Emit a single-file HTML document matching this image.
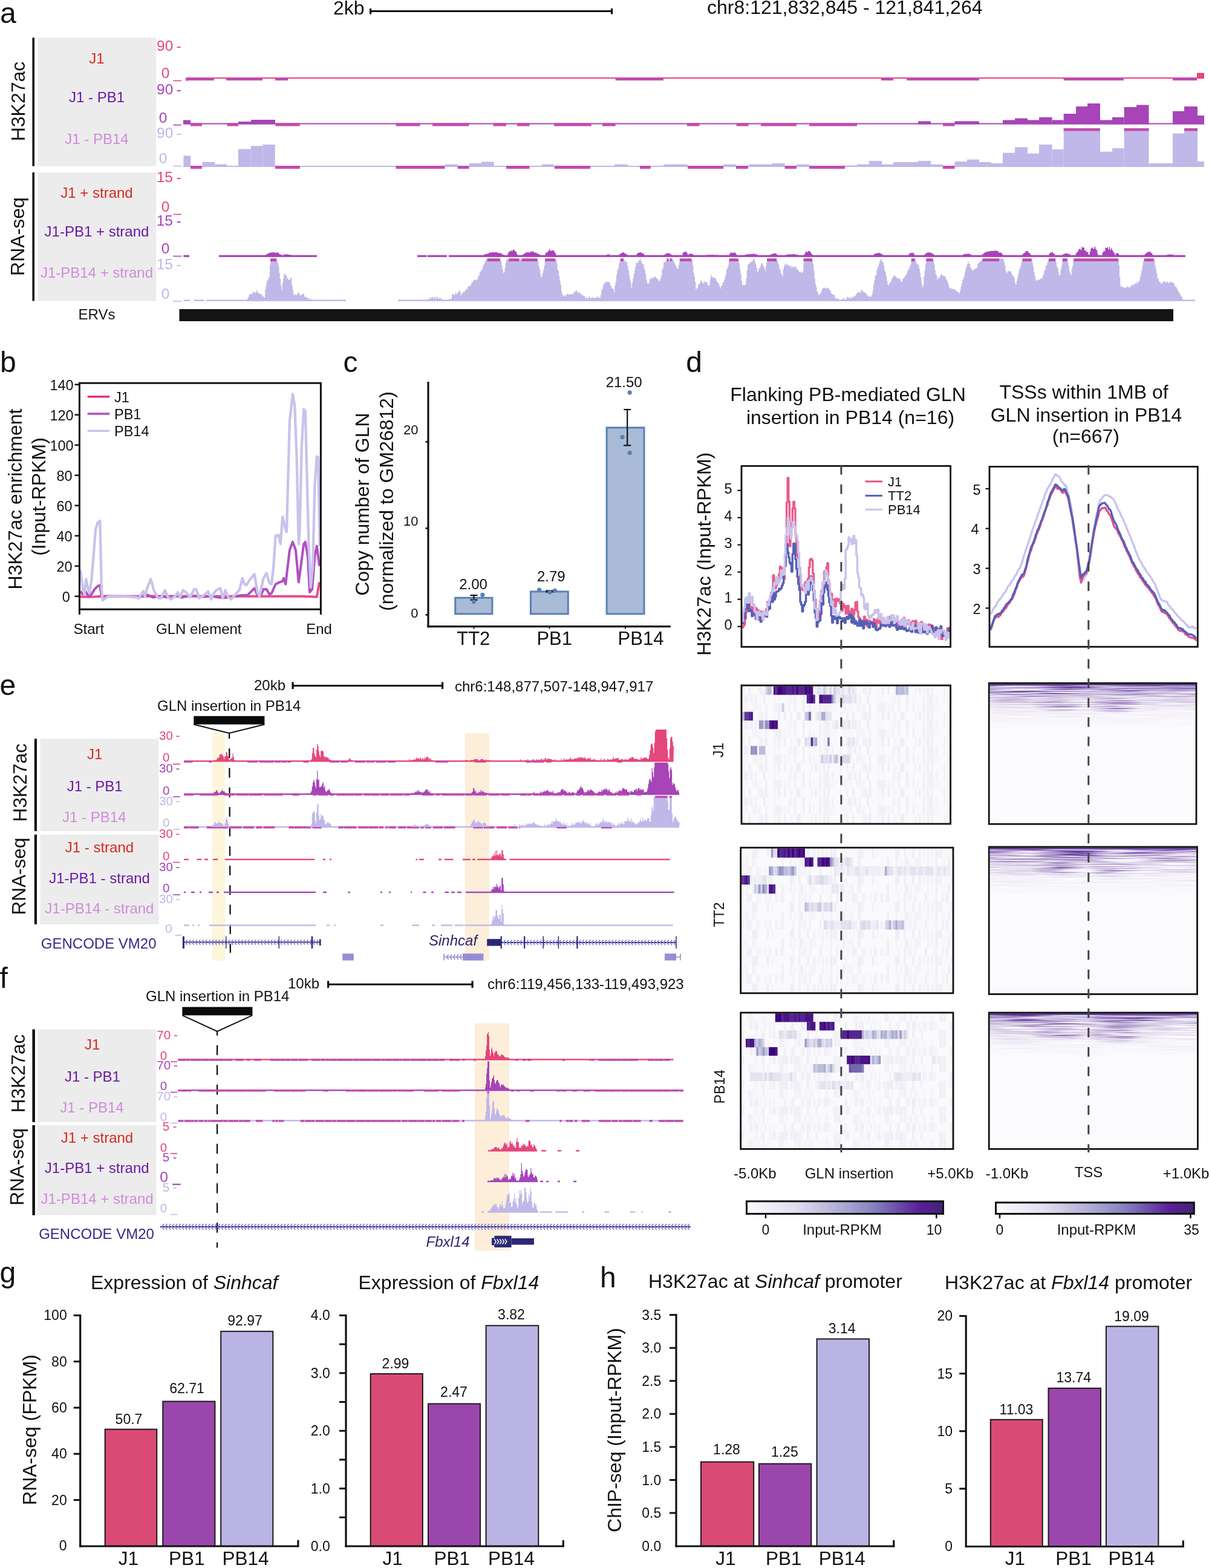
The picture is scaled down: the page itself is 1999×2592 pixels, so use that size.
<!DOCTYPE html>
<html><head><meta charset="utf-8"><title>Figure</title>
<style>html,body{margin:0;padding:0;background:#fff;width:1999px;height:2592px;overflow:hidden}svg{display:block}</style>
</head><body>
<svg width="1999" height="2592" viewBox="0 0 1999 2592" font-family="Liberation Sans, Arial, Helvetica, sans-serif" shape-rendering="auto">
<rect width="1999" height="2592" fill="#fff"/>
<text x="0" y="37.5" font-size="48" fill="#111">a</text>
<text x="551" y="24" font-size="32" fill="#111">2kb</text>
<line x1="612" y1="18.5" x2="1013" y2="18.5" stroke="#111" stroke-width="3"/>
<rect x="611" y="14" width="3.2" height="9.5" fill="#111"/>
<rect x="1010" y="14" width="3.2" height="9.5" fill="#111"/>
<text x="1169" y="23" font-size="32" fill="#111">chr8:121,832,845 - 121,841,264</text>
<rect x="62.3" y="62.3" width="196" height="212.3" fill="#ececec"/>
<rect x="62.3" y="285" width="196" height="212.5" fill="#ececec"/>
<rect x="53.4" y="62.3" width="3.6" height="212.3" fill="#111"/>
<rect x="53.4" y="285" width="3.6" height="212.5" fill="#111"/>
<text x="41" y="167.5" font-size="32" fill="#111" text-anchor="middle" transform="rotate(-90 41 167.5)">H3K27ac</text>
<text x="40" y="391" font-size="32" fill="#111" text-anchor="middle" transform="rotate(-90 40 391)">RNA-seq</text>
<text x="160" y="104.5" font-size="24" fill="#d8291f" text-anchor="middle">J1</text>
<text x="160" y="169" font-size="24" fill="#6c18a4" text-anchor="middle">J1 - PB1</text>
<text x="160" y="237.5" font-size="24" fill="#d08cda" text-anchor="middle">J1 - PB14</text>
<text x="160" y="327" font-size="24" fill="#d8291f" text-anchor="middle">J1 + strand</text>
<text x="160" y="391" font-size="24" fill="#6c18a4" text-anchor="middle">J1-PB1 + strand</text>
<text x="160" y="459" font-size="24" fill="#d08cda" text-anchor="middle">J1-PB14 + strand</text>
<text x="160" y="528" font-size="24" fill="#111" text-anchor="middle">ERVs</text>
<text x="259" y="84.2" font-size="24.5" fill="#e5467b">90</text>
<text x="291.5" y="84.2" font-size="24.5" fill="#e5467b">-</text>
<text x="266.8" y="129" font-size="24.5" fill="#e5467b">0</text>
<line x1="286.3" y1="133.4" x2="299.9" y2="133.4" stroke="#e5467b" stroke-width="1.6"/>
<text x="259" y="156.2" font-size="24.5" fill="#a644b8">90</text>
<text x="291.5" y="156.2" font-size="24.5" fill="#a644b8">-</text>
<text x="262.8" y="202.5" font-size="24.5" fill="#a644b8">0</text>
<line x1="286.3" y1="206.5" x2="299.9" y2="206.5" stroke="#a644b8" stroke-width="1.6"/>
<text x="259" y="228.2" font-size="24.5" fill="#c0b8e8">90</text>
<text x="291.5" y="228.2" font-size="24.5" fill="#c0b8e8">-</text>
<text x="262.8" y="270.2" font-size="24.5" fill="#c0b8e8">0</text>
<line x1="286.3" y1="274.5" x2="299.9" y2="274.5" stroke="#c0b8e8" stroke-width="1.6"/>
<text x="258.7" y="301" font-size="24.5" fill="#e5467b">15</text>
<text x="291.5" y="301" font-size="24.5" fill="#e5467b">-</text>
<text x="266.8" y="350" font-size="24.5" fill="#e5467b">0</text>
<line x1="286.3" y1="354.4" x2="299.9" y2="354.4" stroke="#e5467b" stroke-width="1.6"/>
<text x="258.7" y="373" font-size="24.5" fill="#a644b8">15</text>
<text x="291.5" y="373" font-size="24.5" fill="#a644b8">-</text>
<text x="266.8" y="419" font-size="24.5" fill="#a644b8">0</text>
<line x1="286.3" y1="423.5" x2="299.9" y2="423.5" stroke="#a644b8" stroke-width="1.6"/>
<text x="258.7" y="444.5" font-size="24.5" fill="#c0b8e8">15</text>
<text x="291.5" y="444.5" font-size="24.5" fill="#c0b8e8">-</text>
<text x="266.8" y="494" font-size="24.5" fill="#c0b8e8">0</text>
<line x1="286.3" y1="498" x2="299.9" y2="498" stroke="#c0b8e8" stroke-width="1.6"/>
<line x1="308" y1="129" x2="1980" y2="129" stroke="#e5467b" stroke-width="2"/>
<rect x="308" y="128" width="46" height="5" fill="#c24bae"/>
<rect x="374" y="128" width="60" height="5" fill="#c24bae"/>
<rect x="455" y="128" width="21" height="5" fill="#c24bae"/>
<rect x="1017.6" y="128" width="79.4" height="5" fill="#c24bae"/>
<rect x="1457" y="128" width="20" height="5" fill="#c24bae"/>
<rect x="1499" y="128" width="120" height="5" fill="#c24bae"/>
<rect x="1758.7" y="128" width="99.3" height="5" fill="#c24bae"/>
<rect x="1939" y="128" width="40" height="5" fill="#c24bae"/>
<rect x="307" y="129" width="4" height="4.5" fill="#c24bae"/>
<rect x="1979" y="120.5" width="12" height="9.5" fill="#e5467b"/>
<line x1="303" y1="204.5" x2="1991" y2="204.5" stroke="#a644b8" stroke-width="2.2"/>
<rect x="303" y="198.5" width="12" height="7" fill="#a644b8"/>
<rect x="394" y="201" width="21" height="4.5" fill="#a644b8"/>
<rect x="415" y="198" width="40" height="7.5" fill="#a644b8"/>
<rect x="1518" y="200.4" width="21" height="5.1" fill="#a644b8"/>
<rect x="1578.5" y="200.4" width="40.5" height="5.1" fill="#a644b8"/>
<rect x="1658" y="198.5" width="20" height="7" fill="#a644b8"/>
<rect x="1678" y="195.6" width="21" height="9.9" fill="#a644b8"/>
<rect x="1699" y="198.5" width="19" height="7" fill="#a644b8"/>
<rect x="1718" y="193.8" width="21.6" height="11.8" fill="#a644b8"/>
<rect x="1739.6" y="198.5" width="19.1" height="7" fill="#a644b8"/>
<rect x="1758.7" y="188" width="20.3" height="17.5" fill="#a644b8"/>
<rect x="1779" y="176" width="19" height="29.5" fill="#a644b8"/>
<rect x="1798" y="171" width="21" height="34.5" fill="#a644b8"/>
<rect x="1819" y="198.5" width="20" height="7" fill="#a644b8"/>
<rect x="1839" y="193.8" width="19.7" height="11.8" fill="#a644b8"/>
<rect x="1858.7" y="177" width="20.3" height="28.5" fill="#a644b8"/>
<rect x="1879" y="173.5" width="20.5" height="32" fill="#a644b8"/>
<rect x="1939" y="183.8" width="19" height="21.7" fill="#a644b8"/>
<rect x="1958" y="176" width="22" height="29.5" fill="#a644b8"/>
<rect x="1980" y="191" width="11" height="14.5" fill="#a644b8"/>
<rect x="315" y="203.5" width="19" height="5" fill="#c24bae"/>
<rect x="375.5" y="203.5" width="18.5" height="5" fill="#c24bae"/>
<rect x="455.4" y="203.5" width="40.4" height="5" fill="#c24bae"/>
<rect x="654.6" y="203.5" width="40.1" height="5" fill="#c24bae"/>
<rect x="715" y="203.5" width="60.5" height="5" fill="#c24bae"/>
<rect x="815.6" y="203.5" width="21.4" height="5" fill="#c24bae"/>
<rect x="854.8" y="203.5" width="20.7" height="5" fill="#c24bae"/>
<rect x="916" y="203.5" width="61.7" height="5" fill="#c24bae"/>
<rect x="996" y="203.5" width="21.6" height="5" fill="#c24bae"/>
<rect x="1136" y="203.5" width="20.5" height="5" fill="#c24bae"/>
<rect x="1217.5" y="203.5" width="20.3" height="5" fill="#c24bae"/>
<rect x="1258" y="203.5" width="59" height="5" fill="#c24bae"/>
<rect x="1338" y="203.5" width="79" height="5" fill="#c24bae"/>
<rect x="1559" y="203.5" width="19.5" height="5" fill="#c24bae"/>
<line x1="303" y1="275" x2="1991" y2="275" stroke="#c0b8e8" stroke-width="2"/>
<rect x="303.4" y="257.4" width="11.8" height="18.6" fill="#c0b8e8"/>
<rect x="334.5" y="267.8" width="20.8" height="8.2" fill="#c0b8e8"/>
<rect x="355.3" y="271.6" width="20.2" height="4.4" fill="#c0b8e8"/>
<rect x="394" y="246.4" width="20.7" height="29.6" fill="#c0b8e8"/>
<rect x="414.7" y="241.3" width="19.9" height="34.7" fill="#c0b8e8"/>
<rect x="434.6" y="239" width="20.2" height="37" fill="#c0b8e8"/>
<rect x="735.4" y="271.6" width="21.3" height="4.4" fill="#c0b8e8"/>
<rect x="775.5" y="270" width="20.5" height="6" fill="#c0b8e8"/>
<rect x="796" y="267.4" width="20.7" height="8.6" fill="#c0b8e8"/>
<rect x="895.8" y="271.7" width="20.2" height="4.3" fill="#c0b8e8"/>
<rect x="1016" y="271.7" width="21.6" height="4.3" fill="#c0b8e8"/>
<rect x="1097" y="271.7" width="40" height="4.3" fill="#c0b8e8"/>
<rect x="1196" y="271.7" width="21" height="4.3" fill="#c0b8e8"/>
<rect x="1237.8" y="271.7" width="39.2" height="4.3" fill="#c0b8e8"/>
<rect x="1277" y="270" width="20.6" height="6" fill="#c0b8e8"/>
<rect x="1317" y="271.7" width="21" height="4.3" fill="#c0b8e8"/>
<rect x="1397" y="273.5" width="20" height="2.5" fill="#c0b8e8"/>
<rect x="1417" y="271.7" width="20" height="4.3" fill="#c0b8e8"/>
<rect x="1437" y="266" width="21" height="10" fill="#c0b8e8"/>
<rect x="1458" y="271.7" width="19" height="4.3" fill="#c0b8e8"/>
<rect x="1477" y="268" width="41" height="8" fill="#c0b8e8"/>
<rect x="1518" y="266" width="21" height="10" fill="#c0b8e8"/>
<rect x="1539" y="271.7" width="20" height="4.3" fill="#c0b8e8"/>
<rect x="1578.5" y="267" width="20.5" height="9" fill="#c0b8e8"/>
<rect x="1599" y="263.6" width="20" height="12.4" fill="#c0b8e8"/>
<rect x="1619" y="268" width="20" height="8" fill="#c0b8e8"/>
<rect x="1639" y="270" width="19" height="6" fill="#c0b8e8"/>
<rect x="1658" y="252.6" width="20" height="23.4" fill="#c0b8e8"/>
<rect x="1678" y="243.4" width="21" height="32.6" fill="#c0b8e8"/>
<rect x="1699" y="253.7" width="19" height="22.3" fill="#c0b8e8"/>
<rect x="1718" y="239" width="21.6" height="37" fill="#c0b8e8"/>
<rect x="1739.6" y="247" width="19.1" height="29" fill="#c0b8e8"/>
<rect x="1758.7" y="212" width="60.3" height="64" fill="#c0b8e8"/>
<rect x="1758.7" y="212" width="60.3" height="4.5" fill="#c24bae"/>
<rect x="1819" y="250.7" width="20" height="25.3" fill="#c0b8e8"/>
<rect x="1839" y="245" width="19.7" height="31" fill="#c0b8e8"/>
<rect x="1858.7" y="212" width="40.8" height="64" fill="#c0b8e8"/>
<rect x="1858.7" y="212" width="40.8" height="4.5" fill="#c24bae"/>
<rect x="1899.5" y="270" width="39.5" height="6" fill="#c0b8e8"/>
<rect x="1939" y="220.6" width="19" height="55.4" fill="#c0b8e8"/>
<rect x="1958" y="212" width="22" height="64" fill="#c0b8e8"/>
<rect x="1958" y="212" width="22" height="4.5" fill="#c24bae"/>
<rect x="1980" y="267" width="11" height="9" fill="#c0b8e8"/>
<rect x="315" y="274" width="19" height="5" fill="#c24bae"/>
<rect x="455" y="274" width="40.8" height="5" fill="#c24bae"/>
<rect x="654.6" y="274" width="80.8" height="5" fill="#c24bae"/>
<rect x="756.7" y="274" width="18.8" height="5" fill="#c24bae"/>
<rect x="837" y="274" width="38.5" height="5" fill="#c24bae"/>
<rect x="917" y="274" width="59" height="5" fill="#c24bae"/>
<rect x="1058" y="274" width="17.7" height="5" fill="#c24bae"/>
<rect x="1137" y="274" width="59" height="5" fill="#c24bae"/>
<rect x="1217" y="274" width="20" height="5" fill="#c24bae"/>
<rect x="1297.6" y="274" width="19.4" height="5" fill="#c24bae"/>
<rect x="1338" y="274" width="59" height="5" fill="#c24bae"/>
<rect x="1559" y="274" width="19.5" height="5" fill="#c24bae"/>
<polygon points="438,423.2 438,423.2 439.6,423.2 439.6,421.1 441.2,421.1 441.2,419.2 442.8,419.2 442.8,419.4 444.4,419.4 444.4,417.7 446,417.7 446,417.5 447.6,417.5 447.6,418 449.2,418 449.2,416.5 450.8,416.5 450.8,417.7 452.4,417.7 452.4,416.6 454,416.6 454,417.7 455.6,417.7 455.6,417.9 457.2,417.9 457.2,417.5 458.8,417.5 458.8,417.1 460.4,417.1 460.4,419.4 462,419.4 462,420 463.6,420 463.6,420.8 465.2,420.8 465,423.2" fill="#a644b8"/>
<polygon points="465,423.2 465,423.2 466.6,423.2 466.6,421.8 468.2,421.8 468.2,421.3 469.8,421.3 469.8,420.3 471.4,420.3 471.4,421 473,421 473,419.9 474.6,419.9 474.6,420.6 476.2,420.6 476.2,420.9 477.8,420.9 477.8,421.1 479.4,421.1 479.4,421.3 481,421.3 481,421.5 482.6,421.5 482.6,422.7 484.2,422.7 483,423.2" fill="#a644b8"/>
<polygon points="798,423.2 798,423.2 799.6,423.2 799.6,421.2 801.2,421.2 801.2,420.5 802.8,420.5 802.8,419.5 804.4,419.5 804.4,419.7 806,419.7 806,419.3 807.6,419.3 807.6,418.6 809.2,418.6 809.2,417.2 810.8,417.2 810.8,417.5 812.4,417.5 812.4,417.6 814,417.6 814,416.8 815.6,416.8 815.6,417.1 817.2,417.1 817.2,417.6 818.8,417.6 818.8,416.4 820.4,416.4 820.4,416.9 822,416.9 822,418.3 823.6,418.3 823.6,417.8 825.2,417.8 825.2,418.4 826.8,418.4 826.8,418.3 828.4,418.3 828.4,419.3 830,419.3 830,420.7 831.6,420.7 831.6,421.1 833.2,421.1 833,423.2" fill="#a644b8"/>
<polygon points="838,423.2 838,423.2 839.6,423.2 839.6,418.6 841.2,418.6 841.2,415.5 842.8,415.5 842.8,416 844.4,416 844.4,413.8 846,413.8 846,415.3 847.6,415.3 847.6,412.7 849.2,412.7 849.2,413 850.8,413 850.8,415 852.4,415 852.4,416 854,416 854,419.9 855.6,419.9 855,423.2" fill="#a644b8"/>
<polygon points="862,423.2 862,423.2 863.6,423.2 863.6,420.9 865.2,420.9 865.2,419.8 866.8,419.8 866.8,419.2 868.4,419.2 868.4,417.7 870,417.7 870,416.8 871.6,416.8 871.6,417.5 873.2,417.5 873.2,416.6 874.8,416.6 874.8,418 876.4,418 876.4,416.1 878,416.1 878,416.2 879.6,416.2 879.6,415.3 881.2,415.3 881.2,415.9 882.8,415.9 882.8,417.6 884.4,417.6 884.4,417.7 886,417.7 886,417.5 887.6,417.5 887.6,419.4 889.2,419.4 889.2,419.2 890.8,419.2 890.8,420.4 892.4,420.4 892.4,421.4 894,421.4 894,423.2" fill="#a644b8"/>
<polygon points="900,423.2 900,423.2 901.6,423.2 901.6,418.3 903.2,418.3 903.2,417.7 904.8,417.7 904.8,416 906.4,416 906.4,414.5 908,414.5 908,412 909.6,412 909.6,415.1 911.2,415.1 911.2,413.7 912.8,413.7 912.8,414 914.4,414 914.4,414 916,414 916,416 917.6,416 917.6,418.5 919.2,418.5 919,423.2" fill="#a644b8"/>
<polygon points="1001,423.2 1001,423.2 1002.6,423.2 1002.6,421 1004.2,421 1004.2,420.5 1005.8,420.5 1005.8,420.2 1007.4,420.2 1007.4,421.6 1009,421.6 1008,423.2" fill="#a644b8"/>
<polygon points="1022,423.2 1022,423.2 1023.6,423.2 1023.6,420.6 1025.2,420.6 1025.2,419.4 1026.8,419.4 1026.8,418.6 1028.4,418.6 1028.4,417.6 1030,417.6 1030,417.2 1031.6,417.2 1031.6,418.3 1033.2,418.3 1033.2,419.5 1034.8,419.5 1034.8,419.8 1036.4,419.8 1036.4,421.6 1038,421.6 1037,423.2" fill="#a644b8"/>
<polygon points="1051,423.2 1051,423.2 1052.6,423.2 1052.6,419.5 1054.2,419.5 1054.2,418.3 1055.8,418.3 1055.8,417.8 1057.4,417.8 1057.4,417.2 1059,417.2 1059,417.1 1060.6,417.1 1060.6,419 1062.2,419 1062.2,418.3 1063.8,418.3 1063.8,420.3 1065.4,420.3 1065,423.2" fill="#a644b8"/>
<polygon points="1097,423.2 1097,423.2 1098.6,423.2 1098.6,420.2 1100.2,420.2 1100.2,419.5 1101.8,419.5 1101.8,418.8 1103.4,418.8 1103.4,419.1 1105,419.1 1105,418 1106.6,418 1106.6,419.6 1108.2,419.6 1108.2,420.3 1109.8,420.3 1109.8,421.2 1111.4,421.2 1111,423.2" fill="#a644b8"/>
<polygon points="1127,423.2 1127,423.2 1128.6,423.2 1128.6,417.9 1130.2,417.9 1130.2,416.7 1131.8,416.7 1131.8,416.3 1133.4,416.3 1133.4,416.1 1135,416.1 1135,417.9 1136.6,417.9 1136.6,420.8 1138.2,420.8 1137,423.2" fill="#a644b8"/>
<polygon points="1137,423.2 1137,423.2 1138.6,423.2 1138.6,420.1 1140.2,420.1 1140.2,419.3 1141.8,419.3 1141.8,419.7 1143.4,419.7 1143.4,419.7 1145,419.7 1145,420.4 1146.6,420.4 1146.6,422.1 1148.2,422.1 1147,423.2" fill="#a644b8"/>
<polygon points="1157,423.2 1157,423.2 1158.6,423.2 1158.6,422.5 1160.2,422.5 1160.2,422 1161.8,422 1161.8,422 1163.4,422 1163.4,421.8 1165,421.8 1165,421.9 1166.6,421.9 1166.6,421.8 1168.2,421.8 1168.2,421.5 1169.8,421.5 1169.8,421.5 1171.4,421.5 1171.4,420.9 1173,420.9 1173,421.4 1174.6,421.4 1174.6,421.6 1176.2,421.6 1176.2,420.8 1177.8,420.8 1177.8,421.2 1179.4,421.2 1179.4,421.5 1181,421.5 1181,421.3 1182.6,421.3 1182.6,421.8 1184.2,421.8 1184.2,421.5 1185.8,421.5 1185.8,421.4 1187.4,421.4 1187.4,421.7 1189,421.7 1189,422 1190.6,422 1190.6,422.5 1192.2,422.5 1192.2,422.8 1193.8,422.8 1193,423.2" fill="#a644b8"/>
<polygon points="1204,423.2 1204,423.2 1205.6,423.2 1205.6,419.8 1207.2,419.8 1207.2,418.6 1208.8,418.6 1208.8,417.2 1210.4,417.2 1210.4,417.9 1212,417.9 1212,418.2 1213.6,418.2 1213.6,417.3 1215.2,417.3 1215.2,418.1 1216.8,418.1 1216.8,420.2 1218.4,420.2 1218,423.2" fill="#a644b8"/>
<polygon points="1229,423.2 1229,423.2 1230.6,423.2 1230.6,421.6 1232.2,421.6 1232.2,420.9 1233.8,420.9 1233.8,420.9 1235.4,420.9 1235.4,420.1 1237,420.1 1237,420.1 1238.6,420.1 1238.6,420.3 1240.2,420.3 1240.2,420.3 1241.8,420.3 1241.8,419.8 1243.4,419.8 1243.4,419.9 1245,419.9 1245,419.4 1246.6,419.4 1246.6,419.3 1248.2,419.3 1248.2,420.4 1249.8,420.4 1249.8,420.3 1251.4,420.3 1251.4,420.9 1253,420.9 1253,421.9 1254.6,421.9 1254,423.2" fill="#a644b8"/>
<polygon points="1271,423.2 1271,423.2 1272.6,423.2 1272.6,421.3 1274.2,421.3 1274.2,420.5 1275.8,420.5 1275.8,420 1277.4,420 1277.4,419.6 1279,419.6 1279,418.9 1280.6,418.9 1280.6,418.7 1282.2,418.7 1282.2,419.3 1283.8,419.3 1283.8,420.7 1285.4,420.7 1285.4,421.9 1287,421.9 1286,423.2" fill="#a644b8"/>
<polygon points="1296,423.2 1296,423.2 1297.6,423.2 1297.6,422.3 1299.2,422.3 1299.2,421.5 1300.8,421.5 1300.8,420.8 1302.4,420.8 1302.4,420.6 1304,420.6 1304,420.4 1305.6,420.4 1305.6,420.5 1307.2,420.5 1307.2,420.7 1308.8,420.7 1308.8,420 1310.4,420 1310.4,420.5 1312,420.5 1312,420.1 1313.6,420.1 1313.6,420.1 1315.2,420.1 1315.2,420.9 1316.8,420.9 1316.8,421.2 1318.4,421.2 1318.4,421.2 1320,421.2 1320,421.9 1321.6,421.9 1321.6,422.8 1323.2,422.8 1322,423.2" fill="#a644b8"/>
<polygon points="1328,423.2 1328,423.2 1329.6,423.2 1329.6,420 1331.2,420 1331.2,416.7 1332.8,416.7 1332.8,415.6 1334.4,415.6 1334.4,417 1336,417 1336,414.8 1337.6,414.8 1337.6,414.8 1339.2,414.8 1339.2,416.7 1340.8,416.7 1340.8,418.9 1342.4,418.9 1342.4,421 1344,421 1343,423.2" fill="#a644b8"/>
<polygon points="1442,423.2 1442,423.2 1443.6,423.2 1443.6,421.6 1445.2,421.6 1445.2,419.6 1446.8,419.6 1446.8,419.3 1448.4,419.3 1448.4,419 1450,419 1450,417.9 1451.6,417.9 1451.6,418.8 1453.2,418.8 1453.2,418.1 1454.8,418.1 1454.8,418.5 1456.4,418.5 1456.4,420 1458,420 1458,420.6 1459.6,420.6 1459.6,421.5 1461.2,421.5 1461,423.2" fill="#a644b8"/>
<polygon points="1501,423.2 1501,423.2 1502.6,423.2 1502.6,419.5 1504.2,419.5 1504.2,418.7 1505.8,418.7 1505.8,417.7 1507.4,417.7 1507.4,418.4 1509,418.4 1509,417.5 1510.6,417.5 1510.6,420.1 1512.2,420.1 1512,423.2" fill="#a644b8"/>
<polygon points="1527,423.2 1527,423.2 1528.6,423.2 1528.6,420.4 1530.2,420.4 1530.2,418.6 1531.8,418.6 1531.8,418.5 1533.4,418.5 1533.4,416.8 1535,416.8 1535,417.5 1536.6,417.5 1536.6,417.4 1538.2,417.4 1538.2,417.6 1539.8,417.6 1539.8,419.2 1541.4,419.2 1541.4,419.1 1543,419.1 1543,420.6 1544.6,420.6 1544.6,422.3 1546.2,422.3 1545,423.2" fill="#a644b8"/>
<polygon points="1589,423.2 1589,423.2 1590.6,423.2 1590.6,421.8 1592.2,421.8 1592.2,420.8 1593.8,420.8 1593.8,420 1595.4,420 1595.4,419.8 1597,419.8 1597,419.9 1598.6,419.9 1598.6,419.5 1600.2,419.5 1600.2,419.6 1601.8,419.6 1601.8,419.5 1603.4,419.5 1603.4,420.8 1605,420.8 1605,420.8 1606.6,420.8 1606.6,421.9 1608.2,421.9 1608,423.2" fill="#a644b8"/>
<polygon points="1622,423.2 1622,423.2 1623.6,423.2 1623.6,420.4 1625.2,420.4 1625.2,419.4 1626.8,419.4 1626.8,418.3 1628.4,418.3 1628.4,417 1630,417 1630,415.9 1631.6,415.9 1631.6,416.5 1633.2,416.5 1633.2,415.6 1634.8,415.6 1634.8,415.5 1636.4,415.5 1636.4,415.2 1638,415.2 1638,414.4 1639.6,414.4 1639.6,415.1 1641.2,415.1 1641.2,414.8 1642.8,414.8 1642.8,415.1 1644.4,415.1 1644.4,413.7 1646,413.7 1646,414.8 1647.6,414.8 1647.6,414.7 1649.2,414.7 1649.2,415 1650.8,415 1650.8,417.5 1652.4,417.5 1652.4,417.4 1654,417.4 1654,417.4 1655.6,417.4 1655.6,418.8 1657.2,418.8 1657.2,420.9 1658.8,420.9 1658.8,422.6 1660.4,422.6 1659,423.2" fill="#a644b8"/>
<polygon points="1689,423.2 1689,423.2 1690.6,423.2 1690.6,420.1 1692.2,420.1 1692.2,418.2 1693.8,418.2 1693.8,417.7 1695.4,417.7 1695.4,415.4 1697,415.4 1697,414.9 1698.6,414.9 1698.6,415 1700.2,415 1700.2,418 1701.8,418 1701.8,418.2 1703.4,418.2 1703.4,420.9 1705,420.9 1704,423.2" fill="#a644b8"/>
<polygon points="1733,423.2 1733,423.2 1734.6,423.2 1734.6,419.1 1736.2,419.1 1736.2,417.2 1737.8,417.2 1737.8,418.2 1739.4,418.2 1739.4,416.5 1741,416.5 1741,418.5 1742.6,418.5 1742.6,419.9 1744.2,419.9 1744,423.2" fill="#a644b8"/>
<polygon points="1755,423.2 1755,423.2 1756.6,423.2 1756.6,420.5 1758.2,420.5 1758.2,420.3 1759.8,420.3 1759.8,419.2 1761.4,419.2 1761.4,418.7 1763,418.7 1763,419 1764.6,419 1764.6,419.5 1766.2,419.5 1766.2,419.8 1767.8,419.8 1767.8,420.1 1769.4,420.1 1769.4,422.2 1771,422.2 1770,423.2" fill="#a644b8"/>
<polygon points="1777,423.2 1777,423.2 1778.6,423.2 1778.6,418.4 1780.2,418.4 1780.2,417.3 1781.8,417.3 1781.8,414.7 1783.4,414.7 1783.4,412.1 1785,412.1 1785,411.6 1786.6,411.6 1786.6,413.3 1788.2,413.3 1788.2,408.3 1789.8,408.3 1789.8,409.4 1791.4,409.4 1791.4,409 1793,409 1793,414.1 1794.6,414.1 1794.6,414.4 1796.2,414.4 1796.2,416.7 1797.8,416.7 1797.8,416.5 1799.4,416.5 1799.4,420.7 1801,420.7 1800,423.2" fill="#a644b8"/>
<polygon points="1800,423.2 1800,423.2 1801.6,423.2 1801.6,416.2 1803.2,416.2 1803.2,410.8 1804.8,410.8 1804.8,408.8 1806.4,408.8 1806.4,410.8 1808,410.8 1808,411.3 1809.6,411.3 1809.6,407.6 1811.2,407.6 1811.2,411.4 1812.8,411.4 1812.8,413.8 1814.4,413.8 1814.4,419.9 1816,419.9 1815,423.2" fill="#a644b8"/>
<polygon points="1821,423.2 1821,423.2 1822.6,423.2 1822.6,417.4 1824.2,417.4 1824.2,415.4 1825.8,415.4 1825.8,415 1827.4,415 1827.4,409.6 1829,409.6 1829,410 1830.6,410 1830.6,408.5 1832.2,408.5 1832.2,412.3 1833.8,412.3 1833.8,408.3 1835.4,408.3 1835.4,413.2 1837,413.2 1837,410.3 1838.6,410.3 1838.6,413.8 1840.2,413.8 1840.2,416.2 1841.8,416.2 1841.8,418.5 1843.4,418.5 1843,423.2" fill="#a644b8"/>
<polygon points="1843,423.2 1843,423.2 1844.6,423.2 1844.6,419.2 1846.2,419.2 1846.2,418.4 1847.8,418.4 1847.8,418 1849.4,418 1849.4,420.9 1851,420.9 1850,423.2" fill="#a644b8"/>
<polygon points="1891,423.2 1891,423.2 1892.6,423.2 1892.6,419.9 1894.2,419.9 1894.2,418.7 1895.8,418.7 1895.8,417.3 1897.4,417.3 1897.4,416.5 1899,416.5 1899,416.4 1900.6,416.4 1900.6,415.4 1902.2,415.4 1902.2,417.7 1903.8,417.7 1903.8,418.6 1905.4,418.6 1905.4,421.4 1907,421.4 1906,423.2" fill="#a644b8"/>
<polygon points="1924,423.2 1924,423.2 1925.6,423.2 1925.6,422.3 1927.2,422.3 1927.2,421.8 1928.8,421.8 1928.8,421.6 1930.4,421.6 1930.4,420.7 1932,420.7 1932,420.7 1933.6,420.7 1933.6,421.1 1935.2,421.1 1935.2,420.8 1936.8,420.8 1936.8,420.4 1938.4,420.4 1938.4,421.4 1940,421.4 1940,421.2 1941.6,421.2 1941.6,421.9 1943.2,421.9 1943.2,422.5 1944.8,422.5 1944,423.2" fill="#a644b8"/>
<rect x="303.4" y="421.7" width="9.6" height="3.2" fill="#a644b8"/>
<rect x="362" y="421.7" width="162" height="3.2" fill="#a644b8"/>
<rect x="690" y="421.7" width="15.7" height="3.2" fill="#a644b8"/>
<rect x="707" y="421.7" width="32" height="3.2" fill="#a644b8"/>
<rect x="742" y="421.7" width="1218" height="3.2" fill="#a644b8"/>
<polygon points="404.3,497.6 404.3,497.2 405.6,497.2 405.6,496.8 406.9,496.8 406.9,497.5 408.2,497.5 408.2,494.6 409.5,494.6 409.5,492.7 410.8,492.7 410.8,490.1 412.1,490.1 412.1,486 413.4,486 413.4,486.5 414.7,486.5 414.7,486.2 416,486.2 416,486 417.3,486 417.3,482.6 418.6,482.6 418.6,483.3 419.9,483.3 419.9,482.1 421.2,482.1 421.2,484.6 422.5,484.6 422.5,483.1 423.8,483.1 423.8,479.2 425.1,479.2 425.1,482.3 426.4,482.3 426.4,484.2 427.7,484.2 427.7,484.8 429,484.8 429,486.1 430.3,486.1 430.3,485.4 431.6,485.4 431.6,486 432.9,486 432.9,489.6 434.2,489.6 434.2,488.8 435.5,488.8 435.5,490.7 436.8,490.7 436.8,492.2 438.1,492.2 438.1,478.9 439.4,478.9 439.4,472.3 440.7,472.3 440.7,465.7 442,465.7 442,463.3 443.3,463.3 443.3,460.5 444.6,460.5 444.6,456.9 445.9,456.9 445.9,437.7 447.2,437.7 447.2,427.6 448.5,427.6 448.5,427.2 449.8,427.2 449.8,427.2 451.1,427.2 451.1,427.2 452.4,427.2 452.4,427.3 453.7,427.3 453.7,427.3 455,427.3 455,427.3 456.3,427.3 456.3,427.3 457.6,427.3 457.6,430.9 458.9,430.9 458.9,434.9 460.2,434.9 460.2,440 461.5,440 461.5,451.3 462.8,451.3 462.8,461 464.1,461 464.1,472.1 465.4,472.1 465.4,479.4 466.7,479.4 466.7,468.4 468,468.4 468,460.4 469.3,460.4 469.3,454.1 470.6,454.1 470.6,452 471.9,452 471.9,455.8 473.2,455.8 473.2,455.7 474.5,455.7 474.5,460.3 475.8,460.3 475.8,460.4 477.1,460.4 477.1,462.9 478.4,462.9 478.4,462.4 479.7,462.4 479.7,458.7 481,458.7 481,459.6 482.3,459.6 482.3,470.7 483.6,470.7 483.6,478.4 484.9,478.4 484.9,486.5 486.2,486.5 486.2,488.5 487.5,488.5 487.5,486.2 488.8,486.2 488.8,487.7 490.1,487.7 490.1,487.5 491.4,487.5 491.4,484.8 492.7,484.8 492.7,483.5 494,483.5 494,484.2 495.3,484.2 495.3,487.3 496.6,487.3 496.6,488.4 497.9,488.4 497.9,487.3 499.2,487.3 499.2,486.9 500.5,486.9 500.5,485.2 501.8,485.2 501.8,486.1 503.1,486.1 503.1,491 504.4,491 504.4,489.6 505.7,489.6 505.7,492.1 507,492.1 507,492.5 508.3,492.5 508.3,492.2 509.6,492.2 509.6,495.1 510.9,495.1 510.9,493 512.2,493 512.2,495.8 513.5,495.8 513.5,494 514.8,494 514.8,495.8 516.1,495.8 515.7,497.6" fill="#c0b8e8"/>
<polygon points="705.7,497.6 705.7,495.2 707,495.2 707,493.8 708.3,493.8 708.3,495.2 709.6,495.2 709.6,493.8 710.9,493.8 710.9,491.3 712.2,491.3 712.2,493.6 713.5,493.6 713.5,490.4 714.8,490.4 714.8,491 716.1,491 716.1,493.2 717.4,493.2 717.4,492.4 718.7,492.4 718.7,490.2 720,490.2 720,494.3 721.3,494.3 721.3,491.1 722.6,491.1 722.6,491.5 723.9,491.5 723.9,494 725.2,494 725.2,492.7 726.5,492.7 726.5,493.2 727.8,493.2 727.8,492.8 729.1,492.8 729.1,493.5 730.4,493.5 730.4,496.3 731.7,496.3 731.7,495.4 733,495.4 733,496.8 734.3,496.8 734.3,495.7 735.6,495.7 735.6,496 736.9,496 736.9,497.6 738.2,497.6 738.2,496 739.5,496 739.5,496.3 740.8,496.3 740.8,497.5 742.1,497.5 742.1,494.4 743.4,494.4 743.4,494.1 744.7,494.1 744.7,496.3 746,496.3 746,492.4 747.3,492.4 747.3,486.5 748.6,486.5 748.6,485.6 749.9,485.6 749.9,487.3 751.2,487.3 751.2,487.6 752.5,487.6 752.5,483.6 753.8,483.6 753.8,486.3 755.1,486.3 755.1,485.4 756.4,485.4 756.4,483.5 757.7,483.5 757.7,482 759,482 759,480 760.3,480 760.3,481.9 761.6,481.9 761.6,488.6 762.9,488.6 762.9,485.3 764.2,485.3 764.2,485.4 765.5,485.4 765.5,481.8 766.8,481.8 766.8,483.3 768.1,483.3 768.1,481.3 769.4,481.3 769.4,479 770.7,479 770.7,477.5 772,477.5 772,478.4 773.3,478.4 773.3,473.9 774.6,473.9 774.6,473 775.9,473 775.9,472.8 777.2,472.8 777.2,472.5 778.5,472.5 778.5,469.5 779.8,469.5 779.8,466.1 781.1,466.1 781.1,467 782.4,467 782.4,463.2 783.7,463.2 783.7,462.1 785,462.1 785,463 786.3,463 786.3,463.5 787.6,463.5 787.6,461.5 788.9,461.5 788.9,461.8 790.2,461.8 790.2,456.8 791.5,456.8 791.5,455.5 792.8,455.5 792.8,450.5 794.1,450.5 794.1,448.5 795.4,448.5 795.4,447.8 796.7,447.8 796.7,445 798,445 798,440.4 799.3,440.4 799.3,437.3 800.6,437.3 800.6,434.8 801.9,434.8 801.9,431.4 803.2,431.4 803.2,429.4 804.5,429.4 804.5,427.8 805.8,427.8 805.8,430.3 807.1,430.3 807.1,429.4 808.4,429.4 808.4,430.5 809.7,430.5 809.7,426.4 811,426.4 811,429.1 812.3,429.1 812.3,428.4 813.6,428.4 813.6,429.5 814.9,429.5 814.9,427.7 816.2,427.7 816.2,430.7 817.5,430.7 817.5,426.6 818.8,426.6 818.8,428.7 820.1,428.7 820.1,429.5 821.4,429.5 821.4,430.3 822.7,430.3 822.7,429.5 824,429.5 824,429.4 825.3,429.4 825.3,429.8 826.6,429.8 826.6,430.3 827.9,430.3 827.9,431.6 829.2,431.6 829.2,438.7 830.5,438.7 830.5,445.4 831.8,445.4 831.8,450.9 833.1,450.9 833.1,450.6 834.4,450.6 834.4,443.2 835.7,443.2 835.7,434.4 837,434.4 837,428.8 838.3,428.8 838.3,429.1 839.6,429.1 839.6,428 840.9,428 840.9,428.9 842.2,428.9 842.2,429 843.5,429 843.5,426.7 844.8,426.7 844.8,429.1 846.1,429.1 846.1,430.7 847.4,430.7 847.4,430.2 848.7,430.2 848.7,429.5 850,429.5 850,428 851.3,428 851.3,429.5 852.6,429.5 852.6,428.9 853.9,428.9 853.9,428.2 855.2,428.2 855.2,430 856.5,430 856.5,426.7 857.8,426.7 857.8,429.6 859.1,429.6 859.1,426.4 860.4,426.4 860.4,428.9 861.7,428.9 861.7,428.4 863,428.4 863,427.3 864.3,427.3 864.3,429.4 865.6,429.4 865.6,428.5 866.9,428.5 866.9,429 868.2,429 868.2,430.4 869.5,430.4 869.5,427.4 870.8,427.4 870.8,426.3 872.1,426.3 872.1,427.6 873.4,427.6 873.4,429.3 874.7,429.3 874.7,427.2 876,427.2 876,427 877.3,427 877.3,430.3 878.6,430.3 878.6,429.2 879.9,429.2 879.9,428.2 881.2,428.2 881.2,430.2 882.5,430.2 882.5,427.7 883.8,427.7 883.8,429.2 885.1,429.2 885.1,427.2 886.4,427.2 886.4,428.2 887.7,428.2 887.7,429.8 889,429.8 889,432.1 890.3,432.1 890.3,439.2 891.6,439.2 891.6,444.3 892.9,444.3 892.9,452.4 894.2,452.4 894.2,458.5 895.5,458.5 895.5,456.7 896.8,456.7 896.8,451.4 898.1,451.4 898.1,446.1 899.4,446.1 899.4,439.3 900.7,439.3 900.7,431.8 902,431.8 902,430.5 903.3,430.5 903.3,427.5 904.6,427.5 904.6,427 905.9,427 905.9,428.3 907.2,428.3 907.2,427.5 908.5,427.5 908.5,427.2 909.8,427.2 909.8,428.1 911.1,428.1 911.1,429.1 912.4,429.1 912.4,428.5 913.7,428.5 913.7,427.7 915,427.7 915,430 916.3,430 916.3,430.6 917.6,430.6 917.6,428.3 918.9,428.3 918.9,429.7 920.2,429.7 920.2,435.6 921.5,435.6 921.5,445.4 922.8,445.4 922.8,447.9 924.1,447.9 924.1,457 925.4,457 925.4,464.2 926.7,464.2 926.7,471.3 928,471.3 928,481.7 929.3,481.7 929.3,486.5 930.6,486.5 930.6,488.9 931.9,488.9 931.9,489.7 933.2,489.7 933.2,487.3 934.5,487.3 934.5,490.4 935.8,490.4 935.8,487.2 937.1,487.2 937.1,486.3 938.4,486.3 938.4,485.4 939.7,485.4 939.7,487.4 941,487.4 941,486.1 942.3,486.1 942.3,486.4 943.6,486.4 943.6,486.1 944.9,486.1 944.9,486.3 946.2,486.3 946.2,486.4 947.5,486.4 947.5,484.7 948.8,484.7 948.8,482.1 950.1,482.1 950.1,482.8 951.4,482.8 951.4,481.1 952.7,481.1 952.7,479.8 954,479.8 954,482.5 955.3,482.5 955.3,484.3 956.6,484.3 956.6,482.7 957.9,482.7 957.9,483.8 959.2,483.8 959.2,484.9 960.5,484.9 960.5,487.2 961.8,487.2 961.8,487.2 963.1,487.2 963.1,488.3 964.4,488.3 964.4,489.7 965.7,489.7 965.7,488.9 967,488.9 967,491.7 968.3,491.7 968.3,493.3 969.6,493.3 969.6,490.1 970.9,490.1 970.9,493.7 972.2,493.7 972.2,492.7 973.5,492.7 973.5,490.1 974.8,490.1 974.8,491.4 976.1,491.4 976.1,492.1 977.4,492.1 977.4,493.3 978.7,493.3 978.7,490.9 980,490.9 980,491.7 981.3,491.7 981.3,493 982.6,493 982.6,492.6 983.9,492.6 983.9,493.2 985.2,493.2 985.2,491 986.5,491 986.5,491.8 987.8,491.8 987.8,489.7 989.1,489.7 989.1,492 990.4,492 990.4,492.3 991.7,492.3 991.7,491.5 993,491.5 993,487.4 994.3,487.4 994.3,479.6 995.6,479.6 995.6,477 996.9,477 996.9,471.7 998.2,471.7 998.2,469.4 999.5,469.4 999.5,466.8 1000.8,466.8 1000.8,467.2 1002.1,467.2 1002.1,464.5 1003.4,464.5 1003.4,466.5 1004.7,466.5 1004.7,466.1 1006,466.1 1006,466 1007.3,466 1007.3,467 1008.6,467 1008.6,470.8 1009.9,470.8 1009.9,473.4 1011.2,473.4 1011.2,476.5 1012.5,476.5 1012.5,477.5 1013.8,477.5 1013.8,477.6 1015.1,477.6 1015.1,483.2 1016.4,483.2 1016.4,471.7 1017.7,471.7 1017.7,466.3 1019,466.3 1019,454.8 1020.3,454.8 1020.3,446.9 1021.6,446.9 1021.6,443.9 1022.9,443.9 1022.9,436.7 1024.2,436.7 1024.2,432.4 1025.5,432.4 1025.5,429.7 1026.8,429.7 1026.8,429.5 1028.1,429.5 1028.1,430 1029.4,430 1029.4,429.3 1030.7,429.3 1030.7,430.5 1032,430.5 1032,429.6 1033.3,429.6 1033.3,433.3 1034.6,433.3 1034.6,431.2 1035.9,431.2 1035.9,433.6 1037.2,433.6 1037.2,439.5 1038.5,439.5 1038.5,445.6 1039.8,445.6 1039.8,454.6 1041.1,454.6 1041.1,461.4 1042.4,461.4 1042.4,468 1043.7,468 1043.7,476 1045,476 1045,467.7 1046.3,467.7 1046.3,459.4 1047.6,459.4 1047.6,452.6 1048.9,452.6 1048.9,447.5 1050.2,447.5 1050.2,440.5 1051.5,440.5 1051.5,433.6 1052.8,433.6 1052.8,435.1 1054.1,435.1 1054.1,434.4 1055.4,434.4 1055.4,431.1 1056.7,431.1 1056.7,430 1058,430 1058,427.4 1059.3,427.4 1059.3,431.5 1060.6,431.5 1060.6,433.9 1061.9,433.9 1061.9,437 1063.2,437 1063.2,437 1064.5,437 1064.5,443.8 1065.8,443.8 1065.8,447 1067.1,447 1067.1,453.4 1068.4,453.4 1068.4,462.1 1069.7,462.1 1069.7,468 1071,468 1071,469.7 1072.3,469.7 1072.3,467.6 1073.6,467.6 1073.6,461.8 1074.9,461.8 1074.9,460.8 1076.2,460.8 1076.2,458.4 1077.5,458.4 1077.5,460.8 1078.8,460.8 1078.8,460.6 1080.1,460.6 1080.1,457.8 1081.4,457.8 1081.4,458.7 1082.7,458.7 1082.7,457.1 1084,457.1 1084,458.5 1085.3,458.5 1085.3,460.2 1086.6,460.2 1086.6,461 1087.9,461 1087.9,462.4 1089.2,462.4 1089.2,465 1090.5,465 1090.5,463.9 1091.8,463.9 1091.8,459.9 1093.1,459.9 1093.1,455.4 1094.4,455.4 1094.4,446.1 1095.7,446.1 1095.7,443.1 1097,443.1 1097,433.9 1098.3,433.9 1098.3,433.1 1099.6,433.1 1099.6,431.9 1100.9,431.9 1100.9,432.6 1102.2,432.6 1102.2,429.7 1103.5,429.7 1103.5,428.6 1104.8,428.6 1104.8,429 1106.1,429 1106.1,426.8 1107.4,426.8 1107.4,429.5 1108.7,429.5 1108.7,426.8 1110,426.8 1110,428.5 1111.3,428.5 1111.3,427.4 1112.6,427.4 1112.6,429.7 1113.9,429.7 1113.9,433.8 1115.2,433.8 1115.2,435.9 1116.5,435.9 1116.5,438.3 1117.8,438.3 1117.8,441 1119.1,441 1119.1,444.2 1120.4,444.2 1120.4,444 1121.7,444 1121.7,437.7 1123,437.7 1123,433.1 1124.3,433.1 1124.3,429.1 1125.6,429.1 1125.6,428.6 1126.9,428.6 1126.9,430 1128.2,430 1128.2,429 1129.5,429 1129.5,430.1 1130.8,430.1 1130.8,427.3 1132.1,427.3 1132.1,429.6 1133.4,429.6 1133.4,429.9 1134.7,429.9 1134.7,430.3 1136,430.3 1136,427.7 1137.3,427.7 1137.3,427.7 1138.6,427.7 1138.6,430.4 1139.9,430.4 1139.9,427.3 1141.2,427.3 1141.2,430.7 1142.5,430.7 1142.5,430.2 1143.8,430.2 1143.8,429.7 1145.1,429.7 1145.1,439.3 1146.4,439.3 1146.4,450.5 1147.7,450.5 1147.7,457.5 1149,457.5 1149,465.9 1150.3,465.9 1150.3,478.3 1151.6,478.3 1151.6,476.2 1152.9,476.2 1152.9,475.5 1154.2,475.5 1154.2,470.3 1155.5,470.3 1155.5,469.2 1156.8,469.2 1156.8,468.2 1158.1,468.2 1158.1,463.8 1159.4,463.8 1159.4,464.6 1160.7,464.6 1160.7,466.7 1162,466.7 1162,467.7 1163.3,467.7 1163.3,468 1164.6,468 1164.6,464.2 1165.9,464.2 1165.9,465.9 1167.2,465.9 1167.2,467 1168.5,467 1168.5,466.4 1169.8,466.4 1169.8,471.1 1171.1,471.1 1171.1,472.8 1172.4,472.8 1172.4,471.1 1173.7,471.1 1173.7,462 1175,462 1175,454.4 1176.3,454.4 1176.3,457.6 1177.6,457.6 1177.6,458.3 1178.9,458.3 1178.9,459.4 1180.2,459.4 1180.2,458.5 1181.5,458.5 1181.5,459.5 1182.8,459.5 1182.8,460.5 1184.1,460.5 1184.1,464.2 1185.4,464.2 1185.4,465.8 1186.7,465.8 1186.7,467.9 1188,467.9 1188,468.8 1189.3,468.8 1189.3,473.2 1190.6,473.2 1190.6,477 1191.9,477 1191.9,472.6 1193.2,472.6 1193.2,471.7 1194.5,471.7 1194.5,467.5 1195.8,467.5 1195.8,465.8 1197.1,465.8 1197.1,463.1 1198.4,463.1 1198.4,457.6 1199.7,457.6 1199.7,453.1 1201,453.1 1201,445.3 1202.3,445.3 1202.3,443.2 1203.6,443.2 1203.6,438.6 1204.9,438.6 1204.9,430.5 1206.2,430.5 1206.2,428.3 1207.5,428.3 1207.5,429.6 1208.8,429.6 1208.8,428.1 1210.1,428.1 1210.1,427.2 1211.4,427.2 1211.4,427 1212.7,427 1212.7,428.6 1214,428.6 1214,426.4 1215.3,426.4 1215.3,430.2 1216.6,430.2 1216.6,429.8 1217.9,429.8 1217.9,429.4 1219.2,429.4 1219.2,430.1 1220.5,430.1 1220.5,429.1 1221.8,429.1 1221.8,435.4 1223.1,435.4 1223.1,444.9 1224.4,444.9 1224.4,453.1 1225.7,453.1 1225.7,463.9 1227,463.9 1227,471.8 1228.3,471.8 1228.3,469.8 1229.6,469.8 1229.6,472.2 1230.9,472.2 1230.9,471.1 1232.2,471.1 1232.2,470.8 1233.5,470.8 1233.5,461 1234.8,461 1234.8,446.9 1236.1,446.9 1236.1,437.3 1237.4,437.3 1237.4,436.4 1238.7,436.4 1238.7,434.7 1240,434.7 1240,434.2 1241.3,434.2 1241.3,433.3 1242.6,433.3 1242.6,430.8 1243.9,430.8 1243.9,431.4 1245.2,431.4 1245.2,427.6 1246.5,427.6 1246.5,427.9 1247.8,427.9 1247.8,432.7 1249.1,432.7 1249.1,435.9 1250.4,435.9 1250.4,442.6 1251.7,442.6 1251.7,449.1 1253,449.1 1253,448.3 1254.3,448.3 1254.3,443.7 1255.6,443.7 1255.6,443.9 1256.9,443.9 1256.9,439.7 1258.2,439.7 1258.2,435.3 1259.5,435.3 1259.5,435.3 1260.8,435.3 1260.8,437.9 1262.1,437.9 1262.1,440.8 1263.4,440.8 1263.4,443.2 1264.7,443.2 1264.7,447.6 1266,447.6 1266,439.6 1267.3,439.6 1267.3,433.3 1268.6,433.3 1268.6,429.7 1269.9,429.7 1269.9,430.6 1271.2,430.6 1271.2,426.4 1272.5,426.4 1272.5,429 1273.8,429 1273.8,429.6 1275.1,429.6 1275.1,427.4 1276.4,427.4 1276.4,428.1 1277.7,428.1 1277.7,426.5 1279,426.5 1279,427.2 1280.3,427.2 1280.3,428 1281.6,428 1281.6,426.7 1282.9,426.7 1282.9,427.4 1284.2,427.4 1284.2,430.5 1285.5,430.5 1285.5,433.1 1286.8,433.1 1286.8,437.1 1288.1,437.1 1288.1,443.3 1289.4,443.3 1289.4,445.7 1290.7,445.7 1290.7,451.7 1292,451.7 1292,454.3 1293.3,454.3 1293.3,456.7 1294.6,456.7 1294.6,445.7 1295.9,445.7 1295.9,440.2 1297.2,440.2 1297.2,437.1 1298.5,437.1 1298.5,434.6 1299.8,434.6 1299.8,439.1 1301.1,439.1 1301.1,436.4 1302.4,436.4 1302.4,438.4 1303.7,438.4 1303.7,437.7 1305,437.7 1305,439.8 1306.3,439.8 1306.3,441 1307.6,441 1307.6,439 1308.9,439 1308.9,442.9 1310.2,442.9 1310.2,440.6 1311.5,440.6 1311.5,441.1 1312.8,441.1 1312.8,441.4 1314.1,441.4 1314.1,440.4 1315.4,440.4 1315.4,441.3 1316.7,441.3 1316.7,444.5 1318,444.5 1318,445.7 1319.3,445.7 1319.3,446.1 1320.6,446.1 1320.6,449.7 1321.9,449.7 1321.9,449.2 1323.2,449.2 1323.2,448.9 1324.5,448.9 1324.5,450.7 1325.8,450.7 1325.8,450.7 1327.1,450.7 1327.1,448.7 1328.4,448.7 1328.4,433.1 1329.7,433.1 1329.7,428 1331,428 1331,430.2 1332.3,430.2 1332.3,429.6 1333.6,429.6 1333.6,426.5 1334.9,426.5 1334.9,430.7 1336.2,430.7 1336.2,430.5 1337.5,430.5 1337.5,426.6 1338.8,426.6 1338.8,430.3 1340.1,430.3 1340.1,428.2 1341.4,428.2 1341.4,428.4 1342.7,428.4 1342.7,430.6 1344,430.6 1344,436.2 1345.3,436.2 1345.3,447.8 1346.6,447.8 1346.6,460 1347.9,460 1347.9,469.5 1349.2,469.5 1349.2,474.3 1350.5,474.3 1350.5,480.9 1351.8,480.9 1351.8,484.5 1353.1,484.5 1353.1,487.9 1354.4,487.9 1354.4,486 1355.7,486 1355.7,485.9 1357,485.9 1357,482.9 1358.3,482.9 1358.3,479.5 1359.6,479.5 1359.6,476.6 1360.9,476.6 1360.9,476.7 1362.2,476.7 1362.2,474.9 1363.5,474.9 1363.5,476.3 1364.8,476.3 1364.8,477.3 1366.1,477.3 1366.1,476.4 1367.4,476.4 1367.4,475.5 1368.7,475.5 1368.7,477 1370,477 1370,476.8 1371.3,476.8 1371.3,480.1 1372.6,480.1 1372.6,480.8 1373.9,480.8 1373.9,484.7 1375.2,484.7 1375.2,486.3 1376.5,486.3 1376.5,487.1 1377.8,487.1 1377.8,486.7 1379.1,486.7 1379.1,488 1380.4,488 1380.4,492.9 1381.7,492.9 1381.7,493.4 1383,493.4 1383,493.6 1384.3,493.6 1384.3,493.4 1385.6,493.4 1385.6,494 1386.9,494 1386.9,496.8 1388.2,496.8 1388.2,496.3 1389.5,496.3 1389.5,496 1390.8,496 1390.8,495.7 1392.1,495.7 1392.1,495.8 1393.4,495.8 1393.4,492.9 1394.7,492.9 1394.7,492.7 1396,492.7 1396,495.8 1397.3,495.8 1397.3,495.4 1398.6,495.4 1398.6,495.1 1399.9,495.1 1399.9,491.3 1401.2,491.3 1401.2,491.3 1402.5,491.3 1402.5,492.2 1403.8,492.2 1403.8,492.7 1405.1,492.7 1405.1,493.5 1406.4,493.5 1406.4,491.1 1407.7,491.1 1407.7,493 1409,493 1409,490.8 1410.3,490.8 1410.3,489.9 1411.6,489.9 1411.6,491 1412.9,491 1412.9,489.1 1414.2,489.1 1414.2,488 1415.5,488 1415.5,485.4 1416.8,485.4 1416.8,484.5 1418.1,484.5 1418.1,482.7 1419.4,482.7 1419.4,482.6 1420.7,482.6 1420.7,483.8 1422,483.8 1422,483.5 1423.3,483.5 1423.3,479.6 1424.6,479.6 1424.6,479.1 1425.9,479.1 1425.9,481.5 1427.2,481.5 1427.2,482 1428.5,482 1428.5,484.1 1429.8,484.1 1429.8,483.1 1431.1,483.1 1431.1,485.4 1432.4,485.4 1432.4,486.1 1433.7,486.1 1433.7,489.7 1435,489.7 1435,488.1 1436.3,488.1 1436.3,489.7 1437.6,489.7 1437.6,491.5 1438.9,491.5 1438.9,488.9 1440.2,488.9 1440.2,490.2 1441.5,490.2 1441.5,486.5 1442.8,486.5 1442.8,479.9 1444.1,479.9 1444.1,470.4 1445.4,470.4 1445.4,462.8 1446.7,462.8 1446.7,455.4 1448,455.4 1448,454.5 1449.3,454.5 1449.3,446.6 1450.6,446.6 1450.6,442.3 1451.9,442.3 1451.9,440.1 1453.2,440.1 1453.2,435.2 1454.5,435.2 1454.5,431.5 1455.8,431.5 1455.8,428.2 1457.1,428.2 1457.1,429.3 1458.4,429.3 1458.4,433.3 1459.7,433.3 1459.7,433.8 1461,433.8 1461,439.6 1462.3,439.6 1462.3,446.7 1463.6,446.7 1463.6,449.4 1464.9,449.4 1464.9,455.9 1466.2,455.9 1466.2,464.2 1467.5,464.2 1467.5,470.6 1468.8,470.6 1468.8,471.5 1470.1,471.5 1470.1,468.3 1471.4,468.3 1471.4,466.6 1472.7,466.6 1472.7,465.7 1474,465.7 1474,461.6 1475.3,461.6 1475.3,457.9 1476.6,457.9 1476.6,458 1477.9,458 1477.9,454.9 1479.2,454.9 1479.2,456 1480.5,456 1480.5,457.7 1481.8,457.7 1481.8,459.2 1483.1,459.2 1483.1,458.7 1484.4,458.7 1484.4,461.2 1485.7,461.2 1485.7,460 1487,460 1487,461 1488.3,461 1488.3,462.4 1489.6,462.4 1489.6,465.7 1490.9,465.7 1490.9,465.3 1492.2,465.3 1492.2,460.9 1493.5,460.9 1493.5,459.8 1494.8,459.8 1494.8,458.1 1496.1,458.1 1496.1,456.5 1497.4,456.5 1497.4,455 1498.7,455 1498.7,452.1 1500,452.1 1500,448 1501.3,448 1501.3,446.4 1502.6,446.4 1502.6,444.1 1503.9,444.1 1503.9,439.8 1505.2,439.8 1505.2,437.4 1506.5,437.4 1506.5,429.7 1507.8,429.7 1507.8,427.6 1509.1,427.6 1509.1,427.6 1510.4,427.6 1510.4,427.6 1511.7,427.6 1511.7,427.6 1513,427.6 1513,427.6 1514.3,427.6 1514.3,433 1515.6,433 1515.6,436.5 1516.9,436.5 1516.9,436.8 1518.2,436.8 1518.2,438.6 1519.5,438.6 1519.5,443.7 1520.8,443.7 1520.8,450.7 1522.1,450.7 1522.1,458.6 1523.4,458.6 1523.4,468.2 1524.7,468.2 1524.7,474.6 1526,474.6 1526,471.7 1527.3,471.7 1527.3,456.8 1528.6,456.8 1528.6,447.2 1529.9,447.2 1529.9,436.6 1531.2,436.6 1531.2,427.6 1532.5,427.6 1532.5,427.6 1533.8,427.6 1533.8,427.6 1535.1,427.6 1535.1,427.6 1536.4,427.6 1536.4,427.6 1537.7,427.6 1537.7,427.6 1539,427.6 1539,427.6 1540.3,427.6 1540.3,427.6 1541.6,427.6 1541.6,427.6 1542.9,427.6 1542.9,431 1544.2,431 1544.2,437.2 1545.5,437.2 1545.5,446.2 1546.8,446.2 1546.8,453.1 1548.1,453.1 1548.1,455.7 1549.4,455.7 1549.4,462.8 1550.7,462.8 1550.7,459 1552,459 1552,460 1553.3,460 1553.3,458 1554.6,458 1554.6,454.6 1555.9,454.6 1555.9,452.8 1557.2,452.8 1557.2,455 1558.5,455 1558.5,454.9 1559.8,454.9 1559.8,457 1561.1,457 1561.1,456.3 1562.4,456.3 1562.4,457 1563.7,457 1563.7,460.8 1565,460.8 1565,463 1566.3,463 1566.3,466.2 1567.6,466.2 1567.6,470.2 1568.9,470.2 1568.9,475 1570.2,475 1570.2,476.5 1571.5,476.5 1571.5,477.6 1572.8,477.6 1572.8,475.7 1574.1,475.7 1574.1,477.8 1575.4,477.8 1575.4,477.3 1576.7,477.3 1576.7,478.4 1578,478.4 1578,478.4 1579.3,478.4 1579.3,479.4 1580.6,479.4 1580.6,481 1581.9,481 1581.9,482.6 1583.2,482.6 1583.2,482.5 1584.5,482.5 1584.5,483.3 1585.8,483.3 1585.8,485.4 1587.1,485.4 1587.1,481.1 1588.4,481.1 1588.4,474.2 1589.7,474.2 1589.7,469 1591,469 1591,462.6 1592.3,462.6 1592.3,460.6 1593.6,460.6 1593.6,457.2 1594.9,457.2 1594.9,450.1 1596.2,450.1 1596.2,444.8 1597.5,444.8 1597.5,440.5 1598.8,440.5 1598.8,437.1 1600.1,437.1 1600.1,432.1 1601.4,432.1 1601.4,436.1 1602.7,436.1 1602.7,436.6 1604,436.6 1604,442.3 1605.3,442.3 1605.3,443.1 1606.6,443.1 1606.6,446.3 1607.9,446.3 1607.9,447.7 1609.2,447.7 1609.2,446 1610.5,446 1610.5,444.8 1611.8,444.8 1611.8,444.6 1613.1,444.6 1613.1,443.2 1614.4,443.2 1614.4,442.7 1615.7,442.7 1615.7,436.9 1617,436.9 1617,435.3 1618.3,435.3 1618.3,433.9 1619.6,433.9 1619.6,432.5 1620.9,432.5 1620.9,430.9 1622.2,430.9 1622.2,431.4 1623.5,431.4 1623.5,429.3 1624.8,429.3 1624.8,427.6 1626.1,427.6 1626.1,427.6 1627.4,427.6 1627.4,427.6 1628.7,427.6 1628.7,427.6 1630,427.6 1630,427.6 1631.3,427.6 1631.3,427.6 1632.6,427.6 1632.6,427.6 1633.9,427.6 1633.9,427.6 1635.2,427.6 1635.2,427.6 1636.5,427.6 1636.5,427.6 1637.8,427.6 1637.8,427.6 1639.1,427.6 1639.1,427.6 1640.4,427.6 1640.4,427.6 1641.7,427.6 1641.7,427.6 1643,427.6 1643,427.6 1644.3,427.6 1644.3,427.6 1645.6,427.6 1645.6,427.6 1646.9,427.6 1646.9,427.6 1648.2,427.6 1648.2,427.6 1649.5,427.6 1649.5,427.6 1650.8,427.6 1650.8,427.6 1652.1,427.6 1652.1,427.6 1653.4,427.6 1653.4,427.9 1654.7,427.9 1654.7,427 1656,427 1656,427.2 1657.3,427.2 1657.3,427.9 1658.6,427.9 1658.6,427.8 1659.9,427.8 1659.9,433.3 1661.2,433.3 1661.2,439.2 1662.5,439.2 1662.5,448 1663.8,448 1663.8,452.2 1665.1,452.2 1665.1,449.4 1666.4,449.4 1666.4,447.1 1667.7,447.1 1667.7,448.6 1669,448.6 1669,448.4 1670.3,448.4 1670.3,448.1 1671.6,448.1 1671.6,451.1 1672.9,451.1 1672.9,455.1 1674.2,455.1 1674.2,455.2 1675.5,455.2 1675.5,457.5 1676.8,457.5 1676.8,460.3 1678.1,460.3 1678.1,467.7 1679.4,467.7 1679.4,470.5 1680.7,470.5 1680.7,464.5 1682,464.5 1682,459 1683.3,459 1683.3,452.9 1684.6,452.9 1684.6,445.8 1685.9,445.8 1685.9,444.1 1687.2,444.1 1687.2,438.7 1688.5,438.7 1688.5,433 1689.8,433 1689.8,428.1 1691.1,428.1 1691.1,427.6 1692.4,427.6 1692.4,427.6 1693.7,427.6 1693.7,427.6 1695,427.6 1695,427.6 1696.3,427.6 1696.3,427.6 1697.6,427.6 1697.6,427.6 1698.9,427.6 1698.9,427.6 1700.2,427.6 1700.2,427.6 1701.5,427.6 1701.5,427.6 1702.8,427.6 1702.8,427.6 1704.1,427.6 1704.1,427.6 1705.4,427.6 1705.4,427.6 1706.7,427.6 1706.7,434.3 1708,434.3 1708,440.7 1709.3,440.7 1709.3,449.4 1710.6,449.4 1710.6,455.9 1711.9,455.9 1711.9,462.2 1713.2,462.2 1713.2,464.3 1714.5,464.3 1714.5,463.2 1715.8,463.2 1715.8,462.8 1717.1,462.8 1717.1,461.5 1718.4,461.5 1718.4,463.1 1719.7,463.1 1719.7,460.5 1721,460.5 1721,459.9 1722.3,459.9 1722.3,460.4 1723.6,460.4 1723.6,456.1 1724.9,456.1 1724.9,453.5 1726.2,453.5 1726.2,447.7 1727.5,447.7 1727.5,446.2 1728.8,446.2 1728.8,438.7 1730.1,438.7 1730.1,438.2 1731.4,438.2 1731.4,434.1 1732.7,434.1 1732.7,429.8 1734,429.8 1734,427.6 1735.3,427.6 1735.3,427.6 1736.6,427.6 1736.6,427.6 1737.9,427.6 1737.9,427.6 1739.2,427.6 1739.2,427.6 1740.5,427.6 1740.5,427.6 1741.8,427.6 1741.8,427.6 1743.1,427.6 1743.1,427.6 1744.4,427.6 1744.4,427.4 1745.7,427.4 1745.7,433.4 1747,433.4 1747,440.6 1748.3,440.6 1748.3,443 1749.6,443 1749.6,449.9 1750.9,449.9 1750.9,455.1 1752.2,455.1 1752.2,454.4 1753.5,454.4 1753.5,445.9 1754.8,445.9 1754.8,440.1 1756.1,440.1 1756.1,430.8 1757.4,430.8 1757.4,427.6 1758.7,427.6 1758.7,427.6 1760,427.6 1760,427.6 1761.3,427.6 1761.3,427.6 1762.6,427.6 1762.6,427.6 1763.9,427.6 1763.9,427.6 1765.2,427.6 1765.2,434.1 1766.5,434.1 1766.5,439.4 1767.8,439.4 1767.8,448.5 1769.1,448.5 1769.1,451.8 1770.4,451.8 1770.4,454.8 1771.7,454.8 1771.7,445.2 1773,445.2 1773,439.7 1774.3,439.7 1774.3,432.7 1775.6,432.7 1775.6,427.6 1776.9,427.6 1776.9,427.6 1778.2,427.6 1778.2,427.6 1779.5,427.6 1779.5,427.6 1780.8,427.6 1780.8,427.6 1782.1,427.6 1782.1,427.6 1783.4,427.6 1783.4,427.6 1784.7,427.6 1784.7,427.6 1786,427.6 1786,427.6 1787.3,427.6 1787.3,427.6 1788.6,427.6 1788.6,427.6 1789.9,427.6 1789.9,427.6 1791.2,427.6 1791.2,427.6 1792.5,427.6 1792.5,427.6 1793.8,427.6 1793.8,427.6 1795.1,427.6 1795.1,427.6 1796.4,427.6 1796.4,427.6 1797.7,427.6 1797.7,427.6 1799,427.6 1799,427.6 1800.3,427.6 1800.3,427.6 1801.6,427.6 1801.6,427.6 1802.9,427.6 1802.9,427.6 1804.2,427.6 1804.2,427.6 1805.5,427.6 1805.5,427.6 1806.8,427.6 1806.8,427.6 1808.1,427.6 1808.1,427.6 1809.4,427.6 1809.4,427.6 1810.7,427.6 1810.7,427.6 1812,427.6 1812,427.6 1813.3,427.6 1813.3,427.6 1814.6,427.6 1814.6,427.6 1815.9,427.6 1815.9,427.6 1817.2,427.6 1817.2,427.6 1818.5,427.6 1818.5,427.6 1819.8,427.6 1819.8,427.6 1821.1,427.6 1821.1,427.6 1822.4,427.6 1822.4,427.6 1823.7,427.6 1823.7,427.6 1825,427.6 1825,427.6 1826.3,427.6 1826.3,427.6 1827.6,427.6 1827.6,427.6 1828.9,427.6 1828.9,427.6 1830.2,427.6 1830.2,427.6 1831.5,427.6 1831.5,427.6 1832.8,427.6 1832.8,427.6 1834.1,427.6 1834.1,427.6 1835.4,427.6 1835.4,427.6 1836.7,427.6 1836.7,427.6 1838,427.6 1838,427.6 1839.3,427.6 1839.3,427.6 1840.6,427.6 1840.6,427.6 1841.9,427.6 1841.9,427.6 1843.2,427.6 1843.2,427.6 1844.5,427.6 1844.5,427.6 1845.8,427.6 1845.8,427.6 1847.1,427.6 1847.1,427.6 1848.4,427.6 1848.4,427.6 1849.7,427.6 1849.7,438.1 1851,438.1 1851,458 1852.3,458 1852.3,472.6 1853.6,472.6 1853.6,474.5 1854.9,474.5 1854.9,473.5 1856.2,473.5 1856.2,474.5 1857.5,474.5 1857.5,475.2 1858.8,475.2 1858.8,476.3 1860.1,476.3 1860.1,474.8 1861.4,474.8 1861.4,476.2 1862.7,476.2 1862.7,473.3 1864,473.3 1864,474.1 1865.3,474.1 1865.3,474 1866.6,474 1866.6,475.8 1867.9,475.8 1867.9,474.7 1869.2,474.7 1869.2,473.5 1870.5,473.5 1870.5,470.3 1871.8,470.3 1871.8,471.4 1873.1,471.4 1873.1,472.3 1874.4,472.3 1874.4,469.4 1875.7,469.4 1875.7,470 1877,470 1877,468.6 1878.3,468.6 1878.3,465.8 1879.6,465.8 1879.6,469.2 1880.9,469.2 1880.9,467.5 1882.2,467.5 1882.2,464 1883.5,464 1883.5,465 1884.8,465 1884.8,457.9 1886.1,457.9 1886.1,451.8 1887.4,451.8 1887.4,446 1888.7,446 1888.7,438.4 1890,438.4 1890,432.1 1891.3,432.1 1891.3,427.6 1892.6,427.6 1892.6,427.6 1893.9,427.6 1893.9,427.6 1895.2,427.6 1895.2,427.6 1896.5,427.6 1896.5,427.6 1897.8,427.6 1897.8,427.6 1899.1,427.6 1899.1,427.6 1900.4,427.6 1900.4,427.6 1901.7,427.6 1901.7,427.6 1903,427.6 1903,427.6 1904.3,427.6 1904.3,427.6 1905.6,427.6 1905.6,427.6 1906.9,427.6 1906.9,427.6 1908.2,427.6 1908.2,430.5 1909.5,430.5 1909.5,439.1 1910.8,439.1 1910.8,444.7 1912.1,444.7 1912.1,451.8 1913.4,451.8 1913.4,460.3 1914.7,460.3 1914.7,460.7 1916,460.7 1916,465.6 1917.3,465.6 1917.3,466.1 1918.6,466.1 1918.6,469 1919.9,469 1919.9,467 1921.2,467 1921.2,468.9 1922.5,468.9 1922.5,465.4 1923.8,465.4 1923.8,465.4 1925.1,465.4 1925.1,464.9 1926.4,464.9 1926.4,467.2 1927.7,467.2 1927.7,467.1 1929,467.1 1929,465 1930.3,465 1930.3,466.2 1931.6,466.2 1931.6,468.3 1932.9,468.3 1932.9,467.4 1934.2,467.4 1934.2,465.4 1935.5,465.4 1935.5,466.3 1936.8,466.3 1936.8,466.2 1938.1,466.2 1938.1,466.2 1939.4,466.2 1939.4,468.3 1940.7,468.3 1940.7,468.5 1942,468.5 1942,473.8 1943.3,473.8 1943.3,473.3 1944.6,473.3 1944.6,475.3 1945.9,475.3 1945.9,477.5 1947.2,477.5 1947.2,480.5 1948.5,480.5 1948.5,483.4 1949.8,483.4 1949.8,484.2 1951.1,484.2 1951.1,486.7 1952.4,486.7 1952.4,489.7 1953.7,489.7 1953.7,490.7 1955,490.7 1955,495.1 1956.3,495.1 1955.4,497.6" fill="#c0b8e8"/>
<rect x="303.4" y="495.4" width="10.4" height="2.4" fill="#c0b8e8"/>
<rect x="320.6" y="495.4" width="16.9" height="2.4" fill="#c0b8e8"/>
<rect x="341" y="495.4" width="231" height="2.4" fill="#c0b8e8"/>
<rect x="658" y="495.4" width="1318" height="2.4" fill="#c0b8e8"/>
<rect x="447" y="427.2" width="10" height="4.8" fill="#c24bae"/>
<rect x="805.7" y="427.2" width="21.4" height="4.8" fill="#c24bae"/>
<rect x="841.3" y="427.2" width="17.1" height="4.8" fill="#c24bae"/>
<rect x="862.7" y="427.2" width="26" height="4.8" fill="#c24bae"/>
<rect x="901.1" y="427.2" width="17.1" height="4.8" fill="#c24bae"/>
<rect x="1025.8" y="427.2" width="5.3" height="4.8" fill="#c24bae"/>
<rect x="1102.4" y="427.2" width="2.9" height="4.8" fill="#c24bae"/>
<rect x="1107.8" y="427.2" width="2.9" height="4.8" fill="#c24bae"/>
<rect x="1123.8" y="427.2" width="19.6" height="4.8" fill="#c24bae"/>
<rect x="1205.7" y="427.2" width="15" height="4.8" fill="#c24bae"/>
<rect x="1268.1" y="427.2" width="16" height="4.8" fill="#c24bae"/>
<rect x="1328.6" y="427.2" width="14.3" height="4.8" fill="#c24bae"/>
<rect x="1506.8" y="427.2" width="5.5" height="4.8" fill="#c24bae"/>
<rect x="1531.5" y="427.2" width="11.4" height="4.8" fill="#c24bae"/>
<rect x="1624.5" y="427.2" width="27.6" height="4.8" fill="#c24bae"/>
<rect x="1690.7" y="427.2" width="14.7" height="4.8" fill="#c24bae"/>
<rect x="1734" y="427.2" width="11" height="4.8" fill="#c24bae"/>
<rect x="1756.8" y="427.2" width="8.1" height="4.8" fill="#c24bae"/>
<rect x="1775.2" y="427.2" width="73.5" height="4.8" fill="#c24bae"/>
<rect x="1891.8" y="427.2" width="15.8" height="4.8" fill="#c24bae"/>
<rect x="296.5" y="511" width="1643.5" height="20" fill="#131514"/>
<text x="0" y="615" font-size="48" fill="#111">b</text>
<polyline points="133,986.4 149.7,986.7 172.9,985.4 232.8,985.7 299.3,985.4 365.8,985.7 432.3,985.7 498.8,985.7 523.8,986.7 528.1,962.4" fill="none" stroke="#ea4b89" stroke-width="4" stroke-linejoin="round"/>
<polyline points="133,977.4 136.3,982.4 141.3,977.4 146.3,985.7 151.3,982.4 156.3,974.1 161.3,969.1 165.3,967.4 167.9,985.7 172.9,987.4 179.6,985.7 199.5,985.7 232.8,986.4 242.8,983 252.7,987.4 266,985.7 279.3,987.7 292.7,985 299.3,987.7 315.9,984.4 332.6,986.4 349.2,985.7 365.8,988 382.4,987.4 389.1,985.7 399.1,984 409,984 415.7,977.4 420.7,972.4 425.7,984 430.7,985.7 435.7,974.1 440.6,974.1 445.6,982.4 449,980.7 455.6,965.7 462.3,962.4 467.2,960.8 468.9,955.8 472.2,965.7 478.9,909.2 483.9,895.9 488.9,909.2 493.8,962.4 497.2,937.5 502.2,899.2 504.8,895.9 508.8,919.2 512.1,979 516.1,974.1 520.5,919.2 523.8,902.6 526.1,919.2 528.1,935.8" fill="none" stroke="#b050c0" stroke-width="4" stroke-linejoin="round"/>
<polyline points="133,942.5 136.3,969.1 139.7,982.4 142.3,957.4 144.7,969.1 148,980.7 151.3,959.1 154.6,919.2 158,876 161.3,864.3 165.3,861 167.9,972.4 169.6,992.3 176.3,987.4 181.2,985.7 199.5,985.7 226.1,987.4 229.5,989 236.8,977.4 239.4,985.7 244.4,969.1 249.4,957.4 254.4,975.7 261.1,988.4 266,989 272.7,975.7 277.7,987.4 282.7,990.7 289.3,985.7 294.3,979 297.6,987.4 302.6,975.7 307.6,979 314.3,987.4 320.9,974.1 324.2,974.1 329.2,989 334.2,985.7 339.2,982.4 344.2,977.4 349.2,990.7 352.5,982.4 357.5,975.7 364.2,972.4 368.5,989 372.5,975.7 377.5,987.4 382.4,990.7 390.8,980.7 395.7,975.7 400.7,955.8 404.1,965.7 407.4,967.4 412.4,959.1 420.7,949.1 425.7,979 429,985.7 435.7,955.8 440.6,947.5 445.6,964.1 449,965.7 452.3,935.8 455.6,885.9 460.6,884.3 463.9,899.2 467.2,854.3 471.6,872.6 473.9,879.3 478.9,696.4 483.9,651.5 487.2,669.8 490.5,752.9 493.8,899.2 495.5,879.3 498.8,736.3 502.2,676.4 504.8,679.7 507.1,769.5 510.5,902.6 513.8,970.7 517.1,935.8 520.5,802.8 523.8,754.6 526.1,756.2 528.8,902.6" fill="none" stroke="#c9c2ec" stroke-width="4.3" stroke-linejoin="round"/>
<path d="M131.4,633.2 H530.4 V1007.3 H131.4 Z" fill="none" stroke="#111" stroke-width="3"/>
<line x1="131.4" y1="1007" x2="131.4" y2="1016" stroke="#111" stroke-width="3"/>
<line x1="530.4" y1="1007" x2="530.4" y2="1016" stroke="#111" stroke-width="3"/>
<line x1="123.5" y1="985.7" x2="131.4" y2="985.7" stroke="#111" stroke-width="2.5"/>
<text x="115.8" y="994.7" font-size="23.5" fill="#111" text-anchor="end">0</text>
<line x1="123.5" y1="935.7" x2="131.4" y2="935.7" stroke="#111" stroke-width="2.5"/>
<text x="119.6" y="944.7" font-size="23.5" fill="#111" text-anchor="end">20</text>
<line x1="123.5" y1="885.7" x2="131.4" y2="885.7" stroke="#111" stroke-width="2.5"/>
<text x="119.6" y="894.7" font-size="23.5" fill="#111" text-anchor="end">40</text>
<line x1="123.5" y1="835.7" x2="131.4" y2="835.7" stroke="#111" stroke-width="2.5"/>
<text x="119.6" y="844.7" font-size="23.5" fill="#111" text-anchor="end">60</text>
<line x1="123.5" y1="785.7" x2="131.4" y2="785.7" stroke="#111" stroke-width="2.5"/>
<text x="119.6" y="794.7" font-size="23.5" fill="#111" text-anchor="end">80</text>
<line x1="123.5" y1="735.7" x2="131.4" y2="735.7" stroke="#111" stroke-width="2.5"/>
<text x="121.6" y="744.7" font-size="23.5" fill="#111" text-anchor="end">100</text>
<line x1="123.5" y1="685.7" x2="131.4" y2="685.7" stroke="#111" stroke-width="2.5"/>
<text x="121.6" y="694.7" font-size="23.5" fill="#111" text-anchor="end">120</text>
<line x1="123.5" y1="635.7" x2="131.4" y2="635.7" stroke="#111" stroke-width="2.5"/>
<text x="121.6" y="644.7" font-size="23.5" fill="#111" text-anchor="end">140</text>
<line x1="144.7" y1="655.8" x2="181.2" y2="655.8" stroke="#e8307f" stroke-width="3.5"/>
<text x="189" y="664.8" font-size="23.5" fill="#111">J1</text>
<line x1="144.7" y1="684" x2="181.2" y2="684" stroke="#b050c0" stroke-width="3.5"/>
<text x="189" y="693" font-size="23.5" fill="#111">PB1</text>
<line x1="144.7" y1="712.3" x2="181.2" y2="712.3" stroke="#c9c2ec" stroke-width="3.5"/>
<text x="189" y="721.3" font-size="23.5" fill="#111">PB14</text>
<text x="146.8" y="1048" font-size="24" fill="#111" text-anchor="middle">Start</text>
<text x="328.8" y="1048" font-size="24" fill="#111" text-anchor="middle">GLN element</text>
<text x="527.5" y="1048" font-size="24" fill="#111" text-anchor="middle">End</text>
<text x="36" y="825" font-size="32" fill="#111" text-anchor="middle" transform="rotate(-90 36 825)">H3K27ac enrichment</text>
<text x="74.5" y="821" font-size="32" fill="#111" text-anchor="middle" transform="rotate(-90 74.5 821)">(Input-RPKM)</text>
<text x="567.6" y="615" font-size="48" fill="#111">c</text>
<rect x="752.7" y="988.2" width="61.2" height="26.6" fill="#a9bbd7" stroke="#5a80b6" stroke-width="3"/>
<rect x="877.5" y="977.9" width="61.8" height="36.9" fill="#a9bbd7" stroke="#5a80b6" stroke-width="3"/>
<rect x="1003.1" y="706.9" width="61.9" height="307.9" fill="#a9bbd7" stroke="#5a80b6" stroke-width="3"/>
<line x1="783.5" y1="984" x2="783.5" y2="991.7" stroke="#111" stroke-width="2.2"/>
<line x1="777.5" y1="984" x2="789.5" y2="984" stroke="#111" stroke-width="2.2"/>
<line x1="777.5" y1="991.7" x2="789.5" y2="991.7" stroke="#111" stroke-width="2.2"/>
<line x1="908.5" y1="976.5" x2="908.5" y2="978.5" stroke="#111" stroke-width="2.2"/>
<line x1="902.5" y1="976.5" x2="914.5" y2="976.5" stroke="#111" stroke-width="2.2"/>
<line x1="902.5" y1="978.5" x2="914.5" y2="978.5" stroke="#111" stroke-width="2.2"/>
<line x1="1037.2" y1="677" x2="1037.2" y2="736.3" stroke="#111" stroke-width="2.2"/>
<line x1="1031.2" y1="677" x2="1043.2" y2="677" stroke="#111" stroke-width="2.2"/>
<line x1="1031.2" y1="736.3" x2="1043.2" y2="736.3" stroke="#111" stroke-width="2.2"/>
<circle cx="797.8" cy="983.4" r="3.6" fill="#5a80b6"/>
<circle cx="783.5" cy="994.7" r="3.6" fill="#5a80b6"/>
<circle cx="891.6" cy="975" r="3.6" fill="#5a80b6"/>
<circle cx="909" cy="979" r="3.6" fill="#5a80b6"/>
<circle cx="917.5" cy="976.4" r="3.6" fill="#5a80b6"/>
<circle cx="1041.2" cy="648.8" r="3.6" fill="#5a80b6"/>
<circle cx="1029" cy="722.6" r="3.6" fill="#5a80b6"/>
<circle cx="1041.2" cy="748.6" r="3.6" fill="#5a80b6"/>
<line x1="708" y1="630.9" x2="708" y2="1037.2" stroke="#111" stroke-width="3.2"/>
<line x1="706.4" y1="1035.6" x2="1108.7" y2="1035.6" stroke="#111" stroke-width="3.2"/>
<line x1="703.5" y1="1016.3" x2="708" y2="1016.3" stroke="#111" stroke-width="2.5"/>
<text x="691.5" y="1020.6" font-size="22" fill="#111" text-anchor="end">0</text>
<line x1="703.5" y1="873.3" x2="708" y2="873.3" stroke="#111" stroke-width="2.5"/>
<text x="691.5" y="869.3" font-size="22" fill="#111" text-anchor="end">10</text>
<line x1="703.5" y1="730.3" x2="708" y2="730.3" stroke="#111" stroke-width="2.5"/>
<text x="691.5" y="718" font-size="22" fill="#111" text-anchor="end">20</text>
<line x1="783.5" y1="1035.6" x2="783.5" y2="1039.5" stroke="#111" stroke-width="2"/>
<line x1="908.5" y1="1035.6" x2="908.5" y2="1039.5" stroke="#111" stroke-width="2"/>
<line x1="1034" y1="1035.6" x2="1034" y2="1039.5" stroke="#111" stroke-width="2"/>
<text x="782.5" y="974" font-size="24" fill="#111" text-anchor="middle">2.00</text>
<text x="911.3" y="960.8" font-size="24" fill="#111" text-anchor="middle">2.79</text>
<text x="1031.7" y="640" font-size="24" fill="#111" text-anchor="middle">21.50</text>
<text x="782.8" y="1066" font-size="31" fill="#111" text-anchor="middle">TT2</text>
<text x="916.7" y="1066" font-size="31" fill="#111" text-anchor="middle">PB1</text>
<text x="1059.5" y="1066" font-size="31" fill="#111" text-anchor="middle">PB14</text>
<text x="610" y="833.6" font-size="32" fill="#111" text-anchor="middle" transform="rotate(-90 610 833.6)">Copy number of GLN</text>
<text x="650" y="828.6" font-size="32" fill="#111" text-anchor="middle" transform="rotate(-90 650 828.6)">(normalized to GM26812)</text>
<defs><pattern id="hn21" patternUnits="userSpaceOnUse" width="171.5" height="42.4"><rect x="0" y="0" width="3.6" height="14.3" fill="#f2f0f7"/><rect x="10.3" y="0" width="3.6" height="14.3" fill="#f1eff6"/><rect x="24" y="0" width="3.6" height="14.3" fill="#f8f7fb"/><rect x="27.4" y="0" width="3.6" height="14.3" fill="#f3f1f7"/><rect x="30.9" y="0" width="3.6" height="14.3" fill="#f1eff6"/><rect x="34.3" y="0" width="3.6" height="14.3" fill="#f6f5f9"/><rect x="37.7" y="0" width="3.6" height="14.3" fill="#efedf5"/><rect x="51.4" y="0" width="3.6" height="14.3" fill="#f5f4f9"/><rect x="58.3" y="0" width="3.6" height="14.3" fill="#efedf5"/><rect x="61.7" y="0" width="3.6" height="14.3" fill="#f7f6fa"/><rect x="68.6" y="0" width="3.6" height="14.3" fill="#f0eef5"/><rect x="78.9" y="0" width="3.6" height="14.3" fill="#f4f2f8"/><rect x="82.3" y="0" width="3.6" height="14.3" fill="#f8f7fb"/><rect x="89.2" y="0" width="3.6" height="14.3" fill="#f1eff6"/><rect x="92.6" y="0" width="3.6" height="14.3" fill="#efedf5"/><rect x="113.2" y="0" width="3.6" height="14.3" fill="#f4f2f8"/><rect x="120" y="0" width="3.6" height="14.3" fill="#f0eef5"/><rect x="126.9" y="0" width="3.6" height="14.3" fill="#f5f3f9"/><rect x="133.7" y="0" width="3.6" height="14.3" fill="#efedf5"/><rect x="137.2" y="0" width="3.6" height="14.3" fill="#f8f7fb"/><rect x="140.6" y="0" width="3.6" height="14.3" fill="#f2f0f7"/><rect x="161.2" y="0" width="3.6" height="14.3" fill="#f3f1f7"/><rect x="0" y="14.1" width="3.6" height="14.3" fill="#f7f5fa"/><rect x="3.4" y="14.1" width="3.6" height="14.3" fill="#f0eef5"/><rect x="6.9" y="14.1" width="3.6" height="14.3" fill="#f3f1f7"/><rect x="10.3" y="14.1" width="3.6" height="14.3" fill="#f7f6fa"/><rect x="13.7" y="14.1" width="3.6" height="14.3" fill="#f1eff6"/><rect x="20.6" y="14.1" width="3.6" height="14.3" fill="#f2f0f7"/><rect x="34.3" y="14.1" width="3.6" height="14.3" fill="#efedf5"/><rect x="51.4" y="14.1" width="3.6" height="14.3" fill="#f6f5f9"/><rect x="58.3" y="14.1" width="3.6" height="14.3" fill="#f8f6fa"/><rect x="75.4" y="14.1" width="3.6" height="14.3" fill="#f6f4f9"/><rect x="78.9" y="14.1" width="3.6" height="14.3" fill="#f4f3f8"/><rect x="82.3" y="14.1" width="3.6" height="14.3" fill="#f8f6fa"/><rect x="85.7" y="14.1" width="3.6" height="14.3" fill="#f0eef6"/><rect x="99.4" y="14.1" width="3.6" height="14.3" fill="#efedf5"/><rect x="109.7" y="14.1" width="3.6" height="14.3" fill="#f6f5fa"/><rect x="126.9" y="14.1" width="3.6" height="14.3" fill="#f3f1f7"/><rect x="133.7" y="14.1" width="3.6" height="14.3" fill="#f3f2f8"/><rect x="137.2" y="14.1" width="3.6" height="14.3" fill="#f1eff6"/><rect x="140.6" y="14.1" width="3.6" height="14.3" fill="#f2f0f7"/><rect x="147.4" y="14.1" width="3.6" height="14.3" fill="#f3f1f7"/><rect x="161.2" y="14.1" width="3.6" height="14.3" fill="#f5f3f8"/><rect x="0" y="28.3" width="3.6" height="14.3" fill="#f7f6fa"/><rect x="3.4" y="28.3" width="3.6" height="14.3" fill="#f8f7fb"/><rect x="6.9" y="28.3" width="3.6" height="14.3" fill="#f7f6fa"/><rect x="17.1" y="28.3" width="3.6" height="14.3" fill="#f3f2f8"/><rect x="20.6" y="28.3" width="3.6" height="14.3" fill="#f4f2f8"/><rect x="24" y="28.3" width="3.6" height="14.3" fill="#f7f5fa"/><rect x="27.4" y="28.3" width="3.6" height="14.3" fill="#f5f3f9"/><rect x="37.7" y="28.3" width="3.6" height="14.3" fill="#f2f0f7"/><rect x="51.4" y="28.3" width="3.6" height="14.3" fill="#f4f2f8"/><rect x="54.9" y="28.3" width="3.6" height="14.3" fill="#f1eff6"/><rect x="58.3" y="28.3" width="3.6" height="14.3" fill="#f2f0f7"/><rect x="61.7" y="28.3" width="3.6" height="14.3" fill="#f2f0f7"/><rect x="65.2" y="28.3" width="3.6" height="14.3" fill="#f8f7fb"/><rect x="68.6" y="28.3" width="3.6" height="14.3" fill="#f5f4f9"/><rect x="75.4" y="28.3" width="3.6" height="14.3" fill="#f4f2f8"/><rect x="85.7" y="28.3" width="3.6" height="14.3" fill="#f3f1f7"/><rect x="99.4" y="28.3" width="3.6" height="14.3" fill="#f2f0f7"/><rect x="109.7" y="28.3" width="3.6" height="14.3" fill="#f1eff6"/><rect x="116.6" y="28.3" width="3.6" height="14.3" fill="#f5f4f9"/><rect x="123.4" y="28.3" width="3.6" height="14.3" fill="#f8f6fa"/><rect x="126.9" y="28.3" width="3.6" height="14.3" fill="#f1eff6"/><rect x="133.7" y="28.3" width="3.6" height="14.3" fill="#f3f1f7"/><rect x="137.2" y="28.3" width="3.6" height="14.3" fill="#f2f1f7"/><rect x="140.6" y="28.3" width="3.6" height="14.3" fill="#f4f2f8"/><rect x="144" y="28.3" width="3.6" height="14.3" fill="#f5f3f8"/><rect x="147.4" y="28.3" width="3.6" height="14.3" fill="#f8f7fa"/><rect x="150.9" y="28.3" width="3.6" height="14.3" fill="#f6f5f9"/><rect x="168" y="28.3" width="3.6" height="14.3" fill="#f5f3f9"/></pattern><pattern id="hn22" patternUnits="userSpaceOnUse" width="174.2" height="44.6"><rect x="3.5" y="0" width="3.7" height="15.1" fill="#f8f7fb"/><rect x="10.5" y="0" width="3.7" height="15.1" fill="#f7f6fa"/><rect x="17.4" y="0" width="3.7" height="15.1" fill="#f0eef6"/><rect x="20.9" y="0" width="3.7" height="15.1" fill="#efedf5"/><rect x="24.4" y="0" width="3.7" height="15.1" fill="#f3f1f7"/><rect x="41.8" y="0" width="3.7" height="15.1" fill="#f0eef6"/><rect x="48.8" y="0" width="3.7" height="15.1" fill="#f7f5fa"/><rect x="80.2" y="0" width="3.7" height="15.1" fill="#efedf5"/><rect x="83.6" y="0" width="3.7" height="15.1" fill="#f1eff6"/><rect x="94.1" y="0" width="3.7" height="15.1" fill="#f1eff6"/><rect x="101.1" y="0" width="3.7" height="15.1" fill="#f8f7fa"/><rect x="108" y="0" width="3.7" height="15.1" fill="#f0eef5"/><rect x="118.5" y="0" width="3.7" height="15.1" fill="#f2f0f7"/><rect x="125.5" y="0" width="3.7" height="15.1" fill="#f5f3f9"/><rect x="132.4" y="0" width="3.7" height="15.1" fill="#f3f1f7"/><rect x="139.4" y="0" width="3.7" height="15.1" fill="#f2f0f7"/><rect x="146.4" y="0" width="3.7" height="15.1" fill="#efedf5"/><rect x="149.9" y="0" width="3.7" height="15.1" fill="#f4f3f8"/><rect x="153.3" y="0" width="3.7" height="15.1" fill="#f0eef5"/><rect x="163.8" y="0" width="3.7" height="15.1" fill="#f7f6fa"/><rect x="170.8" y="0" width="3.7" height="15.1" fill="#f3f2f8"/><rect x="0" y="14.9" width="3.7" height="15.1" fill="#f5f4f9"/><rect x="3.5" y="14.9" width="3.7" height="15.1" fill="#f7f5fa"/><rect x="7" y="14.9" width="3.7" height="15.1" fill="#f3f2f8"/><rect x="17.4" y="14.9" width="3.7" height="15.1" fill="#f2f0f7"/><rect x="20.9" y="14.9" width="3.7" height="15.1" fill="#f5f3f8"/><rect x="66.2" y="14.9" width="3.7" height="15.1" fill="#f1eff6"/><rect x="80.2" y="14.9" width="3.7" height="15.1" fill="#f4f2f8"/><rect x="87.1" y="14.9" width="3.7" height="15.1" fill="#f7f5fa"/><rect x="94.1" y="14.9" width="3.7" height="15.1" fill="#f6f4f9"/><rect x="97.6" y="14.9" width="3.7" height="15.1" fill="#efedf5"/><rect x="101.1" y="14.9" width="3.7" height="15.1" fill="#f7f6fa"/><rect x="104.5" y="14.9" width="3.7" height="15.1" fill="#f6f5f9"/><rect x="111.5" y="14.9" width="3.7" height="15.1" fill="#f6f4f9"/><rect x="115" y="14.9" width="3.7" height="15.1" fill="#f4f2f8"/><rect x="118.5" y="14.9" width="3.7" height="15.1" fill="#f5f4f9"/><rect x="132.4" y="14.9" width="3.7" height="15.1" fill="#f5f3f9"/><rect x="139.4" y="14.9" width="3.7" height="15.1" fill="#f6f5fa"/><rect x="146.4" y="14.9" width="3.7" height="15.1" fill="#f1f0f6"/><rect x="156.8" y="14.9" width="3.7" height="15.1" fill="#f6f5f9"/><rect x="160.3" y="14.9" width="3.7" height="15.1" fill="#f8f6fa"/><rect x="167.3" y="14.9" width="3.7" height="15.1" fill="#f0eef6"/><rect x="0" y="29.8" width="3.7" height="15.1" fill="#f4f2f8"/><rect x="7" y="29.8" width="3.7" height="15.1" fill="#f4f2f8"/><rect x="10.5" y="29.8" width="3.7" height="15.1" fill="#f1eff6"/><rect x="13.9" y="29.8" width="3.7" height="15.1" fill="#f2f1f7"/><rect x="24.4" y="29.8" width="3.7" height="15.1" fill="#f3f2f8"/><rect x="27.9" y="29.8" width="3.7" height="15.1" fill="#f5f4f9"/><rect x="38.3" y="29.8" width="3.7" height="15.1" fill="#f5f3f9"/><rect x="45.3" y="29.8" width="3.7" height="15.1" fill="#f1eff6"/><rect x="55.8" y="29.8" width="3.7" height="15.1" fill="#f0eff6"/><rect x="62.7" y="29.8" width="3.7" height="15.1" fill="#f6f4f9"/><rect x="66.2" y="29.8" width="3.7" height="15.1" fill="#f1eff6"/><rect x="83.6" y="29.8" width="3.7" height="15.1" fill="#f5f3f8"/><rect x="94.1" y="29.8" width="3.7" height="15.1" fill="#f2f0f7"/><rect x="97.6" y="29.8" width="3.7" height="15.1" fill="#f7f5fa"/><rect x="101.1" y="29.8" width="3.7" height="15.1" fill="#f5f3f9"/><rect x="104.5" y="29.8" width="3.7" height="15.1" fill="#f4f2f8"/><rect x="111.5" y="29.8" width="3.7" height="15.1" fill="#f3f1f8"/><rect x="128.9" y="29.8" width="3.7" height="15.1" fill="#efeef5"/><rect x="142.9" y="29.8" width="3.7" height="15.1" fill="#f8f6fa"/><rect x="146.4" y="29.8" width="3.7" height="15.1" fill="#f4f2f8"/><rect x="156.8" y="29.8" width="3.7" height="15.1" fill="#f3f1f7"/><rect x="163.8" y="29.8" width="3.7" height="15.1" fill="#efedf5"/></pattern><pattern id="hn23" patternUnits="userSpaceOnUse" width="174.2" height="41.8"><rect x="10.5" y="0" width="3.7" height="14.1" fill="#f3f1f7"/><rect x="13.9" y="0" width="3.7" height="14.1" fill="#f3f2f8"/><rect x="17.4" y="0" width="3.7" height="14.1" fill="#f7f5fa"/><rect x="20.9" y="0" width="3.7" height="14.1" fill="#f6f5f9"/><rect x="27.9" y="0" width="3.7" height="14.1" fill="#f8f6fa"/><rect x="34.9" y="0" width="3.7" height="14.1" fill="#f4f2f8"/><rect x="41.8" y="0" width="3.7" height="14.1" fill="#f8f6fa"/><rect x="62.7" y="0" width="3.7" height="14.1" fill="#f1eff6"/><rect x="66.2" y="0" width="3.7" height="14.1" fill="#f3f1f7"/><rect x="73.2" y="0" width="3.7" height="14.1" fill="#f8f6fa"/><rect x="87.1" y="0" width="3.7" height="14.1" fill="#f2f1f7"/><rect x="90.6" y="0" width="3.7" height="14.1" fill="#f7f5fa"/><rect x="94.1" y="0" width="3.7" height="14.1" fill="#f1eff6"/><rect x="97.6" y="0" width="3.7" height="14.1" fill="#f7f6fa"/><rect x="101.1" y="0" width="3.7" height="14.1" fill="#f8f7fb"/><rect x="104.5" y="0" width="3.7" height="14.1" fill="#f3f1f7"/><rect x="111.5" y="0" width="3.7" height="14.1" fill="#f5f3f9"/><rect x="115" y="0" width="3.7" height="14.1" fill="#f6f4f9"/><rect x="125.5" y="0" width="3.7" height="14.1" fill="#f7f6fa"/><rect x="139.4" y="0" width="3.7" height="14.1" fill="#f3f2f8"/><rect x="153.3" y="0" width="3.7" height="14.1" fill="#efedf5"/><rect x="156.8" y="0" width="3.7" height="14.1" fill="#f4f3f8"/><rect x="160.3" y="0" width="3.7" height="14.1" fill="#f1eff6"/><rect x="13.9" y="13.9" width="3.7" height="14.1" fill="#efedf5"/><rect x="17.4" y="13.9" width="3.7" height="14.1" fill="#f7f5fa"/><rect x="20.9" y="13.9" width="3.7" height="14.1" fill="#f4f2f8"/><rect x="24.4" y="13.9" width="3.7" height="14.1" fill="#f0eef5"/><rect x="31.4" y="13.9" width="3.7" height="14.1" fill="#f7f6fa"/><rect x="38.3" y="13.9" width="3.7" height="14.1" fill="#f3f2f8"/><rect x="45.3" y="13.9" width="3.7" height="14.1" fill="#f4f3f8"/><rect x="52.3" y="13.9" width="3.7" height="14.1" fill="#f5f4f9"/><rect x="69.7" y="13.9" width="3.7" height="14.1" fill="#f2f0f7"/><rect x="80.2" y="13.9" width="3.7" height="14.1" fill="#f6f4f9"/><rect x="83.6" y="13.9" width="3.7" height="14.1" fill="#f1eff6"/><rect x="97.6" y="13.9" width="3.7" height="14.1" fill="#f2f1f7"/><rect x="101.1" y="13.9" width="3.7" height="14.1" fill="#f3f1f8"/><rect x="108" y="13.9" width="3.7" height="14.1" fill="#efedf5"/><rect x="111.5" y="13.9" width="3.7" height="14.1" fill="#f3f1f8"/><rect x="118.5" y="13.9" width="3.7" height="14.1" fill="#f3f1f8"/><rect x="125.5" y="13.9" width="3.7" height="14.1" fill="#f2f0f7"/><rect x="128.9" y="13.9" width="3.7" height="14.1" fill="#f5f3f9"/><rect x="135.9" y="13.9" width="3.7" height="14.1" fill="#f0eef6"/><rect x="139.4" y="13.9" width="3.7" height="14.1" fill="#f2f0f7"/><rect x="142.9" y="13.9" width="3.7" height="14.1" fill="#f4f3f8"/><rect x="146.4" y="13.9" width="3.7" height="14.1" fill="#f8f6fa"/><rect x="170.8" y="13.9" width="3.7" height="14.1" fill="#f0eef6"/><rect x="0" y="27.9" width="3.7" height="14.1" fill="#f0eef6"/><rect x="20.9" y="27.9" width="3.7" height="14.1" fill="#f5f4f9"/><rect x="24.4" y="27.9" width="3.7" height="14.1" fill="#f6f4f9"/><rect x="31.4" y="27.9" width="3.7" height="14.1" fill="#f5f3f9"/><rect x="34.9" y="27.9" width="3.7" height="14.1" fill="#f1eff6"/><rect x="45.3" y="27.9" width="3.7" height="14.1" fill="#f6f4f9"/><rect x="48.8" y="27.9" width="3.7" height="14.1" fill="#f6f5fa"/><rect x="52.3" y="27.9" width="3.7" height="14.1" fill="#f0eef6"/><rect x="59.2" y="27.9" width="3.7" height="14.1" fill="#f4f2f8"/><rect x="62.7" y="27.9" width="3.7" height="14.1" fill="#f3f1f7"/><rect x="66.2" y="27.9" width="3.7" height="14.1" fill="#f0eef6"/><rect x="69.7" y="27.9" width="3.7" height="14.1" fill="#f0eff6"/><rect x="73.2" y="27.9" width="3.7" height="14.1" fill="#efedf5"/><rect x="80.2" y="27.9" width="3.7" height="14.1" fill="#f1eff6"/><rect x="83.6" y="27.9" width="3.7" height="14.1" fill="#f5f3f9"/><rect x="87.1" y="27.9" width="3.7" height="14.1" fill="#f1eff6"/><rect x="90.6" y="27.9" width="3.7" height="14.1" fill="#f1f0f7"/><rect x="94.1" y="27.9" width="3.7" height="14.1" fill="#f2f0f7"/><rect x="97.6" y="27.9" width="3.7" height="14.1" fill="#f8f6fa"/><rect x="108" y="27.9" width="3.7" height="14.1" fill="#efedf5"/><rect x="115" y="27.9" width="3.7" height="14.1" fill="#f8f7fb"/><rect x="122" y="27.9" width="3.7" height="14.1" fill="#f2f0f7"/><rect x="149.9" y="27.9" width="3.7" height="14.1" fill="#f7f6fa"/><rect x="153.3" y="27.9" width="3.7" height="14.1" fill="#f0eef6"/><rect x="156.8" y="27.9" width="3.7" height="14.1" fill="#f4f3f8"/><rect x="160.3" y="27.9" width="3.7" height="14.1" fill="#f3f1f7"/><rect x="170.8" y="27.9" width="3.7" height="14.1" fill="#f5f3f9"/></pattern><filter id="gaf" x="0" y="0" width="1" height="1" filterUnits="objectBoundingBox" color-interpolation-filters="sRGB"><feTurbulence type="fractalNoise" baseFrequency="0.011 0.8" numOctaves="2" seed="31" result="t"/><feColorMatrix in="t" type="matrix" values="0 0 0 0 0.30  0 0 0 0 0.10  0 0 0 0 0.55  2.5 0 0 0 -0.88" result="c"/><feComposite in="c" in2="SourceGraphic" operator="in"/></filter><linearGradient id="gav" x1="0" y1="0" x2="0" y2="1"><stop offset="0" stop-color="#000" stop-opacity="1"/><stop offset="0.04" stop-color="#000" stop-opacity="0.92"/><stop offset="0.1" stop-color="#000" stop-opacity="0.4"/><stop offset="0.2" stop-color="#000" stop-opacity="0.1"/><stop offset="0.32" stop-color="#000" stop-opacity="0"/></linearGradient><radialGradient id="gar"><stop offset="0" stop-color="#000" stop-opacity="0.9"/><stop offset="0.6" stop-color="#000" stop-opacity="0.45"/><stop offset="1" stop-color="#000" stop-opacity="0"/></radialGradient><linearGradient id="gaw" x1="0" y1="0" x2="0" y2="1"><stop offset="0" stop-color="#dcd8ee" stop-opacity="0.8"/><stop offset="0.12" stop-color="#e9e6f4" stop-opacity="0.5"/><stop offset="0.28" stop-color="#f3f1f9" stop-opacity="0"/></linearGradient><filter id="gbf" x="0" y="0" width="1" height="1" filterUnits="objectBoundingBox" color-interpolation-filters="sRGB"><feTurbulence type="fractalNoise" baseFrequency="0.011 0.8" numOctaves="2" seed="32" result="t"/><feColorMatrix in="t" type="matrix" values="0 0 0 0 0.30  0 0 0 0 0.10  0 0 0 0 0.55  2.5 0 0 0 -0.88" result="c"/><feComposite in="c" in2="SourceGraphic" operator="in"/></filter><linearGradient id="gbv" x1="0" y1="0" x2="0" y2="1"><stop offset="0" stop-color="#000" stop-opacity="1"/><stop offset="0.04" stop-color="#000" stop-opacity="0.92"/><stop offset="0.1" stop-color="#000" stop-opacity="0.4"/><stop offset="0.2" stop-color="#000" stop-opacity="0.1"/><stop offset="0.32" stop-color="#000" stop-opacity="0"/></linearGradient><radialGradient id="gbr"><stop offset="0" stop-color="#000" stop-opacity="0.9"/><stop offset="0.6" stop-color="#000" stop-opacity="0.45"/><stop offset="1" stop-color="#000" stop-opacity="0"/></radialGradient><linearGradient id="gbw" x1="0" y1="0" x2="0" y2="1"><stop offset="0" stop-color="#dcd8ee" stop-opacity="0.8"/><stop offset="0.12" stop-color="#e9e6f4" stop-opacity="0.5"/><stop offset="0.28" stop-color="#f3f1f9" stop-opacity="0"/></linearGradient><filter id="gcf" x="0" y="0" width="1" height="1" filterUnits="objectBoundingBox" color-interpolation-filters="sRGB"><feTurbulence type="fractalNoise" baseFrequency="0.011 0.8" numOctaves="2" seed="33" result="t"/><feColorMatrix in="t" type="matrix" values="0 0 0 0 0.30  0 0 0 0 0.10  0 0 0 0 0.55  2.5 0 0 0 -0.88" result="c"/><feComposite in="c" in2="SourceGraphic" operator="in"/></filter><linearGradient id="gcv" x1="0" y1="0" x2="0" y2="1"><stop offset="0" stop-color="#000" stop-opacity="1"/><stop offset="0.04" stop-color="#000" stop-opacity="0.92"/><stop offset="0.1" stop-color="#000" stop-opacity="0.4"/><stop offset="0.2" stop-color="#000" stop-opacity="0.1"/><stop offset="0.32" stop-color="#000" stop-opacity="0"/></linearGradient><radialGradient id="gcr"><stop offset="0" stop-color="#000" stop-opacity="0.9"/><stop offset="0.6" stop-color="#000" stop-opacity="0.45"/><stop offset="1" stop-color="#000" stop-opacity="0"/></radialGradient><linearGradient id="gcw" x1="0" y1="0" x2="0" y2="1"><stop offset="0" stop-color="#dcd8ee" stop-opacity="0.8"/><stop offset="0.12" stop-color="#e9e6f4" stop-opacity="0.5"/><stop offset="0.28" stop-color="#f3f1f9" stop-opacity="0"/></linearGradient><linearGradient id="cbar"><stop offset="0%" stop-color="#fcfbfd"/><stop offset="25%" stop-color="#e0def0"/><stop offset="50%" stop-color="#aaa6d3"/><stop offset="65%" stop-color="#8581bf"/><stop offset="80%" stop-color="#6840a6"/><stop offset="88%" stop-color="#5a1e9c"/><stop offset="100%" stop-color="#3f2572"/></linearGradient></defs>
<text x="1134.3" y="615" font-size="48" fill="#111">d</text>
<text x="1402" y="663" font-size="32" fill="#111" text-anchor="middle">Flanking PB-mediated GLN</text>
<text x="1406" y="700.5" font-size="32" fill="#111" text-anchor="middle">insertion in PB14 (n=16)</text>
<text x="1792" y="658.7" font-size="32" fill="#111" text-anchor="middle">TSSs within 1MB of</text>
<text x="1796" y="696.8" font-size="32" fill="#111" text-anchor="middle">GLN insertion in PB14</text>
<text x="1795.4" y="731.8" font-size="32" fill="#111" text-anchor="middle">(n=667)</text>
<text x="1175.5" y="915.8" font-size="32" fill="#111" text-anchor="middle" transform="rotate(-90 1175.5 915.8)">H3K27ac (Input-RPKM)</text>
<polyline points="1227,1037.3 1228.6,1037.3 1228.6,1035 1230.2,1035 1230.2,1031.9 1231.8,1031.9 1231.8,1022.4 1233.4,1022.4 1233.4,1012.1 1235,1012.1 1235,996.8 1236.6,996.8 1236.6,999.4 1238.2,999.4 1238.2,990.7 1239.8,990.7 1239.8,1002.7 1241.4,1002.7 1241.4,1009.8 1243,1009.8 1243,1008.1 1244.6,1008.1 1244.6,1004 1246.2,1004 1246.2,1016.7 1247.8,1016.7 1247.8,1006.5 1249.4,1006.5 1249.4,1005.2 1251,1005.2 1251,1008.3 1252.6,1008.3 1252.6,1008.8 1254.2,1008.8 1254.2,1024.4 1255.8,1024.4 1255.8,1014.1 1257.4,1014.1 1257.4,1010.8 1259,1010.8 1259,1025.2 1260.6,1025.2 1260.6,1020.1 1262.2,1020.1 1262.2,1019.2 1263.8,1019.2 1263.8,1013.5 1265.4,1013.5 1265.4,1013.1 1267,1013.1 1267,1006.5 1268.6,1006.5 1268.6,995.3 1270.2,995.3 1270.2,1003.3 1271.8,1003.3 1271.8,995.1 1273.4,995.1 1273.4,986.6 1275,986.6 1275,979.5 1276.6,979.5 1276.6,973.3 1278.2,973.3 1278.2,951 1279.8,951 1279.8,956.1 1281.4,956.1 1281.4,972.8 1283,972.8 1283,968.2 1284.6,968.2 1284.6,964.3 1286.2,964.3 1286.2,957.1 1287.8,957.1 1287.8,949.3 1289.4,949.3 1289.4,936.8 1291,936.8 1291,938.1 1292.6,938.1 1292.6,947 1294.2,947 1294.2,954.9 1295.8,954.9 1295.8,957.2 1297.4,957.2 1297.4,936.3 1299,936.3 1299,899.7 1300.6,899.7 1300.6,830.6 1302.2,830.6 1302.2,789.9 1303.8,789.9 1303.8,829.1 1305.4,829.1 1305.4,902.9 1307,902.9 1307,885 1308.6,885 1308.6,864.1 1310.2,864.1 1310.2,840.3 1311.8,840.3 1311.8,829.5 1313.4,829.5 1313.4,840.8 1315,840.8 1315,883.1 1316.6,883.1 1316.6,913 1318.2,913 1318.2,919.4 1319.8,919.4 1319.8,922.6 1321.4,922.6 1321.4,938.4 1323,938.4 1323,965.1 1324.6,965.1 1324.6,972.8 1326.2,972.8 1326.2,974.6 1327.8,974.6 1327.8,976.1 1329.4,976.1 1329.4,968.5 1331,968.5 1331,962.4 1332.6,962.4 1332.6,970.1 1334.2,970.1 1334.2,960.1 1335.8,960.1 1335.8,956.5 1337.4,956.5 1337.4,937.8 1339,937.8 1339,925.2 1340.6,925.2 1340.6,923.8 1342.2,923.8 1342.2,926.4 1343.8,926.4 1343.8,948.1 1345.4,948.1 1345.4,976.8 1347,976.8 1347,990.4 1348.6,990.4 1348.6,1013.9 1350.2,1013.9 1350.2,1016.9 1351.8,1016.9 1351.8,1022 1353.4,1022 1353.4,1016.1 1355,1016.1 1355,1003.4 1356.6,1003.4 1356.6,991.3 1358.2,991.3 1358.2,976.1 1359.8,976.1 1359.8,967.6 1361.4,967.6 1361.4,964.4 1363,964.4 1363,944.1 1364.6,944.1 1364.6,947.4 1366.2,947.4 1366.2,937.7 1367.8,937.7 1367.8,930.9 1369.4,930.9 1369.4,960.2 1371,960.2 1371,975.5 1372.6,975.5 1372.6,985.5 1374.2,985.5 1374.2,981.5 1375.8,981.5 1375.8,1004.2 1377.4,1004.2 1377.4,1007 1379,1007 1379,990.9 1380.6,990.9 1380.6,1002.4 1382.2,1002.4 1382.2,989.6 1383.8,989.6 1383.8,993.5 1385.4,993.5 1385.4,991.3 1387,991.3 1387,990.1 1388.6,990.1 1388.6,997.6 1390.2,997.6 1390.2,994.5 1391.8,994.5 1391.8,1009.7 1393.4,1009.7 1393.4,997.9 1395,997.9 1395,1004 1396.6,1004 1396.6,1001.8 1398.2,1001.8 1398.2,1014.2 1399.8,1014.2 1399.8,1004 1401.4,1004 1401.4,1001.5 1403,1001.5 1403,1017.9 1404.6,1017.9 1404.6,1013.9 1406.2,1013.9 1406.2,1010.3 1407.8,1010.3 1407.8,1006.3 1409.4,1006.3 1409.4,1017.6 1411,1017.6 1411,1015.4 1412.6,1015.4 1412.6,1008.3 1414.2,1008.3 1414.2,996 1415.8,996 1415.8,995.1 1417.4,995.1 1417.4,1010.6 1419,1010.6 1419,1020.1 1420.6,1020.1 1420.6,1022 1422.2,1022 1422.2,1025.2 1423.8,1025.2 1423.8,1026.4 1425.4,1026.4 1425.4,1034.3 1427,1034.3 1427,1027.3 1428.6,1027.3 1428.6,1019.3 1430.2,1019.3 1430.2,1029.8 1431.8,1029.8 1431.8,1024.3 1433.4,1024.3 1433.4,1035.3 1435,1035.3 1435,1026.3 1436.6,1026.3 1436.6,1025.6 1438.2,1025.6 1438.2,1027.5 1439.8,1027.5 1439.8,1030.8 1441.4,1030.8 1441.4,1031.3 1443,1031.3 1443,1028.3 1444.6,1028.3 1444.6,1023.5 1446.2,1023.5 1446.2,1036.8 1447.8,1036.8 1447.8,1037.6 1449.4,1037.6 1449.4,1025.7 1451,1025.7 1451,1022.5 1452.6,1022.5 1452.6,1029.5 1454.2,1029.5 1454.2,1030.6 1455.8,1030.6 1455.8,1025.5 1457.4,1025.5 1457.4,1034.9 1459,1034.9 1459,1033.3 1460.6,1033.3 1460.6,1034.3 1462.2,1034.3 1462.2,1027.2 1463.8,1027.2 1463.8,1031.9 1465.4,1031.9 1465.4,1033.2 1467,1033.2 1467,1024.7 1468.6,1024.7 1468.6,1019.8 1470.2,1019.8 1470.2,1031.5 1471.8,1031.5 1471.8,1023.9 1473.4,1023.9 1473.4,1029 1475,1029 1475,1020.9 1476.6,1020.9 1476.6,1025.6 1478.2,1025.6 1478.2,1031.1 1479.8,1031.1 1479.8,1031.8 1481.4,1031.8 1481.4,1035.6 1483,1035.6 1483,1027.7 1484.6,1027.7 1484.6,1029.8 1486.2,1029.8 1486.2,1034 1487.8,1034 1487.8,1031 1489.4,1031 1489.4,1032 1491,1032 1491,1024.2 1492.6,1024.2 1492.6,1036 1494.2,1036 1494.2,1021.1 1495.8,1021.1 1495.8,1030.6 1497.4,1030.6 1497.4,1028.8 1499,1028.8 1499,1031.6 1500.6,1031.6 1500.6,1025.3 1502.2,1025.3 1502.2,1025.9 1503.8,1025.9 1503.8,1031 1505.4,1031 1505.4,1032.8 1507,1032.8 1507,1028.8 1508.6,1028.8 1508.6,1026.7 1510.2,1026.7 1510.2,1035.3 1511.8,1035.3 1511.8,1029.7 1513.4,1029.7 1513.4,1025.9 1515,1025.9 1515,1035.2 1516.6,1035.2 1516.6,1039.8 1518.2,1039.8 1518.2,1040.1 1519.8,1040.1 1519.8,1031.7 1521.4,1031.7 1521.4,1032.9 1523,1032.9 1523,1028.1 1524.6,1028.1 1524.6,1030.4 1526.2,1030.4 1526.2,1041.7 1527.8,1041.7 1527.8,1043 1529.4,1043 1529.4,1042.2 1531,1042.2 1531,1043.8 1532.6,1043.8 1532.6,1034.8 1534.2,1034.8 1534.2,1032.4 1535.8,1032.4 1535.8,1032.1 1537.4,1032.1 1537.4,1044 1539,1044 1539,1033.4 1540.6,1033.4 1540.6,1043.8 1542.2,1043.8 1542.2,1042.6 1543.8,1042.6 1543.8,1037.8 1545.4,1037.8 1545.4,1050.1 1547,1050.1 1547,1050.7 1548.6,1050.7 1548.6,1038.1 1550.2,1038.1 1550.2,1048.5 1551.8,1048.5 1551.8,1048.1 1553.4,1048.1 1553.4,1044.8 1555,1044.8 1555,1043.8 1556.6,1043.8 1556.6,1056.5 1558.2,1056.5 1558.2,1051.4 1559.8,1051.4 1559.8,1050.3 1561.4,1050.3 1561.4,1048.9 1563,1048.9 1563,1053.2 1564.6,1053.2 1564.6,1045.8 1566.2,1045.8 1566.2,1038.5 1567.8,1038.5 1567.8,1048 1569.4,1048 1569.4,1044.6 1571,1044.6 1571,1051.6" fill="none" stroke="#ec5a8c" stroke-width="3.4" stroke-linejoin="round"/>
<polyline points="1227,1030.3 1228.6,1030.3 1228.6,1018.6 1230.2,1018.6 1230.2,1022.2 1231.8,1022.2 1231.8,1004.2 1233.4,1004.2 1233.4,998.5 1235,998.5 1235,1006.2 1236.6,1006.2 1236.6,996.9 1238.2,996.9 1238.2,1010.4 1239.8,1010.4 1239.8,1008.2 1241.4,1008.2 1241.4,1010 1243,1010 1243,1018.5 1244.6,1018.5 1244.6,1013.5 1246.2,1013.5 1246.2,1014.9 1247.8,1014.9 1247.8,1013.5 1249.4,1013.5 1249.4,1023.3 1251,1023.3 1251,1016.1 1252.6,1016.1 1252.6,1013.1 1254.2,1013.1 1254.2,1018.1 1255.8,1018.1 1255.8,1020.7 1257.4,1020.7 1257.4,1027.9 1259,1027.9 1259,1022.1 1260.6,1022.1 1260.6,1023.9 1262.2,1023.9 1262.2,1016.2 1263.8,1016.2 1263.8,1015 1265.4,1015 1265.4,1015 1267,1015 1267,1019.5 1268.6,1019.5 1268.6,1008.9 1270.2,1008.9 1270.2,1004 1271.8,1004 1271.8,1006.2 1273.4,1006.2 1273.4,989.5 1275,989.5 1275,988.2 1276.6,988.2 1276.6,995 1278.2,995 1278.2,980.1 1279.8,980.1 1279.8,991.1 1281.4,991.1 1281.4,986.2 1283,986.2 1283,978.1 1284.6,978.1 1284.6,978.1 1286.2,978.1 1286.2,976.7 1287.8,976.7 1287.8,973.1 1289.4,973.1 1289.4,974.2 1291,974.2 1291,971.9 1292.6,971.9 1292.6,967.9 1294.2,967.9 1294.2,963.5 1295.8,963.5 1295.8,946.8 1297.4,946.8 1297.4,935.6 1299,935.6 1299,915 1300.6,915 1300.6,899.5 1302.2,899.5 1302.2,912.9 1303.8,912.9 1303.8,921.6 1305.4,921.6 1305.4,930 1307,930 1307,932.9 1308.6,932.9 1308.6,945 1310.2,945 1310.2,915.9 1311.8,915.9 1311.8,898.5 1313.4,898.5 1313.4,901.5 1315,901.5 1315,924.4 1316.6,924.4 1316.6,940.3 1318.2,940.3 1318.2,953.6 1319.8,953.6 1319.8,965.7 1321.4,965.7 1321.4,975.1 1323,975.1 1323,994.9 1324.6,994.9 1324.6,999.8 1326.2,999.8 1326.2,1010.7 1327.8,1010.7 1327.8,1002.3 1329.4,1002.3 1329.4,999.3 1331,999.3 1331,994.7 1332.6,994.7 1332.6,980.3 1334.2,980.3 1334.2,977.6 1335.8,977.6 1335.8,982.8 1337.4,982.8 1337.4,975.9 1339,975.9 1339,965.1 1340.6,965.1 1340.6,952.6 1342.2,952.6 1342.2,960.4 1343.8,960.4 1343.8,975.9 1345.4,975.9 1345.4,992.5 1347,992.5 1347,1012.6 1348.6,1012.6 1348.6,1021.5 1350.2,1021.5 1350.2,1035.9 1351.8,1035.9 1351.8,1028.7 1353.4,1028.7 1353.4,1026.3 1355,1026.3 1355,1025.5 1356.6,1025.5 1356.6,1015.1 1358.2,1015.1 1358.2,996.9 1359.8,996.9 1359.8,999.5 1361.4,999.5 1361.4,979.5 1363,979.5 1363,970.9 1364.6,970.9 1364.6,962.7 1366.2,962.7 1366.2,966.9 1367.8,966.9 1367.8,975 1369.4,975 1369.4,985.3 1371,985.3 1371,995.7 1372.6,995.7 1372.6,1001.7 1374.2,1001.7 1374.2,1017.9 1375.8,1017.9 1375.8,1029.2 1377.4,1029.2 1377.4,1018.7 1379,1018.7 1379,1023.4 1380.6,1023.4 1380.6,1020.6 1382.2,1020.6 1382.2,1018.5 1383.8,1018.5 1383.8,1030.3 1385.4,1030.3 1385.4,1017.8 1387,1017.8 1387,1019.6 1388.6,1019.6 1388.6,1022.3 1390.2,1022.3 1390.2,1021.8 1391.8,1021.8 1391.8,1022.8 1393.4,1022.8 1393.4,1027.2 1395,1027.2 1395,1021.7 1396.6,1021.7 1396.6,1029.7 1398.2,1029.7 1398.2,1022.2 1399.8,1022.2 1399.8,1019.8 1401.4,1019.8 1401.4,1023.3 1403,1023.3 1403,1021.6 1404.6,1021.6 1404.6,1015.5 1406.2,1015.5 1406.2,1016.8 1407.8,1016.8 1407.8,1029.3 1409.4,1029.3 1409.4,1018.9 1411,1018.9 1411,1021.9 1412.6,1021.9 1412.6,1031.4 1414.2,1031.4 1414.2,1026.6 1415.8,1026.6 1415.8,1029.8 1417.4,1029.8 1417.4,1034.5 1419,1034.5 1419,1029.2 1420.6,1029.2 1420.6,1024.4 1422.2,1024.4 1422.2,1034.6 1423.8,1034.6 1423.8,1026.1 1425.4,1026.1 1425.4,1029.3 1427,1029.3 1427,1038.7 1428.6,1038.7 1428.6,1027.3 1430.2,1027.3 1430.2,1031.9 1431.8,1031.9 1431.8,1026.9 1433.4,1026.9 1433.4,1030.7 1435,1030.7 1435,1030.7 1436.6,1030.7 1436.6,1037.5 1438.2,1037.5 1438.2,1030.3 1439.8,1030.3 1439.8,1028.7 1441.4,1028.7 1441.4,1029.6 1443,1029.6 1443,1036.3 1444.6,1036.3 1444.6,1030.8 1446.2,1030.8 1446.2,1035 1447.8,1035 1447.8,1040.9 1449.4,1040.9 1449.4,1041.7 1451,1041.7 1451,1040.9 1452.6,1040.9 1452.6,1038.7 1454.2,1038.7 1454.2,1039.1 1455.8,1039.1 1455.8,1033.4 1457.4,1033.4 1457.4,1029.9 1459,1029.9 1459,1032.2 1460.6,1032.2 1460.6,1033.9 1462.2,1033.9 1462.2,1030 1463.8,1030 1463.8,1035.3 1465.4,1035.3 1465.4,1032.5 1467,1032.5 1467,1027.5 1468.6,1027.5 1468.6,1033 1470.2,1033 1470.2,1036.4 1471.8,1036.4 1471.8,1025 1473.4,1025 1473.4,1028.2 1475,1028.2 1475,1034.1 1476.6,1034.1 1476.6,1034.3 1478.2,1034.3 1478.2,1032 1479.8,1032 1479.8,1031.1 1481.4,1031.1 1481.4,1037.4 1483,1037.4 1483,1041.2 1484.6,1041.2 1484.6,1038.1 1486.2,1038.1 1486.2,1029 1487.8,1029 1487.8,1039.6 1489.4,1039.6 1489.4,1034.8 1491,1034.8 1491,1039.3 1492.6,1039.3 1492.6,1039.3 1494.2,1039.3 1494.2,1040.2 1495.8,1040.2 1495.8,1036.6 1497.4,1036.6 1497.4,1040.7 1499,1040.7 1499,1043.2 1500.6,1043.2 1500.6,1042.1 1502.2,1042.1 1502.2,1041.4 1503.8,1041.4 1503.8,1036.4 1505.4,1036.4 1505.4,1043.6 1507,1043.6 1507,1044.5 1508.6,1044.5 1508.6,1037.8 1510.2,1037.8 1510.2,1038.7 1511.8,1038.7 1511.8,1034.2 1513.4,1034.2 1513.4,1045 1515,1045 1515,1039.5 1516.6,1039.5 1516.6,1039.9 1518.2,1039.9 1518.2,1046.1 1519.8,1046.1 1519.8,1031.1 1521.4,1031.1 1521.4,1043.5 1523,1043.5 1523,1045.7 1524.6,1045.7 1524.6,1039.8 1526.2,1039.8 1526.2,1045.1 1527.8,1045.1 1527.8,1037.9 1529.4,1037.9 1529.4,1042.6 1531,1042.6 1531,1046.4 1532.6,1046.4 1532.6,1047.7 1534.2,1047.7 1534.2,1037 1535.8,1037 1535.8,1044.5 1537.4,1044.5 1537.4,1036.3 1539,1036.3 1539,1041.7 1540.6,1041.7 1540.6,1034.4 1542.2,1034.4 1542.2,1044.8 1543.8,1044.8 1543.8,1045.8 1545.4,1045.8 1545.4,1045.7 1547,1045.7 1547,1037 1548.6,1037 1548.6,1040.1 1550.2,1040.1 1550.2,1044.9 1551.8,1044.9 1551.8,1049.2 1553.4,1049.2 1553.4,1039.8 1555,1039.8 1555,1035.3 1556.6,1035.3 1556.6,1041.6 1558.2,1041.6 1558.2,1051.3 1559.8,1051.3 1559.8,1051.1 1561.4,1051.1 1561.4,1050.3 1563,1050.3 1563,1049.2 1564.6,1049.2 1564.6,1051.5 1566.2,1051.5 1566.2,1051.4 1567.8,1051.4 1567.8,1041.8 1569.4,1041.8 1569.4,1038 1571,1038 1571,1049.5" fill="none" stroke="#5460b6" stroke-width="3.4" stroke-linejoin="round"/>
<polyline points="1227,1026.9 1228.6,1026.9 1228.6,1011.3 1230.2,1011.3 1230.2,1004.4 1231.8,1004.4 1231.8,990.1 1233.4,990.1 1233.4,987.4 1235,987.4 1235,996.3 1236.6,996.3 1236.6,996 1238.2,996 1238.2,980.5 1239.8,980.5 1239.8,993.8 1241.4,993.8 1241.4,997.1 1243,997.1 1243,986.3 1244.6,986.3 1244.6,1000.9 1246.2,1000.9 1246.2,999.4 1247.8,999.4 1247.8,1011.1 1249.4,1011.1 1249.4,1013.3 1251,1013.3 1251,1024 1252.6,1024 1252.6,1015.3 1254.2,1015.3 1254.2,1011.1 1255.8,1011.1 1255.8,1017.3 1257.4,1017.3 1257.4,1013.4 1259,1013.4 1259,1014 1260.6,1014 1260.6,1023.9 1262.2,1023.9 1262.2,1010.4 1263.8,1010.4 1263.8,1012.3 1265.4,1012.3 1265.4,1015.7 1267,1015.7 1267,1016.5 1268.6,1016.5 1268.6,997.4 1270.2,997.4 1270.2,1000.3 1271.8,1000.3 1271.8,991.8 1273.4,991.8 1273.4,983.7 1275,983.7 1275,981.2 1276.6,981.2 1276.6,972.1 1278.2,972.1 1278.2,976.2 1279.8,976.2 1279.8,963.5 1281.4,963.5 1281.4,966.8 1283,966.8 1283,955.3 1284.6,955.3 1284.6,953.6 1286.2,953.6 1286.2,965 1287.8,965 1287.8,961.6 1289.4,961.6 1289.4,958.2 1291,958.2 1291,942.9 1292.6,942.9 1292.6,950.7 1294.2,950.7 1294.2,945.4 1295.8,945.4 1295.8,949.5 1297.4,949.5 1297.4,916.2 1299,916.2 1299,884.8 1300.6,884.8 1300.6,872.8 1302.2,872.8 1302.2,856 1303.8,856 1303.8,862.9 1305.4,862.9 1305.4,883.5 1307,883.5 1307,889.5 1308.6,889.5 1308.6,872.5 1310.2,872.5 1310.2,863 1311.8,863 1311.8,862.4 1313.4,862.4 1313.4,869.9 1315,869.9 1315,886.5 1316.6,886.5 1316.6,884.8 1318.2,884.8 1318.2,894.6 1319.8,894.6 1319.8,913.7 1321.4,913.7 1321.4,937.7 1323,937.7 1323,948.6 1324.6,948.6 1324.6,968.4 1326.2,968.4 1326.2,966.7 1327.8,966.7 1327.8,971.4 1329.4,971.4 1329.4,976.6 1331,976.6 1331,980.6 1332.6,980.6 1332.6,966.3 1334.2,966.3 1334.2,961.7 1335.8,961.7 1335.8,975.1 1337.4,975.1 1337.4,959.4 1339,959.4 1339,959.3 1340.6,959.3 1340.6,954.4 1342.2,954.4 1342.2,960.2 1343.8,960.2 1343.8,966.1 1345.4,966.1 1345.4,978.6 1347,978.6 1347,1005.7 1348.6,1005.7 1348.6,1006.2 1350.2,1006.2 1350.2,1025.1 1351.8,1025.1 1351.8,1007 1353.4,1007 1353.4,1008 1355,1008 1355,992.1 1356.6,992.1 1356.6,982.8 1358.2,982.8 1358.2,981.2 1359.8,981.2 1359.8,962.3 1361.4,962.3 1361.4,965 1363,965 1363,960.5 1364.6,960.5 1364.6,942.5 1366.2,942.5 1366.2,946.3 1367.8,946.3 1367.8,952.3 1369.4,952.3 1369.4,957.5 1371,957.5 1371,965.1 1372.6,965.1 1372.6,985.9 1374.2,985.9 1374.2,1000.1 1375.8,1000.1 1375.8,994.2 1377.4,994.2 1377.4,1013.2 1379,1013.2 1379,1005.5 1380.6,1005.5 1380.6,1007.5 1382.2,1007.5 1382.2,1017.8 1383.8,1017.8 1383.8,1017.2 1385.4,1017.2 1385.4,1017 1387,1017 1387,1013.6 1388.6,1013.6 1388.6,1012.1 1390.2,1012.1 1390.2,976 1391.8,976 1391.8,973.7 1393.4,973.7 1393.4,966.7 1395,966.7 1395,973.3 1396.6,973.3 1396.6,956.4 1398.2,956.4 1398.2,908.9 1399.8,908.9 1399.8,906.8 1401.4,906.8 1401.4,902.5 1403,902.5 1403,888.2 1404.6,888.2 1404.6,894.4 1406.2,894.4 1406.2,891.9 1407.8,891.9 1407.8,899.6 1409.4,899.6 1409.4,890.5 1411,890.5 1411,885.8 1412.6,885.8 1412.6,898.2 1414.2,898.2 1414.2,892.8 1415.8,892.8 1415.8,917.7 1417.4,917.7 1417.4,946.9 1419,946.9 1419,954.7 1420.6,954.7 1420.6,970.8 1422.2,970.8 1422.2,972.4 1423.8,972.4 1423.8,983.7 1425.4,983.7 1425.4,982.7 1427,982.7 1427,987.5 1428.6,987.5 1428.6,1004.9 1430.2,1004.9 1430.2,1007.1 1431.8,1007.1 1431.8,998.9 1433.4,998.9 1433.4,997.7 1435,997.7 1435,1017.7 1436.6,1017.7 1436.6,1021.2 1438.2,1021.2 1438.2,1018.4 1439.8,1018.4 1439.8,1020.4 1441.4,1020.4 1441.4,1016.7 1443,1016.7 1443,1015.8 1444.6,1015.8 1444.6,1013.6 1446.2,1013.6 1446.2,1008.3 1447.8,1008.3 1447.8,1012.4 1449.4,1012.4 1449.4,1012.7 1451,1012.7 1451,1007.7 1452.6,1007.7 1452.6,1023.1 1454.2,1023.1 1454.2,1015.4 1455.8,1015.4 1455.8,1014.9 1457.4,1014.9 1457.4,1025.4 1459,1025.4 1459,1029.9 1460.6,1029.9 1460.6,1021 1462.2,1021 1462.2,1030.4 1463.8,1030.4 1463.8,1030.6 1465.4,1030.6 1465.4,1025.4 1467,1025.4 1467,1020 1468.6,1020 1468.6,1030 1470.2,1030 1470.2,1025.4 1471.8,1025.4 1471.8,1025.6 1473.4,1025.6 1473.4,1017 1475,1017 1475,1024.4 1476.6,1024.4 1476.6,1017.3 1478.2,1017.3 1478.2,1030 1479.8,1030 1479.8,1027.3 1481.4,1027.3 1481.4,1022.1 1483,1022.1 1483,1018.2 1484.6,1018.2 1484.6,1026.4 1486.2,1026.4 1486.2,1030.8 1487.8,1030.8 1487.8,1033 1489.4,1033 1489.4,1026 1491,1026 1491,1032.7 1492.6,1032.7 1492.6,1022.3 1494.2,1022.3 1494.2,1022.5 1495.8,1022.5 1495.8,1035 1497.4,1035 1497.4,1034 1499,1034 1499,1025.2 1500.6,1025.2 1500.6,1028.9 1502.2,1028.9 1502.2,1026.7 1503.8,1026.7 1503.8,1035.7 1505.4,1035.7 1505.4,1040.3 1507,1040.3 1507,1038.1 1508.6,1038.1 1508.6,1029.8 1510.2,1029.8 1510.2,1039.9 1511.8,1039.9 1511.8,1038.9 1513.4,1038.9 1513.4,1038 1515,1038 1515,1038.3 1516.6,1038.3 1516.6,1038.8 1518.2,1038.8 1518.2,1030 1519.8,1030 1519.8,1044.1 1521.4,1044.1 1521.4,1047.2 1523,1047.2 1523,1030.6 1524.6,1030.6 1524.6,1032.1 1526.2,1032.1 1526.2,1030.6 1527.8,1030.6 1527.8,1040.9 1529.4,1040.9 1529.4,1032 1531,1032 1531,1032.9 1532.6,1032.9 1532.6,1046.1 1534.2,1046.1 1534.2,1037.3 1535.8,1037.3 1535.8,1036.2 1537.4,1036.2 1537.4,1039.9 1539,1039.9 1539,1043.1 1540.6,1043.1 1540.6,1047.8 1542.2,1047.8 1542.2,1047.5 1543.8,1047.5 1543.8,1050.1 1545.4,1050.1 1545.4,1053.5 1547,1053.5 1547,1044.7 1548.6,1044.7 1548.6,1050.7 1550.2,1050.7 1550.2,1041.9 1551.8,1041.9 1551.8,1056.2 1553.4,1056.2 1553.4,1041.4 1555,1041.4 1555,1045.7 1556.6,1045.7 1556.6,1041.6 1558.2,1041.6 1558.2,1042.1 1559.8,1042.1 1559.8,1042 1561.4,1042 1561.4,1047.8 1563,1047.8 1563,1058 1564.6,1058 1564.6,1044.8 1566.2,1044.8 1566.2,1055.1 1567.8,1055.1 1567.8,1052.8 1569.4,1052.8 1569.4,1046.3 1571,1046.3 1571,1048.8" fill="none" stroke="#c8c2ec" stroke-width="3.4" stroke-linejoin="round"/>
<rect x="1226" y="770.3" width="345.6" height="299" fill="none" stroke="#111" stroke-width="2.8"/>
<line x1="1219.5" y1="1035.7" x2="1226" y2="1035.7" stroke="#111" stroke-width="2.2"/>
<text x="1210.5" y="1040.5" font-size="23.5" fill="#111" text-anchor="end">0</text>
<line x1="1219.5" y1="990.7" x2="1226" y2="990.7" stroke="#111" stroke-width="2.2"/>
<text x="1210.5" y="995.5" font-size="23.5" fill="#111" text-anchor="end">1</text>
<line x1="1219.5" y1="945.7" x2="1226" y2="945.7" stroke="#111" stroke-width="2.2"/>
<text x="1210.5" y="950.5" font-size="23.5" fill="#111" text-anchor="end">2</text>
<line x1="1219.5" y1="900.7" x2="1226" y2="900.7" stroke="#111" stroke-width="2.2"/>
<text x="1210.5" y="905.5" font-size="23.5" fill="#111" text-anchor="end">3</text>
<line x1="1219.5" y1="855.7" x2="1226" y2="855.7" stroke="#111" stroke-width="2.2"/>
<text x="1210.5" y="860.5" font-size="23.5" fill="#111" text-anchor="end">4</text>
<line x1="1219.5" y1="810.7" x2="1226" y2="810.7" stroke="#111" stroke-width="2.2"/>
<text x="1210.5" y="815.5" font-size="23.5" fill="#111" text-anchor="end">5</text>
<line x1="1430.6" y1="795.9" x2="1459" y2="795.9" stroke="#e05585" stroke-width="3"/>
<text x="1468" y="803.9" font-size="22" fill="#111">J1</text>
<line x1="1430.6" y1="819.4" x2="1459" y2="819.4" stroke="#5361b8" stroke-width="3"/>
<text x="1468" y="827.4" font-size="22" fill="#111">TT2</text>
<line x1="1430.6" y1="842.3" x2="1459" y2="842.3" stroke="#c9c3ee" stroke-width="3"/>
<text x="1468" y="850.3" font-size="22" fill="#111">PB14</text>
<polyline points="1637.5,1016.1 1639,1013.3 1640.5,1010.6 1642,1007.6 1643.5,1005.5 1645,1002.4 1646.5,1002.2 1648,998.6 1649.5,995.1 1651,993.6 1652.5,990.8 1654,990.6 1655.5,987.5 1657,985.8 1658.5,982.8 1660,980.5 1661.5,979.8 1663,976.9 1664.5,974.4 1666,970.4 1667.5,968.5 1669,967.8 1670.5,963.8 1672,963.2 1673.5,959.6 1675,958.6 1676.5,956.6 1678,952 1679.5,951.2 1681,948.5 1682.5,943.9 1684,941.6 1685.5,940.5 1687,936.2 1688.5,933.5 1690,928.5 1691.5,925 1693,918.4 1694.5,914.4 1696,909 1697.5,904.5 1699,901.4 1700.5,896.5 1702,892.3 1703.5,887.7 1705,883.2 1706.5,877.9 1708,872.9 1709.5,870.3 1711,864.4 1712.5,861.1 1714,857 1715.5,851.5 1717,848.3 1718.5,844.5 1720,839.9 1721.5,835.2 1723,832.7 1724.5,826.1 1726,824.5 1727.5,818.4 1729,814 1730.5,812.1 1732,807.3 1733.5,805.7 1735,802.3 1736.5,801.1 1738,798.2 1739.5,795.1 1741,790.2 1742.5,789.5 1744,785.2 1745.5,784.2 1747,784.8 1748.5,787.1 1750,787.8 1751.5,788 1753,790.2 1754.5,795.1 1756,796.5 1757.5,798.3 1759,799.5 1760.5,803 1762,802 1763.5,805.7 1765,811.2 1766.5,816.8 1768,822.2 1769.5,830 1771,835.8 1772.5,847.2 1774,858.2 1775.5,868.6 1777,879.4 1778.5,890.1 1780,900.3 1781.5,916.1 1783,933 1784.5,952.9 1786,958.3 1787.5,957.3 1789,959.9 1790.5,959.3 1792,957.4 1793.5,954.1 1795,951.2 1796.5,949.8 1798,942.9 1799.5,936.2 1801,926.3 1802.5,921 1804,911.7 1805.5,899.6 1807,890.4 1808.5,877.7 1810,866 1811.5,857.4 1813,850.1 1814.5,844.9 1816,837.1 1817.5,830.9 1819,825.8 1820.5,825.9 1822,824.1 1823.5,821.2 1825,820.2 1826.5,818.5 1828,818.5 1829.5,818.1 1831,818.1 1832.5,819.3 1834,820.4 1835.5,820.7 1837,822 1838.5,823.5 1840,824 1841.5,826.1 1843,829.1 1844.5,831.9 1846,835.8 1847.5,839.9 1849,842.9 1850.5,845.1 1852,848.1 1853.5,852.6 1855,854.6 1856.5,857.7 1858,861.1 1859.5,864.3 1861,867.3 1862.5,872.1 1864,874.9 1865.5,879.8 1867,883 1868.5,886 1870,890 1871.5,894.7 1873,896.8 1874.5,901.3 1876,905.2 1877.5,910.5 1879,912.8 1880.5,917.3 1882,920 1883.5,924.3 1885,926.6 1886.5,929.5 1888,931.6 1889.5,935.3 1891,937 1892.5,939.3 1894,941.5 1895.5,945.3 1897,946.3 1898.5,948.3 1900,950.8 1901.5,952.2 1903,954.3 1904.5,957.5 1906,959.6 1907.5,962.6 1909,964 1910.5,967.5 1912,972.4 1913.5,975.6 1915,979.3 1916.5,983 1918,988.2 1919.5,990.4 1921,992.3 1922.5,992.6 1924,993.8 1925.5,993.8 1927,993.9 1928.5,994.8 1930,995.7 1931.5,999.6 1933,1001.3 1934.5,1002.7 1936,1004.2 1937.5,1007.2 1939,1007.6 1940.5,1009.4 1942,1012.6 1943.5,1013.2 1945,1015.5 1946.5,1017.6 1948,1019 1949.5,1020.1 1951,1022.1 1952.5,1023.6 1954,1025.6 1955.5,1026 1957,1027.8 1958.5,1028.8 1960,1030.5 1961.5,1033.1 1963,1033 1964.5,1037.1 1966,1036.5 1967.5,1036.8 1969,1036.5 1970.5,1037.2 1972,1035.4 1973.5,1037.2 1975,1038.8 1976.5,1038 1978,1040.1" fill="none" stroke="#c9c3ee" stroke-width="3.4" stroke-linejoin="round"/>
<polyline points="1637.5,1042.1 1639,1038.9 1640.5,1034.1 1642,1028.9 1643.5,1025.1 1645,1022 1646.5,1020.2 1648,1019.9 1649.5,1019.9 1651,1019.8 1652.5,1017.9 1654,1017.2 1655.5,1014.4 1657,1012.1 1658.5,1010.8 1660,1009.1 1661.5,1005.4 1663,1005.5 1664.5,1003.1 1666,1000 1667.5,998 1669,997.3 1670.5,994.2 1672,991.6 1673.5,991 1675,987.1 1676.5,983.9 1678,979.9 1679.5,974.3 1681,972.1 1682.5,966.8 1684,963.1 1685.5,960.2 1687,958 1688.5,954.6 1690,954.4 1691.5,953 1693,951.8 1694.5,945.8 1696,941 1697.5,935.5 1699,928.9 1700.5,923.8 1702,916.5 1703.5,912.9 1705,909.3 1706.5,903.9 1708,899.7 1709.5,897.8 1711,892.4 1712.5,889 1714,883.3 1715.5,879.7 1717,877 1718.5,873 1720,869.2 1721.5,863 1723,860.8 1724.5,855.9 1726,852.1 1727.5,847.2 1729,842.8 1730.5,837.9 1732,835.1 1733.5,828.9 1735,825.6 1736.5,820.5 1738,817.2 1739.5,814.5 1741,811.1 1742.5,808.5 1744,806 1745.5,804.5 1747,805.7 1748.5,808 1750,808.3 1751.5,808.6 1753,809.1 1754.5,811.1 1756,813.9 1757.5,814.7 1759,811.3 1760.5,812.4 1762,814.9 1763.5,817.3 1765,820.4 1766.5,825.5 1768,831.9 1769.5,840.8 1771,848.3 1772.5,854.6 1774,865.5 1775.5,875.2 1777,883.8 1778.5,895.8 1780,903.8 1781.5,916.7 1783,930.2 1784.5,943.4 1786,954.8 1787.5,963.3 1789,957.8 1790.5,953 1792,951.2 1793.5,949.6 1795,948.4 1796.5,947.2 1798,940.5 1799.5,933.9 1801,929.8 1802.5,920.8 1804,909.7 1805.5,900.2 1807,890.9 1808.5,883 1810,875.2 1811.5,868.6 1813,862.6 1814.5,857.4 1816,853.2 1817.5,845.2 1819,844.1 1820.5,841.9 1822,840.1 1823.5,839.6 1825,840.1 1826.5,839 1828,839.6 1829.5,843.8 1831,844.8 1832.5,847.6 1834,850.5 1835.5,851.5 1837,855.3 1838.5,859.7 1840,863.5 1841.5,868.9 1843,871.8 1844.5,872.9 1846,875 1847.5,877.1 1849,881.6 1850.5,883.3 1852,886.5 1853.5,889.1 1855,892.7 1856.5,894.9 1858,899.7 1859.5,903.9 1861,905.5 1862.5,910.3 1864,912.4 1865.5,916 1867,918.3 1868.5,922.5 1870,925.7 1871.5,930 1873,932.3 1874.5,935.8 1876,937.1 1877.5,940.4 1879,944.1 1880.5,946.5 1882,948.8 1883.5,950.5 1885,954.4 1886.5,955.1 1888,957.3 1889.5,960.9 1891,961.4 1892.5,965 1894,967 1895.5,967.9 1897,970.8 1898.5,970.9 1900,973.8 1901.5,976 1903,976.6 1904.5,980.5 1906,980.5 1907.5,984.1 1909,986.6 1910.5,987.8 1912,991.9 1913.5,996.4 1915,1000 1916.5,1001.1 1918,1005.2 1919.5,1008.2 1921,1011.4 1922.5,1010.8 1924,1012.3 1925.5,1013.3 1927,1013.8 1928.5,1013.8 1930,1015.9 1931.5,1018.3 1933,1021.5 1934.5,1022.2 1936,1025.1 1937.5,1026.8 1939,1029.6 1940.5,1030.3 1942,1033 1943.5,1034.7 1945,1036.6 1946.5,1038 1948,1040.7 1949.5,1042.2 1951,1042.8 1952.5,1042.8 1954,1043.6 1955.5,1041.8 1957,1044.5 1958.5,1045.3 1960,1048.9 1961.5,1049.2 1963,1049.6 1964.5,1051.9 1966,1053 1967.5,1053 1969,1054.1 1970.5,1054.1 1972,1054.2 1973.5,1054.9 1975,1056.1 1976.5,1056 1978,1059.2" fill="none" stroke="#e8508a" stroke-width="3.4" stroke-linejoin="round"/>
<polyline points="1637.5,1039.6 1639,1035.8 1640.5,1031.9 1642,1027.4 1643.5,1023.4 1645,1018.6 1646.5,1019 1648,1015.9 1649.5,1016.6 1651,1014.4 1652.5,1014.3 1654,1013.6 1655.5,1012.4 1657,1008.9 1658.5,1008.8 1660,1005 1661.5,1003.7 1663,1000.4 1664.5,998.1 1666,997.7 1667.5,995.8 1669,994.4 1670.5,991.9 1672,990.5 1673.5,987.7 1675,982.4 1676.5,980.2 1678,976.6 1679.5,972.4 1681,969.1 1682.5,964.1 1684,960.4 1685.5,958 1687,954.8 1688.5,952.1 1690,949.9 1691.5,949.2 1693,948.2 1694.5,942.5 1696,939 1697.5,932.8 1699,924.8 1700.5,919.7 1702,914.8 1703.5,909.4 1705,904.1 1706.5,901.3 1708,897.7 1709.5,894.3 1711,890.3 1712.5,884.1 1714,881.2 1715.5,876 1717,874.3 1718.5,869.7 1720,866.2 1721.5,861.3 1723,858.1 1724.5,853.6 1726,849 1727.5,844.8 1729,841 1730.5,836.5 1732,829.6 1733.5,827.1 1735,821.8 1736.5,817.6 1738,813.4 1739.5,811.8 1741,808.4 1742.5,806.1 1744,802.2 1745.5,800.7 1747,802.4 1748.5,802.6 1750,805.1 1751.5,806.5 1753,806.8 1754.5,808.9 1756,810.5 1757.5,810.5 1759,808.5 1760.5,808.3 1762,810.7 1763.5,815.1 1765,817.6 1766.5,821.3 1768,830.4 1769.5,838.2 1771,845.2 1772.5,853.3 1774,860.7 1775.5,870.5 1777,881.9 1778.5,892.3 1780,902.5 1781.5,913.1 1783,924.6 1784.5,934.8 1786,945.5 1787.5,954.8 1789,952.8 1790.5,949.1 1792,949.2 1793.5,947.1 1795,945.2 1796.5,943.3 1798,938.5 1799.5,931.7 1801,925.9 1802.5,916.2 1804,907.1 1805.5,896.6 1807,887.7 1808.5,877.8 1810,871.5 1811.5,865.1 1813,857.3 1814.5,851 1816,843.4 1817.5,837.2 1819,834.3 1820.5,834.4 1822,831.9 1823.5,831.9 1825,831.5 1826.5,831 1828,833 1829.5,835 1831,836.1 1832.5,839.4 1834,842.2 1835.5,842.5 1837,845.4 1838.5,851.3 1840,855.9 1841.5,860.2 1843,863.1 1844.5,865.1 1846,868.2 1847.5,872.5 1849,876.8 1850.5,879.6 1852,883.1 1853.5,886.5 1855,890.7 1856.5,892.5 1858,895.2 1859.5,898.8 1861,903.8 1862.5,906 1864,910.3 1865.5,912.2 1867,916.2 1868.5,918.2 1870,922 1871.5,927.1 1873,929.7 1874.5,930.8 1876,934.6 1877.5,937.4 1879,940 1880.5,941.8 1882,944 1883.5,947.8 1885,949 1886.5,952.1 1888,955.5 1889.5,955.7 1891,958.8 1892.5,961.8 1894,961.5 1895.5,966.1 1897,966.6 1898.5,968.7 1900,969.4 1901.5,972.6 1903,974.9 1904.5,976.5 1906,978.6 1907.5,979.5 1909,982.8 1910.5,985.1 1912,989.7 1913.5,992.8 1915,996.4 1916.5,997.8 1918,1001.5 1919.5,1004.8 1921,1006.8 1922.5,1008.1 1924,1009.5 1925.5,1008.5 1927,1010.1 1928.5,1012 1930,1013.1 1931.5,1015.8 1933,1016.7 1934.5,1018.7 1936,1023 1937.5,1023.5 1939,1026.6 1940.5,1027.5 1942,1028.8 1943.5,1031.3 1945,1032.7 1946.5,1035.6 1948,1038.4 1949.5,1037.8 1951,1038.1 1952.5,1039.5 1954,1039.4 1955.5,1040 1957,1042.4 1958.5,1043.2 1960,1044.6 1961.5,1045.9 1963,1046.8 1964.5,1049.2 1966,1048.2 1967.5,1048.8 1969,1048.6 1970.5,1049.4 1972,1049.6 1973.5,1051.2 1975,1051.7 1976.5,1054.1 1978,1054.8" fill="none" stroke="#5361b8" stroke-width="3.4" stroke-linejoin="round"/>
<rect x="1636" y="771.4" width="344.3" height="297.8" fill="none" stroke="#111" stroke-width="2.8"/>
<line x1="1629.5" y1="807.9" x2="1636" y2="807.9" stroke="#111" stroke-width="2.2"/>
<text x="1621.5" y="817.5" font-size="23.5" fill="#111" text-anchor="end">5</text>
<line x1="1629.5" y1="873.7" x2="1636" y2="873.7" stroke="#111" stroke-width="2.2"/>
<text x="1618.5" y="883.3" font-size="23.5" fill="#111" text-anchor="end">4</text>
<line x1="1629.5" y1="939.5" x2="1636" y2="939.5" stroke="#111" stroke-width="2.2"/>
<text x="1621.5" y="949.1" font-size="23.5" fill="#111" text-anchor="end">3</text>
<line x1="1629.5" y1="1005.3" x2="1636" y2="1005.3" stroke="#111" stroke-width="2.2"/>
<text x="1621.5" y="1014.9" font-size="23.5" fill="#111" text-anchor="end">2</text>
<rect x="1227.5" y="1134.2" width="342.9" height="226.4" fill="#faf9fc"/>
<rect x="0" y="0" width="342.9" height="226.4" fill="url(#hn21)" transform="translate(1227.5 1134.2)"/>
<rect x="1265.2" y="1134.2" width="3.7" height="14.4" fill="#dadaeb"/>
<rect x="1268.6" y="1134.2" width="7.2" height="14.4" fill="#bcbddc"/>
<rect x="1278.9" y="1134.2" width="3.7" height="14.4" fill="#4a1486"/>
<rect x="1282.4" y="1134.2" width="3.7" height="14.4" fill="#54278f"/>
<rect x="1285.8" y="1134.2" width="7.2" height="14.4" fill="#3f007d"/>
<rect x="1292.7" y="1134.2" width="7.2" height="14.4" fill="#4a1486"/>
<rect x="1299.5" y="1134.2" width="10.6" height="14.4" fill="#54278f"/>
<rect x="1309.8" y="1134.2" width="3.7" height="14.4" fill="#4a1486"/>
<rect x="1313.2" y="1134.2" width="3.7" height="14.4" fill="#54278f"/>
<rect x="1316.7" y="1134.2" width="3.7" height="14.4" fill="#3f007d"/>
<rect x="1320.1" y="1134.2" width="10.6" height="14.4" fill="#54278f"/>
<rect x="1330.4" y="1134.2" width="3.7" height="14.4" fill="#3f007d"/>
<rect x="1333.8" y="1134.2" width="3.7" height="14.4" fill="#4a1486"/>
<rect x="1337.2" y="1134.2" width="3.7" height="14.4" fill="#3f007d"/>
<rect x="1340.7" y="1134.2" width="3.7" height="14.4" fill="#4a1486"/>
<rect x="1347.5" y="1134.2" width="3.7" height="14.4" fill="#efedf5"/>
<rect x="1350.9" y="1134.2" width="7.2" height="14.4" fill="#e4e4f0"/>
<rect x="1357.8" y="1134.2" width="3.7" height="14.4" fill="#efedf5"/>
<rect x="1361.2" y="1134.2" width="3.7" height="14.4" fill="#cbcce4"/>
<rect x="1364.7" y="1134.2" width="3.7" height="14.4" fill="#e4e4f0"/>
<rect x="1368.1" y="1134.2" width="3.7" height="14.4" fill="#efedf5"/>
<rect x="1371.5" y="1134.2" width="3.7" height="14.4" fill="#dadaeb"/>
<rect x="1374.9" y="1134.2" width="3.7" height="14.4" fill="#efedf5"/>
<rect x="1378.4" y="1134.2" width="3.7" height="14.4" fill="#cbcce4"/>
<rect x="1381.8" y="1134.2" width="7.2" height="14.4" fill="#e4e4f0"/>
<rect x="1388.7" y="1134.2" width="3.7" height="14.4" fill="#efedf5"/>
<rect x="1392.1" y="1134.2" width="3.7" height="14.4" fill="#e4e4f0"/>
<rect x="1395.5" y="1134.2" width="7.2" height="14.4" fill="#efedf5"/>
<rect x="1402.4" y="1134.2" width="3.7" height="14.4" fill="#dadaeb"/>
<rect x="1405.8" y="1134.2" width="3.7" height="14.4" fill="#efedf5"/>
<rect x="1409.2" y="1134.2" width="3.7" height="14.4" fill="#e4e4f0"/>
<rect x="1412.7" y="1134.2" width="3.7" height="14.4" fill="#efedf5"/>
<rect x="1481.2" y="1134.2" width="3.7" height="14.4" fill="#adacd2"/>
<rect x="1484.7" y="1134.2" width="10.6" height="14.4" fill="#bcbddc"/>
<rect x="1495" y="1134.2" width="3.7" height="14.4" fill="#cbcce4"/>
<rect x="1498.4" y="1134.2" width="3.7" height="14.4" fill="#bcbddc"/>
<rect x="1333.8" y="1148.4" width="3.7" height="14.4" fill="#54278f"/>
<rect x="1337.2" y="1148.4" width="3.7" height="14.4" fill="#4a1486"/>
<rect x="1340.7" y="1148.4" width="3.7" height="14.4" fill="#3f007d"/>
<rect x="1344.1" y="1148.4" width="3.7" height="14.4" fill="#54278f"/>
<rect x="1354.4" y="1148.4" width="7.2" height="14.4" fill="#4a1486"/>
<rect x="1361.2" y="1148.4" width="14" height="14.4" fill="#54278f"/>
<rect x="1374.9" y="1148.4" width="3.7" height="14.4" fill="#8f8cc1"/>
<rect x="1378.4" y="1148.4" width="3.7" height="14.4" fill="#cbcce4"/>
<rect x="1381.8" y="1148.4" width="7.2" height="14.4" fill="#efedf5"/>
<rect x="1388.7" y="1148.4" width="3.7" height="14.4" fill="#e4e4f0"/>
<rect x="1392.1" y="1148.4" width="3.7" height="14.4" fill="#dadaeb"/>
<rect x="1395.5" y="1148.4" width="14" height="14.4" fill="#e4e4f0"/>
<rect x="1409.2" y="1148.4" width="3.7" height="14.4" fill="#efedf5"/>
<rect x="1412.7" y="1148.4" width="3.7" height="14.4" fill="#e4e4f0"/>
<rect x="1292.7" y="1162.5" width="3.7" height="14.4" fill="#cbcce4"/>
<rect x="1227.5" y="1176.7" width="3.7" height="14.4" fill="#bcbddc"/>
<rect x="1230.9" y="1176.7" width="7.2" height="14.4" fill="#5f3c99"/>
<rect x="1237.8" y="1176.7" width="3.7" height="14.4" fill="#54278f"/>
<rect x="1241.2" y="1176.7" width="3.7" height="14.4" fill="#4a1486"/>
<rect x="1330.4" y="1176.7" width="3.7" height="14.4" fill="#cbcce4"/>
<rect x="1333.8" y="1176.7" width="3.7" height="14.4" fill="#bcbddc"/>
<rect x="1337.2" y="1176.7" width="3.7" height="14.4" fill="#7567ae"/>
<rect x="1350.9" y="1176.7" width="7.2" height="14.4" fill="#e4e4f0"/>
<rect x="1357.8" y="1176.7" width="7.2" height="14.4" fill="#adacd2"/>
<rect x="1364.7" y="1176.7" width="10.6" height="14.4" fill="#e4e4f0"/>
<rect x="1254.9" y="1190.8" width="7.2" height="14.4" fill="#9e9ac8"/>
<rect x="1261.8" y="1190.8" width="3.7" height="14.4" fill="#cbcce4"/>
<rect x="1265.2" y="1190.8" width="3.7" height="14.4" fill="#8f8cc1"/>
<rect x="1268.6" y="1190.8" width="3.7" height="14.4" fill="#9e9ac8"/>
<rect x="1272.1" y="1190.8" width="3.7" height="14.4" fill="#4a1486"/>
<rect x="1275.5" y="1190.8" width="3.7" height="14.4" fill="#3f007d"/>
<rect x="1278.9" y="1190.8" width="7.2" height="14.4" fill="#4a1486"/>
<rect x="1378.4" y="1190.8" width="3.7" height="14.4" fill="#efedf5"/>
<rect x="1381.8" y="1190.8" width="3.7" height="14.4" fill="#e4e4f0"/>
<rect x="1385.2" y="1190.8" width="7.2" height="14.4" fill="#f6f4f9"/>
<rect x="1392.1" y="1190.8" width="3.7" height="14.4" fill="#e4e4f0"/>
<rect x="1395.5" y="1190.8" width="7.2" height="14.4" fill="#efedf5"/>
<rect x="1402.4" y="1190.8" width="3.7" height="14.4" fill="#e4e4f0"/>
<rect x="1405.8" y="1190.8" width="3.7" height="14.4" fill="#f6f4f9"/>
<rect x="1409.2" y="1190.8" width="7.2" height="14.4" fill="#efedf5"/>
<rect x="1330.4" y="1219.1" width="3.7" height="14.4" fill="#dadaeb"/>
<rect x="1333.8" y="1219.1" width="7.2" height="14.4" fill="#e4e4f0"/>
<rect x="1340.7" y="1219.1" width="3.7" height="14.4" fill="#54278f"/>
<rect x="1344.1" y="1219.1" width="3.7" height="14.4" fill="#bcbddc"/>
<rect x="1347.5" y="1219.1" width="3.7" height="14.4" fill="#adacd2"/>
<rect x="1368.1" y="1219.1" width="3.7" height="14.4" fill="#807dba"/>
<rect x="1399" y="1219.1" width="3.7" height="14.4" fill="#efedf5"/>
<rect x="1402.4" y="1219.1" width="3.7" height="14.4" fill="#e4e4f0"/>
<rect x="1405.8" y="1219.1" width="3.7" height="14.4" fill="#efedf5"/>
<rect x="1409.2" y="1219.1" width="3.7" height="14.4" fill="#e4e4f0"/>
<rect x="1412.7" y="1219.1" width="3.7" height="14.4" fill="#f6f4f9"/>
<rect x="1416.1" y="1219.1" width="3.7" height="14.4" fill="#efedf5"/>
<rect x="1241.2" y="1233.2" width="3.7" height="14.4" fill="#8f8cc1"/>
<rect x="1244.6" y="1233.2" width="3.7" height="14.4" fill="#9e9ac8"/>
<rect x="1248.1" y="1233.2" width="3.7" height="14.4" fill="#8f8cc1"/>
<rect x="1254.9" y="1233.2" width="10.6" height="14.4" fill="#bcbddc"/>
<rect x="1357.8" y="1247.4" width="3.7" height="14.4" fill="#cbcce4"/>
<rect x="1361.2" y="1247.4" width="3.7" height="14.4" fill="#e4e4f0"/>
<rect x="1364.7" y="1247.4" width="3.7" height="14.4" fill="#dadaeb"/>
<rect x="1368.1" y="1247.4" width="3.7" height="14.4" fill="#e4e4f0"/>
<rect x="1371.5" y="1247.4" width="3.7" height="14.4" fill="#cbcce4"/>
<rect x="1374.9" y="1247.4" width="3.7" height="14.4" fill="#efedf5"/>
<rect x="1378.4" y="1247.4" width="3.7" height="14.4" fill="#cbcce4"/>
<rect x="1381.8" y="1247.4" width="3.7" height="14.4" fill="#bcbddc"/>
<rect x="1385.2" y="1247.4" width="3.7" height="14.4" fill="#efedf5"/>
<rect x="1392.1" y="1247.4" width="14" height="14.4" fill="#dadaeb"/>
<rect x="1226" y="1402.5" width="348.5" height="238" fill="#faf9fc"/>
<rect x="0" y="0" width="348.5" height="238" fill="url(#hn22)" transform="translate(1226 1402.5)"/>
<rect x="1274.8" y="1402.5" width="3.8" height="15.2" fill="#9e9ac8"/>
<rect x="1278.3" y="1402.5" width="3.8" height="15.2" fill="#dadaeb"/>
<rect x="1281.8" y="1402.5" width="3.8" height="15.2" fill="#e4e4f0"/>
<rect x="1285.2" y="1402.5" width="3.8" height="15.2" fill="#3f007d"/>
<rect x="1288.7" y="1402.5" width="7.3" height="15.2" fill="#54278f"/>
<rect x="1295.7" y="1402.5" width="3.8" height="15.2" fill="#4a1486"/>
<rect x="1299.2" y="1402.5" width="3.8" height="15.2" fill="#54278f"/>
<rect x="1302.7" y="1402.5" width="3.8" height="15.2" fill="#3f007d"/>
<rect x="1306.2" y="1402.5" width="3.8" height="15.2" fill="#54278f"/>
<rect x="1309.6" y="1402.5" width="3.8" height="15.2" fill="#3f007d"/>
<rect x="1313.1" y="1402.5" width="3.8" height="15.2" fill="#54278f"/>
<rect x="1316.6" y="1402.5" width="3.8" height="15.2" fill="#4a1486"/>
<rect x="1320.1" y="1402.5" width="3.8" height="15.2" fill="#3f007d"/>
<rect x="1323.6" y="1402.5" width="3.8" height="15.2" fill="#4a1486"/>
<rect x="1327.1" y="1402.5" width="3.8" height="15.2" fill="#3f007d"/>
<rect x="1330.5" y="1417.4" width="3.8" height="15.2" fill="#4a1486"/>
<rect x="1334" y="1417.4" width="3.8" height="15.2" fill="#54278f"/>
<rect x="1337.5" y="1417.4" width="3.8" height="15.2" fill="#3f007d"/>
<rect x="1341" y="1417.4" width="3.8" height="15.2" fill="#4a1486"/>
<rect x="1351.5" y="1417.4" width="7.3" height="15.2" fill="#54278f"/>
<rect x="1358.4" y="1417.4" width="3.8" height="15.2" fill="#3f007d"/>
<rect x="1361.9" y="1417.4" width="3.8" height="15.2" fill="#4a1486"/>
<rect x="1365.4" y="1417.4" width="3.8" height="15.2" fill="#3f007d"/>
<rect x="1368.9" y="1417.4" width="3.8" height="15.2" fill="#4a1486"/>
<rect x="1372.4" y="1417.4" width="3.8" height="15.2" fill="#9e9ac8"/>
<rect x="1375.9" y="1417.4" width="3.8" height="15.2" fill="#bcbddc"/>
<rect x="1379.3" y="1417.4" width="7.3" height="15.2" fill="#e4e4f0"/>
<rect x="1386.3" y="1417.4" width="3.8" height="15.2" fill="#efedf5"/>
<rect x="1389.8" y="1417.4" width="3.8" height="15.2" fill="#dadaeb"/>
<rect x="1393.3" y="1417.4" width="3.8" height="15.2" fill="#efedf5"/>
<rect x="1396.8" y="1417.4" width="3.8" height="15.2" fill="#e4e4f0"/>
<rect x="1400.2" y="1417.4" width="3.8" height="15.2" fill="#dadaeb"/>
<rect x="1403.7" y="1417.4" width="3.8" height="15.2" fill="#e4e4f0"/>
<rect x="1407.2" y="1417.4" width="3.8" height="15.2" fill="#efedf5"/>
<rect x="1271.3" y="1432.2" width="3.8" height="15.2" fill="#9e9ac8"/>
<rect x="1274.8" y="1432.2" width="3.8" height="15.2" fill="#adacd2"/>
<rect x="1278.3" y="1432.2" width="7.3" height="15.2" fill="#dadaeb"/>
<rect x="1285.2" y="1432.2" width="3.8" height="15.2" fill="#adacd2"/>
<rect x="1288.7" y="1432.2" width="3.8" height="15.2" fill="#8f8cc1"/>
<rect x="1292.2" y="1432.2" width="3.8" height="15.2" fill="#9e9ac8"/>
<rect x="1295.7" y="1432.2" width="7.3" height="15.2" fill="#bcbddc"/>
<rect x="1302.7" y="1432.2" width="3.8" height="15.2" fill="#cbcce4"/>
<rect x="1306.2" y="1432.2" width="3.8" height="15.2" fill="#adacd2"/>
<rect x="1309.6" y="1432.2" width="3.8" height="15.2" fill="#9e9ac8"/>
<rect x="1313.1" y="1432.2" width="3.8" height="15.2" fill="#cbcce4"/>
<rect x="1379.3" y="1432.2" width="3.8" height="15.2" fill="#e4e4f0"/>
<rect x="1382.8" y="1432.2" width="7.3" height="15.2" fill="#efedf5"/>
<rect x="1389.8" y="1432.2" width="3.8" height="15.2" fill="#e4e4f0"/>
<rect x="1393.3" y="1432.2" width="3.8" height="15.2" fill="#efedf5"/>
<rect x="1396.8" y="1432.2" width="3.8" height="15.2" fill="#f6f4f9"/>
<rect x="1400.2" y="1432.2" width="3.8" height="15.2" fill="#e4e4f0"/>
<rect x="1403.7" y="1432.2" width="10.8" height="15.2" fill="#efedf5"/>
<rect x="1414.2" y="1432.2" width="7.3" height="15.2" fill="#e4e4f0"/>
<rect x="1421.2" y="1432.2" width="10.8" height="15.2" fill="#efedf5"/>
<rect x="1431.6" y="1432.2" width="3.8" height="15.2" fill="#e4e4f0"/>
<rect x="1435.1" y="1432.2" width="21.2" height="15.2" fill="#efedf5"/>
<rect x="1456" y="1432.2" width="3.8" height="15.2" fill="#f6f4f9"/>
<rect x="1459.5" y="1432.2" width="3.8" height="15.2" fill="#efedf5"/>
<rect x="1463" y="1432.2" width="3.8" height="15.2" fill="#adacd2"/>
<rect x="1466.5" y="1432.2" width="3.8" height="15.2" fill="#dadaeb"/>
<rect x="1470" y="1432.2" width="7.3" height="15.2" fill="#e4e4f0"/>
<rect x="1476.9" y="1432.2" width="3.8" height="15.2" fill="#f6f4f9"/>
<rect x="1480.4" y="1432.2" width="3.8" height="15.2" fill="#efedf5"/>
<rect x="1483.9" y="1432.2" width="7.3" height="15.2" fill="#e4e4f0"/>
<rect x="1490.9" y="1432.2" width="3.8" height="15.2" fill="#efedf5"/>
<rect x="1494.3" y="1432.2" width="3.8" height="15.2" fill="#e4e4f0"/>
<rect x="1497.8" y="1432.2" width="7.3" height="15.2" fill="#efedf5"/>
<rect x="1504.8" y="1432.2" width="10.8" height="15.2" fill="#e4e4f0"/>
<rect x="1515.3" y="1432.2" width="3.8" height="15.2" fill="#efedf5"/>
<rect x="1518.7" y="1432.2" width="7.3" height="15.2" fill="#e4e4f0"/>
<rect x="1525.7" y="1432.2" width="3.8" height="15.2" fill="#efedf5"/>
<rect x="1529.2" y="1432.2" width="14.2" height="15.2" fill="#e4e4f0"/>
<rect x="1543.1" y="1432.2" width="3.8" height="15.2" fill="#f6f4f9"/>
<rect x="1546.6" y="1432.2" width="3.8" height="15.2" fill="#efedf5"/>
<rect x="1550.1" y="1432.2" width="3.8" height="15.2" fill="#e4e4f0"/>
<rect x="1553.6" y="1432.2" width="7.3" height="15.2" fill="#efedf5"/>
<rect x="1560.6" y="1432.2" width="3.8" height="15.2" fill="#e4e4f0"/>
<rect x="1564" y="1432.2" width="7.3" height="15.2" fill="#efedf5"/>
<rect x="1571" y="1432.2" width="3.8" height="15.2" fill="#f6f4f9"/>
<rect x="1226" y="1447.1" width="3.8" height="15.2" fill="#5f3c99"/>
<rect x="1229.5" y="1447.1" width="3.8" height="15.2" fill="#54278f"/>
<rect x="1233" y="1447.1" width="3.8" height="15.2" fill="#4a1486"/>
<rect x="1236.5" y="1447.1" width="3.8" height="15.2" fill="#5f3c99"/>
<rect x="1239.9" y="1447.1" width="3.8" height="15.2" fill="#efedf5"/>
<rect x="1243.4" y="1447.1" width="3.8" height="15.2" fill="#f6f4f9"/>
<rect x="1246.9" y="1447.1" width="3.8" height="15.2" fill="#efedf5"/>
<rect x="1250.4" y="1447.1" width="3.8" height="15.2" fill="#f6f4f9"/>
<rect x="1253.9" y="1447.1" width="7.3" height="15.2" fill="#efedf5"/>
<rect x="1260.8" y="1447.1" width="7.3" height="15.2" fill="#e4e4f0"/>
<rect x="1267.8" y="1447.1" width="3.8" height="15.2" fill="#f6f4f9"/>
<rect x="1271.3" y="1447.1" width="3.8" height="15.2" fill="#efedf5"/>
<rect x="1337.5" y="1447.1" width="3.8" height="15.2" fill="#dadaeb"/>
<rect x="1341" y="1447.1" width="7.3" height="15.2" fill="#efedf5"/>
<rect x="1348" y="1447.1" width="7.3" height="15.2" fill="#e4e4f0"/>
<rect x="1354.9" y="1447.1" width="7.3" height="15.2" fill="#dadaeb"/>
<rect x="1361.9" y="1447.1" width="7.3" height="15.2" fill="#e4e4f0"/>
<rect x="1368.9" y="1447.1" width="3.8" height="15.2" fill="#efedf5"/>
<rect x="1246.9" y="1462" width="3.8" height="15.2" fill="#cbcce4"/>
<rect x="1250.4" y="1462" width="3.8" height="15.2" fill="#dadaeb"/>
<rect x="1253.9" y="1462" width="3.8" height="15.2" fill="#9e9ac8"/>
<rect x="1257.4" y="1462" width="3.8" height="15.2" fill="#cbcce4"/>
<rect x="1260.8" y="1462" width="3.8" height="15.2" fill="#8f8cc1"/>
<rect x="1264.3" y="1462" width="3.8" height="15.2" fill="#adacd2"/>
<rect x="1267.8" y="1462" width="3.8" height="15.2" fill="#dadaeb"/>
<rect x="1271.3" y="1462" width="7.3" height="15.2" fill="#4a1486"/>
<rect x="1278.3" y="1462" width="3.8" height="15.2" fill="#54278f"/>
<rect x="1375.9" y="1462" width="3.8" height="15.2" fill="#e4e4f0"/>
<rect x="1379.3" y="1462" width="3.8" height="15.2" fill="#efedf5"/>
<rect x="1382.8" y="1462" width="3.8" height="15.2" fill="#e4e4f0"/>
<rect x="1386.3" y="1462" width="3.8" height="15.2" fill="#f6f4f9"/>
<rect x="1389.8" y="1462" width="3.8" height="15.2" fill="#e4e4f0"/>
<rect x="1330.5" y="1491.8" width="3.8" height="15.2" fill="#bcbddc"/>
<rect x="1334" y="1491.8" width="3.8" height="15.2" fill="#cbcce4"/>
<rect x="1337.5" y="1491.8" width="3.8" height="15.2" fill="#e4e4f0"/>
<rect x="1341" y="1491.8" width="3.8" height="15.2" fill="#dadaeb"/>
<rect x="1344.5" y="1491.8" width="7.3" height="15.2" fill="#e4e4f0"/>
<rect x="1351.5" y="1491.8" width="7.3" height="15.2" fill="#cbcce4"/>
<rect x="1358.4" y="1491.8" width="3.8" height="15.2" fill="#efedf5"/>
<rect x="1361.9" y="1491.8" width="7.3" height="15.2" fill="#dadaeb"/>
<rect x="1368.9" y="1491.8" width="3.8" height="15.2" fill="#e4e4f0"/>
<rect x="1372.4" y="1491.8" width="3.8" height="15.2" fill="#cbcce4"/>
<rect x="1361.9" y="1521.5" width="3.8" height="15.2" fill="#dadaeb"/>
<rect x="1365.4" y="1521.5" width="3.8" height="15.2" fill="#e4e4f0"/>
<rect x="1368.9" y="1521.5" width="3.8" height="15.2" fill="#efedf5"/>
<rect x="1372.4" y="1521.5" width="7.3" height="15.2" fill="#e4e4f0"/>
<rect x="1379.3" y="1521.5" width="10.8" height="15.2" fill="#efedf5"/>
<rect x="1389.8" y="1521.5" width="14.2" height="15.2" fill="#e4e4f0"/>
<rect x="1403.7" y="1521.5" width="3.8" height="15.2" fill="#dadaeb"/>
<rect x="1407.2" y="1521.5" width="3.8" height="15.2" fill="#efedf5"/>
<rect x="1421.2" y="1521.5" width="3.8" height="15.2" fill="#e4e4f0"/>
<rect x="1424.6" y="1521.5" width="7.3" height="15.2" fill="#dadaeb"/>
<rect x="1431.6" y="1521.5" width="3.8" height="15.2" fill="#e4e4f0"/>
<rect x="1435.1" y="1521.5" width="3.8" height="15.2" fill="#dadaeb"/>
<rect x="1438.6" y="1521.5" width="10.8" height="15.2" fill="#efedf5"/>
<rect x="1449" y="1521.5" width="3.8" height="15.2" fill="#e4e4f0"/>
<rect x="1463" y="1521.5" width="3.8" height="15.2" fill="#dadaeb"/>
<rect x="1466.5" y="1521.5" width="3.8" height="15.2" fill="#cbcce4"/>
<rect x="1470" y="1521.5" width="3.8" height="15.2" fill="#adacd2"/>
<rect x="1473.4" y="1521.5" width="3.8" height="15.2" fill="#e4e4f0"/>
<rect x="1476.9" y="1521.5" width="3.8" height="15.2" fill="#cbcce4"/>
<rect x="1480.4" y="1521.5" width="3.8" height="15.2" fill="#adacd2"/>
<rect x="1483.9" y="1521.5" width="7.3" height="15.2" fill="#cbcce4"/>
<rect x="1490.9" y="1521.5" width="3.8" height="15.2" fill="#bcbddc"/>
<rect x="1226" y="1675.3" width="348.5" height="222.9" fill="#faf9fc"/>
<rect x="0" y="0" width="348.5" height="222.9" fill="url(#hn23)" transform="translate(1226 1675.3)"/>
<rect x="1281.8" y="1675.3" width="10.8" height="14.2" fill="#3f007d"/>
<rect x="1292.2" y="1675.3" width="3.8" height="14.2" fill="#54278f"/>
<rect x="1295.7" y="1675.3" width="10.8" height="14.2" fill="#4a1486"/>
<rect x="1306.2" y="1675.3" width="7.3" height="14.2" fill="#54278f"/>
<rect x="1313.1" y="1675.3" width="3.8" height="14.2" fill="#4a1486"/>
<rect x="1316.6" y="1675.3" width="3.8" height="14.2" fill="#54278f"/>
<rect x="1320.1" y="1675.3" width="3.8" height="14.2" fill="#4a1486"/>
<rect x="1323.6" y="1675.3" width="7.3" height="14.2" fill="#54278f"/>
<rect x="1330.5" y="1675.3" width="14.2" height="14.2" fill="#4a1486"/>
<rect x="1334" y="1689.2" width="7.3" height="14.2" fill="#54278f"/>
<rect x="1341" y="1689.2" width="7.3" height="14.2" fill="#4a1486"/>
<rect x="1354.9" y="1689.2" width="7.3" height="14.2" fill="#4a1486"/>
<rect x="1361.9" y="1689.2" width="3.8" height="14.2" fill="#3f007d"/>
<rect x="1365.4" y="1689.2" width="3.8" height="14.2" fill="#54278f"/>
<rect x="1368.9" y="1689.2" width="3.8" height="14.2" fill="#4a1486"/>
<rect x="1372.4" y="1689.2" width="3.8" height="14.2" fill="#54278f"/>
<rect x="1375.9" y="1689.2" width="3.8" height="14.2" fill="#4a1486"/>
<rect x="1288.7" y="1703.2" width="3.8" height="14.2" fill="#dadaeb"/>
<rect x="1292.2" y="1703.2" width="3.8" height="14.2" fill="#e4e4f0"/>
<rect x="1295.7" y="1703.2" width="3.8" height="14.2" fill="#efedf5"/>
<rect x="1299.2" y="1703.2" width="3.8" height="14.2" fill="#e4e4f0"/>
<rect x="1302.7" y="1703.2" width="7.3" height="14.2" fill="#dadaeb"/>
<rect x="1309.6" y="1703.2" width="3.8" height="14.2" fill="#e4e4f0"/>
<rect x="1313.1" y="1703.2" width="3.8" height="14.2" fill="#dadaeb"/>
<rect x="1389.8" y="1703.2" width="10.8" height="14.2" fill="#54278f"/>
<rect x="1400.2" y="1703.2" width="3.8" height="14.2" fill="#3f007d"/>
<rect x="1403.7" y="1703.2" width="17.7" height="14.2" fill="#54278f"/>
<rect x="1421.2" y="1703.2" width="3.8" height="14.2" fill="#4a1486"/>
<rect x="1424.6" y="1703.2" width="3.8" height="14.2" fill="#adacd2"/>
<rect x="1428.1" y="1703.2" width="3.8" height="14.2" fill="#dadaeb"/>
<rect x="1431.6" y="1703.2" width="3.8" height="14.2" fill="#cbcce4"/>
<rect x="1435.1" y="1703.2" width="7.3" height="14.2" fill="#dadaeb"/>
<rect x="1442.1" y="1703.2" width="3.8" height="14.2" fill="#adacd2"/>
<rect x="1445.6" y="1703.2" width="3.8" height="14.2" fill="#bcbddc"/>
<rect x="1449" y="1703.2" width="3.8" height="14.2" fill="#dadaeb"/>
<rect x="1452.5" y="1703.2" width="3.8" height="14.2" fill="#e4e4f0"/>
<rect x="1456" y="1703.2" width="3.8" height="14.2" fill="#adacd2"/>
<rect x="1459.5" y="1703.2" width="3.8" height="14.2" fill="#bcbddc"/>
<rect x="1463" y="1703.2" width="3.8" height="14.2" fill="#adacd2"/>
<rect x="1466.5" y="1703.2" width="3.8" height="14.2" fill="#dadaeb"/>
<rect x="1470" y="1703.2" width="3.8" height="14.2" fill="#cbcce4"/>
<rect x="1473.4" y="1703.2" width="3.8" height="14.2" fill="#adacd2"/>
<rect x="1476.9" y="1703.2" width="3.8" height="14.2" fill="#bcbddc"/>
<rect x="1480.4" y="1703.2" width="3.8" height="14.2" fill="#adacd2"/>
<rect x="1483.9" y="1703.2" width="3.8" height="14.2" fill="#dadaeb"/>
<rect x="1487.4" y="1703.2" width="3.8" height="14.2" fill="#9e9ac8"/>
<rect x="1490.9" y="1703.2" width="3.8" height="14.2" fill="#e4e4f0"/>
<rect x="1494.3" y="1703.2" width="3.8" height="14.2" fill="#cbcce4"/>
<rect x="1497.8" y="1703.2" width="3.8" height="14.2" fill="#e4e4f0"/>
<rect x="1233" y="1717.1" width="3.8" height="14.2" fill="#4a1486"/>
<rect x="1236.5" y="1717.1" width="3.8" height="14.2" fill="#54278f"/>
<rect x="1239.9" y="1717.1" width="7.3" height="14.2" fill="#4a1486"/>
<rect x="1246.9" y="1717.1" width="3.8" height="14.2" fill="#adacd2"/>
<rect x="1250.4" y="1717.1" width="3.8" height="14.2" fill="#cbcce4"/>
<rect x="1253.9" y="1717.1" width="3.8" height="14.2" fill="#adacd2"/>
<rect x="1257.4" y="1717.1" width="3.8" height="14.2" fill="#bcbddc"/>
<rect x="1260.8" y="1717.1" width="3.8" height="14.2" fill="#dadaeb"/>
<rect x="1330.5" y="1717.1" width="3.8" height="14.2" fill="#9e9ac8"/>
<rect x="1334" y="1717.1" width="3.8" height="14.2" fill="#cbcce4"/>
<rect x="1337.5" y="1717.1" width="3.8" height="14.2" fill="#dadaeb"/>
<rect x="1341" y="1717.1" width="3.8" height="14.2" fill="#e4e4f0"/>
<rect x="1344.5" y="1717.1" width="3.8" height="14.2" fill="#cbcce4"/>
<rect x="1348" y="1717.1" width="3.8" height="14.2" fill="#dadaeb"/>
<rect x="1351.5" y="1717.1" width="7.3" height="14.2" fill="#adacd2"/>
<rect x="1358.4" y="1717.1" width="3.8" height="14.2" fill="#dadaeb"/>
<rect x="1361.9" y="1717.1" width="3.8" height="14.2" fill="#e4e4f0"/>
<rect x="1365.4" y="1717.1" width="3.8" height="14.2" fill="#cbcce4"/>
<rect x="1368.9" y="1717.1" width="3.8" height="14.2" fill="#dadaeb"/>
<rect x="1372.4" y="1717.1" width="3.8" height="14.2" fill="#cbcce4"/>
<rect x="1250.4" y="1731" width="3.8" height="14.2" fill="#9e9ac8"/>
<rect x="1253.9" y="1731" width="3.8" height="14.2" fill="#cbcce4"/>
<rect x="1257.4" y="1731" width="3.8" height="14.2" fill="#bcbddc"/>
<rect x="1260.8" y="1731" width="3.8" height="14.2" fill="#9e9ac8"/>
<rect x="1264.3" y="1731" width="3.8" height="14.2" fill="#bcbddc"/>
<rect x="1267.8" y="1731" width="3.8" height="14.2" fill="#cbcce4"/>
<rect x="1271.3" y="1731" width="10.8" height="14.2" fill="#3f007d"/>
<rect x="1281.8" y="1731" width="3.8" height="14.2" fill="#4a1486"/>
<rect x="1400.2" y="1745" width="7.3" height="14.2" fill="#4a1486"/>
<rect x="1407.2" y="1745" width="3.8" height="14.2" fill="#3f007d"/>
<rect x="1410.7" y="1745" width="3.8" height="14.2" fill="#4a1486"/>
<rect x="1414.2" y="1745" width="7.3" height="14.2" fill="#54278f"/>
<rect x="1421.2" y="1745" width="14.2" height="14.2" fill="#4a1486"/>
<rect x="1435.1" y="1745" width="3.8" height="14.2" fill="#3f007d"/>
<rect x="1438.6" y="1745" width="3.8" height="14.2" fill="#dadaeb"/>
<rect x="1442.1" y="1745" width="3.8" height="14.2" fill="#adacd2"/>
<rect x="1445.6" y="1745" width="3.8" height="14.2" fill="#cbcce4"/>
<rect x="1449" y="1745" width="3.8" height="14.2" fill="#bcbddc"/>
<rect x="1452.5" y="1745" width="3.8" height="14.2" fill="#9e9ac8"/>
<rect x="1539.7" y="1745" width="3.8" height="14.2" fill="#efedf5"/>
<rect x="1543.1" y="1745" width="3.8" height="14.2" fill="#e4e4f0"/>
<rect x="1546.6" y="1745" width="3.8" height="14.2" fill="#f6f4f9"/>
<rect x="1550.1" y="1745" width="3.8" height="14.2" fill="#efedf5"/>
<rect x="1344.5" y="1758.9" width="3.8" height="14.2" fill="#bcbddc"/>
<rect x="1348" y="1758.9" width="3.8" height="14.2" fill="#cbcce4"/>
<rect x="1351.5" y="1758.9" width="10.8" height="14.2" fill="#bcbddc"/>
<rect x="1361.9" y="1758.9" width="3.8" height="14.2" fill="#adacd2"/>
<rect x="1365.4" y="1758.9" width="3.8" height="14.2" fill="#e4e4f0"/>
<rect x="1368.9" y="1758.9" width="3.8" height="14.2" fill="#cbcce4"/>
<rect x="1372.4" y="1758.9" width="3.8" height="14.2" fill="#adacd2"/>
<rect x="1375.9" y="1758.9" width="3.8" height="14.2" fill="#dadaeb"/>
<rect x="1403.7" y="1758.9" width="3.8" height="14.2" fill="#6a51a3"/>
<rect x="1407.2" y="1758.9" width="17.7" height="14.2" fill="#7567ae"/>
<rect x="1424.6" y="1758.9" width="3.8" height="14.2" fill="#807dba"/>
<rect x="1239.9" y="1772.8" width="21.2" height="14.2" fill="#e4e4f0"/>
<rect x="1260.8" y="1772.8" width="3.8" height="14.2" fill="#efedf5"/>
<rect x="1264.3" y="1772.8" width="3.8" height="14.2" fill="#dadaeb"/>
<rect x="1267.8" y="1772.8" width="3.8" height="14.2" fill="#efedf5"/>
<rect x="1271.3" y="1772.8" width="7.3" height="14.2" fill="#dadaeb"/>
<rect x="1278.3" y="1772.8" width="14.2" height="14.2" fill="#e4e4f0"/>
<rect x="1292.2" y="1772.8" width="14.2" height="14.2" fill="#efedf5"/>
<rect x="1306.2" y="1772.8" width="3.8" height="14.2" fill="#dadaeb"/>
<rect x="1309.6" y="1772.8" width="7.3" height="14.2" fill="#efedf5"/>
<rect x="1476.9" y="1772.8" width="3.8" height="14.2" fill="#efedf5"/>
<rect x="1480.4" y="1772.8" width="10.8" height="14.2" fill="#e4e4f0"/>
<rect x="1490.9" y="1772.8" width="17.7" height="14.2" fill="#efedf5"/>
<rect x="1508.3" y="1772.8" width="7.3" height="14.2" fill="#e4e4f0"/>
<rect x="1515.3" y="1772.8" width="3.8" height="14.2" fill="#efedf5"/>
<rect x="1518.7" y="1772.8" width="3.8" height="14.2" fill="#e4e4f0"/>
<rect x="1351.5" y="1786.8" width="3.8" height="14.2" fill="#efedf5"/>
<rect x="1354.9" y="1786.8" width="10.8" height="14.2" fill="#e4e4f0"/>
<rect x="1365.4" y="1786.8" width="3.8" height="14.2" fill="#efedf5"/>
<rect x="1368.9" y="1786.8" width="3.8" height="14.2" fill="#e4e4f0"/>
<rect x="1372.4" y="1786.8" width="3.8" height="14.2" fill="#efedf5"/>
<rect x="1375.9" y="1786.8" width="3.8" height="14.2" fill="#dadaeb"/>
<rect x="1379.3" y="1786.8" width="3.8" height="14.2" fill="#e4e4f0"/>
<rect x="1382.8" y="1786.8" width="3.8" height="14.2" fill="#efedf5"/>
<rect x="1386.3" y="1786.8" width="3.8" height="14.2" fill="#e4e4f0"/>
<rect x="1389.8" y="1786.8" width="10.8" height="14.2" fill="#efedf5"/>
<rect x="1400.2" y="1786.8" width="3.8" height="14.2" fill="#e4e4f0"/>
<rect x="1403.7" y="1786.8" width="3.8" height="14.2" fill="#efedf5"/>
<rect x="1407.2" y="1786.8" width="3.8" height="14.2" fill="#e4e4f0"/>
<rect x="1226" y="1133" width="345.6" height="228.9" fill="none" stroke="#111" stroke-width="2.8"/>
<rect x="1224.7" y="1401.2" width="351.3" height="240.6" fill="none" stroke="#111" stroke-width="2.8"/>
<rect x="1224.7" y="1674" width="351.3" height="225.4" fill="none" stroke="#111" stroke-width="2.8"/>
<rect x="1636.5" y="1130.6" width="340.5" height="230.2" fill="#fbfafd"/>
<rect x="1636.5" y="1130.6" width="340.5" height="92.1" fill="url(#gaw)"/>
<g filter="url(#gaf)"><rect x="1636.5" y="1130.6" width="340.5" height="230.2" fill="url(#gav)"/><ellipse cx="1728.4" cy="1144.6" rx="68.1" ry="12" fill="url(#gar)"/><ellipse cx="1748.9" cy="1164.6" rx="47.7" ry="13" fill="url(#gar)"/><ellipse cx="1840.8" cy="1165.6" rx="47.7" ry="15" fill="url(#gar)"/></g>
<rect x="1636.5" y="1130.6" width="340.5" height="2.4" fill="#5e3998"/>
<rect x="1636.5" y="1401.4" width="341.5" height="240.6" fill="#fbfafd"/>
<rect x="1636.5" y="1401.4" width="341.5" height="96.2" fill="url(#gbw)"/>
<g filter="url(#gbf)"><rect x="1636.5" y="1401.4" width="341.5" height="240.6" fill="url(#gbv)"/><ellipse cx="1728.7" cy="1415.4" rx="68.3" ry="12" fill="url(#gbr)"/><ellipse cx="1749.2" cy="1435.4" rx="47.8" ry="13" fill="url(#gbr)"/><ellipse cx="1841.4" cy="1436.4" rx="47.8" ry="15" fill="url(#gbr)"/></g>
<rect x="1636.5" y="1401.4" width="341.5" height="2.4" fill="#5e3998"/>
<rect x="1636.5" y="1675.3" width="342.5" height="222.9" fill="#fbfafd"/>
<rect x="1636.5" y="1675.3" width="342.5" height="89.2" fill="url(#gcw)"/>
<g filter="url(#gcf)"><rect x="1636.5" y="1675.3" width="342.5" height="222.9" fill="url(#gcv)"/><ellipse cx="1729" cy="1689.3" rx="68.5" ry="12" fill="url(#gcr)"/><ellipse cx="1749.5" cy="1709.3" rx="48" ry="13" fill="url(#gcr)"/><ellipse cx="1842" cy="1710.3" rx="48" ry="15" fill="url(#gcr)"/></g>
<rect x="1636.5" y="1675.3" width="342.5" height="2.4" fill="#5e3998"/>
<rect x="1635.2" y="1129.3" width="342.8" height="232.9" fill="none" stroke="#111" stroke-width="2.8"/>
<rect x="1635.2" y="1400" width="344.3" height="243.4" fill="none" stroke="#111" stroke-width="2.8"/>
<rect x="1635.2" y="1674" width="345.2" height="225.4" fill="none" stroke="#111" stroke-width="2.8"/>
<line x1="1390.9" y1="768.7" x2="1390.9" y2="1905" stroke="#444" stroke-width="3" stroke-dasharray="15.7 16.38"/>
<line x1="1799.8" y1="768.7" x2="1799.8" y2="1905" stroke="#444" stroke-width="3" stroke-dasharray="15.7 16.38"/>
<text x="1196" y="1239.8" font-size="23" fill="#111" text-anchor="middle" transform="rotate(-90 1196 1239.8)">J1</text>
<text x="1197" y="1512" font-size="23" fill="#111" text-anchor="middle" transform="rotate(-90 1197 1512)">TT2</text>
<text x="1198" y="1796.3" font-size="23" fill="#111" text-anchor="middle" transform="rotate(-90 1198 1796.3)">PB14</text>
<text x="1248.3" y="1947.5" font-size="24" fill="#111" text-anchor="middle">-5.0Kb</text>
<text x="1404" y="1947.5" font-size="24" fill="#111" text-anchor="middle">GLN insertion</text>
<text x="1571.5" y="1947.5" font-size="24" fill="#111" text-anchor="middle">+5.0Kb</text>
<text x="1665" y="1947.5" font-size="24" fill="#111" text-anchor="middle">-1.0Kb</text>
<text x="1800" y="1945.5" font-size="24" fill="#111" text-anchor="middle">TSS</text>
<text x="1961" y="1947.5" font-size="24" fill="#111" text-anchor="middle">+1.0Kb</text>
<rect x="1234.5" y="1985.8" width="325" height="20.7" fill="url(#cbar)" stroke="#111" stroke-width="3"/>
<rect x="1646.5" y="1987.9" width="327.8" height="18.6" fill="url(#cbar)" stroke="#111" stroke-width="3"/>
<line x1="1266" y1="2007" x2="1266" y2="2014" stroke="#111" stroke-width="2.5"/>
<line x1="1548.3" y1="2007" x2="1548.3" y2="2014" stroke="#111" stroke-width="2.5"/>
<line x1="1653" y1="2007" x2="1653" y2="2014" stroke="#111" stroke-width="2.5"/>
<line x1="1968.5" y1="2007" x2="1968.5" y2="2014" stroke="#111" stroke-width="2.5"/>
<text x="1266" y="2040.8" font-size="23" fill="#111" text-anchor="middle">0</text>
<text x="1392.5" y="2040.8" font-size="24" fill="#111" text-anchor="middle">Input-RPKM</text>
<text x="1544.6" y="2040.8" font-size="23" fill="#111" text-anchor="middle">10</text>
<text x="1652.8" y="2040.8" font-size="23" fill="#111" text-anchor="middle">0</text>
<text x="1813" y="2040.8" font-size="24" fill="#111" text-anchor="middle">Input-RPKM</text>
<text x="1970" y="2040.8" font-size="23" fill="#111" text-anchor="middle">35</text>
<text x="-0.5" y="1149" font-size="48" fill="#111">e</text>
<text x="420" y="1140.6" font-size="24" fill="#111">20kb</text>
<line x1="484" y1="1133.4" x2="732" y2="1133.4" stroke="#111" stroke-width="3"/>
<rect x="482.5" y="1127.5" width="3.2" height="11.5" fill="#111"/>
<rect x="730" y="1127.5" width="3.2" height="11.5" fill="#111"/>
<text x="752" y="1143" font-size="24" fill="#111">chr6:148,877,507-148,947,917</text>
<text x="260" y="1175" font-size="24" fill="#111">GLN insertion in PB14</text>
<rect x="350.8" y="1212" width="21.4" height="376" fill="#fdf6da"/>
<rect x="768.8" y="1212" width="40" height="376.4" fill="#fdeed9"/>
<rect x="320.3" y="1183.7" width="117.1" height="13.8" fill="#0a0a0a"/>
<polyline points="320.3,1197.5 378.9,1212 437.4,1197.5" fill="none" stroke="#111" stroke-width="2"/>
<line x1="379.1" y1="1212.2" x2="380.9" y2="1575" stroke="#111" stroke-width="2.3" stroke-dasharray="16 16.3" stroke-dashoffset="7.3"/>
<rect x="66.5" y="1221.2" width="195.9" height="152.6" fill="#ececec"/>
<rect x="66.5" y="1379.6" width="195.9" height="148.4" fill="#ececec"/>
<rect x="56.8" y="1221.2" width="4.2" height="152.6" fill="#111"/>
<rect x="56.8" y="1379.6" width="4.2" height="148.4" fill="#111"/>
<text x="44" y="1293.7" font-size="31.5" fill="#111" text-anchor="middle" transform="rotate(-90 44 1293.7)">H3K27ac</text>
<text x="42" y="1448.6" font-size="31.5" fill="#111" text-anchor="middle" transform="rotate(-90 42 1448.6)">RNA-seq</text>
<text x="156.7" y="1255" font-size="24" fill="#d8291f" text-anchor="middle">J1</text>
<text x="156.7" y="1307.7" font-size="24" fill="#6c18a4" text-anchor="middle">J1 - PB1</text>
<text x="155.8" y="1359" font-size="24" fill="#d08cda" text-anchor="middle">J1 - PB14</text>
<text x="164.4" y="1409.3" font-size="24" fill="#d8291f" text-anchor="middle">J1 - strand</text>
<text x="164.6" y="1460" font-size="24" fill="#6c18a4" text-anchor="middle">J1-PB1 - strand</text>
<text x="164.4" y="1509.8" font-size="24" fill="#d08cda" text-anchor="middle">J1-PB14 - strand</text>
<text x="163.2" y="1568.2" font-size="24" fill="#3c2586" text-anchor="middle">GENCODE VM20</text>
<text x="263" y="1222.6" font-size="20.5" fill="#e5467b">30</text>
<text x="290.6" y="1222.6" font-size="20.5" fill="#e5467b">-</text>
<text x="269" y="1259" font-size="20.5" fill="#e5467b">0</text>
<line x1="285.9" y1="1263.2" x2="297.8" y2="1263.2" stroke="#e5467b" stroke-width="1.6"/>
<text x="263" y="1276.6" font-size="20.5" fill="#a644b8">30</text>
<text x="290.6" y="1276.6" font-size="20.5" fill="#a644b8">-</text>
<text x="269" y="1313.5" font-size="20.5" fill="#a644b8">0</text>
<line x1="285.9" y1="1317" x2="297.8" y2="1317" stroke="#a644b8" stroke-width="1.6"/>
<text x="263" y="1331" font-size="20.5" fill="#c0b8e8">30</text>
<text x="290.6" y="1331" font-size="20.5" fill="#c0b8e8">-</text>
<text x="269" y="1367" font-size="20.5" fill="#c0b8e8">0</text>
<line x1="285.9" y1="1371" x2="297.8" y2="1371" stroke="#c0b8e8" stroke-width="1.6"/>
<text x="263" y="1385.3" font-size="20.5" fill="#e5467b">30</text>
<text x="290.6" y="1385.3" font-size="20.5" fill="#e5467b">-</text>
<text x="269" y="1422" font-size="20.5" fill="#e5467b">0</text>
<line x1="285.9" y1="1425.5" x2="297.8" y2="1425.5" stroke="#e5467b" stroke-width="1.6"/>
<text x="263" y="1439.6" font-size="20.5" fill="#a644b8">30</text>
<text x="290.6" y="1439.6" font-size="20.5" fill="#a644b8">-</text>
<text x="269" y="1475.4" font-size="20.5" fill="#a644b8">0</text>
<line x1="285.9" y1="1479" x2="297.8" y2="1479" stroke="#a644b8" stroke-width="1.6"/>
<text x="263" y="1492.9" font-size="20.5" fill="#c0b8e8">30</text>
<text x="290.6" y="1492.9" font-size="20.5" fill="#c0b8e8">-</text>
<text x="273.3" y="1541.5" font-size="20.5" fill="#c0b8e8">0</text>
<line x1="290" y1="1546" x2="300" y2="1546" stroke="#c0b8e8" stroke-width="1.6"/>
<rect x="304" y="1257" width="809.5" height="2.4" fill="#e5467b"/>
<rect x="304" y="1257" width="14.5" height="3.6" fill="#c24bae"/>
<rect x="345.6" y="1257" width="4.4" height="3.6" fill="#c24bae"/>
<rect x="409" y="1257" width="16.5" height="3.6" fill="#c24bae"/>
<rect x="429.3" y="1257" width="5.3" height="3.6" fill="#c24bae"/>
<rect x="435" y="1257" width="17.9" height="3.6" fill="#c24bae"/>
<rect x="454.7" y="1257" width="9.9" height="3.6" fill="#c24bae"/>
<rect x="466.2" y="1257" width="7.7" height="3.6" fill="#c24bae"/>
<rect x="475.2" y="1257" width="6" height="3.6" fill="#c24bae"/>
<rect x="501.4" y="1257" width="8.6" height="3.6" fill="#c24bae"/>
<rect x="545" y="1257" width="16" height="3.6" fill="#c24bae"/>
<rect x="562.9" y="1257" width="12.1" height="3.6" fill="#c24bae"/>
<rect x="587" y="1257" width="16.7" height="3.6" fill="#c24bae"/>
<rect x="605.9" y="1257" width="6.8" height="3.6" fill="#c24bae"/>
<rect x="613.4" y="1257" width="5.2" height="3.6" fill="#c24bae"/>
<rect x="621.3" y="1257" width="17.1" height="3.6" fill="#c24bae"/>
<rect x="641.1" y="1257" width="12.6" height="3.6" fill="#c24bae"/>
<rect x="720" y="1257" width="16.3" height="3.6" fill="#c24bae"/>
<rect x="736.6" y="1257" width="4.6" height="3.6" fill="#c24bae"/>
<rect x="785.2" y="1257" width="18.3" height="3.6" fill="#c24bae"/>
<rect x="869.1" y="1257" width="10.3" height="3.6" fill="#c24bae"/>
<rect x="880.6" y="1257" width="18.8" height="3.6" fill="#c24bae"/>
<rect x="903.1" y="1257" width="8.5" height="3.6" fill="#c24bae"/>
<rect x="1020.3" y="1257" width="8" height="3.6" fill="#c24bae"/>
<polygon points="340,1258.2 340,1257.8 341.2,1257.8 341.2,1258.2 342.4,1258.2 342.4,1257.8 343.6,1257.8 343.6,1258.1 344.8,1258.1 344.8,1257.5 346,1257.5 346,1257.2 347.2,1257.2 347.2,1258.2 348.4,1258.2 348.4,1258 349.6,1258 349.6,1258 350.8,1258 350.8,1258.1 352,1258.1 352,1258.2 353.2,1258.2 353.2,1258.1 354.4,1258.1 354.4,1255.6 355.6,1255.6 355.6,1257.4 356.8,1257.4 356.8,1256.5 358,1256.5 358,1254.7 359.2,1254.7 359.2,1252.4 360.4,1252.4 360.4,1253.6 361.6,1253.6 361.6,1251.4 362.8,1251.4 362.8,1246.5 364,1246.5 364,1248.2 365.2,1248.2 365.2,1245.6 366.4,1245.6 366.4,1246.9 367.6,1246.9 367.6,1248.6 368.8,1248.6 368.8,1250.6 370,1250.6 370,1254.7 371.2,1254.7 371.2,1249.9 372.4,1249.9 372.4,1250.3 373.6,1250.3 373.6,1242.9 374.8,1242.9 374.8,1244.3 376,1244.3 376,1250.8 377.2,1250.8 377.2,1249.4 378.4,1249.4 378.4,1255.4 379.6,1255.4 379.6,1256.7 380.8,1256.7 380.8,1253.9 382,1253.9 382,1253.7 383.2,1253.7 383.2,1252.4 384.4,1252.4 384.4,1246.1 385.6,1246.1 385.6,1251 386.8,1251 386.8,1256.1 388,1256.1 388,1257 389.2,1257 389.2,1257.9 390.4,1257.9 390.4,1257.2 391.6,1257.2 391.6,1258.1 392.8,1258.1 392.8,1257.8 394,1257.8 394,1258.2 395.2,1258.2 395,1258.2" fill="#e5467b"/>
<polygon points="505,1258.2 505,1257 506.2,1257 506.2,1256.6 507.4,1256.6 507.4,1257.3 508.6,1257.3 508.6,1256.6 509.8,1256.6 509.8,1258.1 511,1258.1 511,1258.2 512.2,1258.2 512.2,1257.9 513.4,1257.9 513.4,1256.6 514.6,1256.6 514.6,1255 515.8,1255 515.8,1244.7 517,1244.7 517,1236.3 518.2,1236.3 518.2,1236.7 519.4,1236.7 519.4,1246.3 520.6,1246.3 520.6,1249.7 521.8,1249.7 521.8,1251.5 523,1251.5 523,1238.9 524.2,1238.9 524.2,1229.7 525.4,1229.7 525.4,1233.2 526.6,1233.2 526.6,1241.7 527.8,1241.7 527.8,1247.9 529,1247.9 529,1251.8 530.2,1251.8 530.2,1241.6 531.4,1241.6 531.4,1240.5 532.6,1240.5 532.6,1241.4 533.8,1241.4 533.8,1242.2 535,1242.2 535,1250.2 536.2,1250.2 536.2,1250.2 537.4,1250.2 537.4,1252.5 538.6,1252.5 538.6,1250.9 539.8,1250.9 539.8,1251.2 541,1251.2 541,1252.5 542.2,1252.5 542.2,1252.6 543.4,1252.6 543.4,1255.2 544.6,1255.2 544.6,1255.6 545.8,1255.6 545.8,1255.5 547,1255.5 547,1256.4 548.2,1256.4 548.2,1257.9 549.4,1257.9 549.4,1258.1 550.6,1258.1 550.6,1257.2 551.8,1257.2 551.8,1256.9 553,1256.9 552,1258.2" fill="#e5467b"/>
<polygon points="575,1258.2 575,1256.6 576.2,1256.6 576.2,1255.2 577.4,1255.2 577.4,1253.6 578.6,1253.6 578.6,1254.6 579.8,1254.6 579.8,1256.1 581,1256.1 581,1257.2 582.2,1257.2 582.2,1257.6 583.4,1257.6 583,1258.2" fill="#e5467b"/>
<polygon points="676,1258.2 676,1254.6 677.2,1254.6 677.2,1257.3 678.4,1257.3 678.4,1255.5 679.6,1255.5 679.6,1256.8 680.8,1256.8 680.8,1257 682,1257 682,1256.1 683.2,1256.1 683.2,1255.5 684.4,1255.5 684.4,1255.6 685.6,1255.6 685.6,1256.1 686.8,1256.1 686.8,1254.5 688,1254.5 688,1252.1 689.2,1252.1 689.2,1254.4 690.4,1254.4 690.4,1253.6 691.6,1253.6 691.6,1253.5 692.8,1253.5 692.8,1255.1 694,1255.1 694,1252 695.2,1252 695.2,1254 696.4,1254 696.4,1256.2 697.6,1256.2 697.6,1253.7 698.8,1253.7 698.8,1253.6 700,1253.6 700,1255.7 701.2,1255.7 701.2,1251.9 702.4,1251.9 702.4,1254.9 703.6,1254.9 703.6,1251.6 704.8,1251.6 704.8,1252.3 706,1252.3 706,1250.7 707.2,1250.7 707.2,1251.3 708.4,1251.3 708.4,1255.3 709.6,1255.3 709.6,1254.1 710.8,1254.1 710.8,1253.1 712,1253.1 712,1256.4 713.2,1256.4 713.2,1256.5 714.4,1256.5 714.4,1256.4 715.6,1256.4 715.6,1257.4 716.8,1257.4 716.8,1257.5 718,1257.5 718,1257.7 719.2,1257.7 719.2,1257 720.4,1257 720.4,1258.1 721.6,1258.1 721.6,1257.4 722.8,1257.4 722.8,1257.8 724,1257.8 724,1256.7 725.2,1256.7 725,1258.2" fill="#e5467b"/>
<polygon points="768,1258.2 768,1258.1 769.2,1258.1 769.2,1257.7 770.4,1257.7 770.4,1256 771.6,1256 771.6,1258.1 772.8,1258.1 772.8,1256.8 774,1256.8 774,1257.6 775.2,1257.6 775.2,1257.8 776.4,1257.8 776.4,1257.3 777.6,1257.3 777.6,1256.6 778.8,1256.6 778.8,1256.2 780,1256.2 780,1256 781.2,1256 781.2,1256.7 782.4,1256.7 782.4,1256 783.6,1256 783.6,1255 784.8,1255 784.8,1255 786,1255 786,1254.8 787.2,1254.8 787.2,1255.2 788.4,1255.2 788.4,1254.2 789.6,1254.2 789.6,1255.8 790.8,1255.8 790.8,1257 792,1257 792,1256.6 793.2,1256.6 793.2,1256.6 794.4,1256.6 794.4,1255.1 795.6,1255.1 795.6,1254.9 796.8,1254.9 796.8,1254.9 798,1254.9 798,1254.8 799.2,1254.8 799.2,1256.1 800.4,1256.1 800.4,1256.4 801.6,1256.4 801.6,1256.2 802.8,1256.2 802.8,1255.3 804,1255.3 804,1257.6 805.2,1257.6 805.2,1256.4 806.4,1256.4 806.4,1256.6 807.6,1256.6 807.6,1258.1 808.8,1258.1 808.8,1255.9 810,1255.9 810,1258.2" fill="#e5467b"/>
<polygon points="860,1258.2 860,1255 861.2,1255 861.2,1258.2 862.4,1258.2 862.4,1256.7 863.6,1256.7 863.6,1257 864.8,1257 864.8,1257.4 866,1257.4 866,1256.9 867.2,1256.9 867.2,1258.1 868.4,1258.1 868.4,1256.1 869.6,1256.1 869.6,1256.8 870.8,1256.8 870.8,1258.1 872,1258.1 872,1254.9 873.2,1254.9 873.2,1256.7 874.4,1256.7 874.4,1258.1 875.6,1258.1 875.6,1258.1 876.8,1258.1 876.8,1258 878,1258 878,1256.9 879.2,1256.9 879.2,1256.5 880.4,1256.5 880.4,1254.9 881.6,1254.9 881.6,1255.2 882.8,1255.2 882.8,1257.8 884,1257.8 884,1257.4 885.2,1257.4 885.2,1256.4 886.4,1256.4 886.4,1254.8 887.6,1254.8 887.6,1256.4 888.8,1256.4 888.8,1256.6 890,1256.6 890,1255.4 891.2,1255.4 891.2,1256.3 892.4,1256.3 892.4,1256.6 893.6,1256.6 893.6,1254.5 894.8,1254.5 894.8,1254.3 896,1254.3 896,1256.6 897.2,1256.6 897.2,1256 898.4,1256 898.4,1254.8 899.6,1254.8 899.6,1255.8 900.8,1255.8 900.8,1252.9 902,1252.9 902,1253.6 903.2,1253.6 903.2,1256.3 904.4,1256.3 904.4,1253.2 905.6,1253.2 905.6,1254.9 906.8,1254.9 906.8,1253.7 908,1253.7 908,1254.5 909.2,1254.5 909.2,1255 910.4,1255 910.4,1254.7 911.6,1254.7 911.6,1255.5 912.8,1255.5 912.8,1256.1 914,1256.1 914,1257.3 915.2,1257.3 915.2,1255.6 916.4,1255.6 916.4,1257.6 917.6,1257.6 917.6,1254.7 918.8,1254.7 918.8,1257 920,1257 920,1256.6 921.2,1256.6 921.2,1257.6 922.4,1257.6 922.4,1257.4 923.6,1257.4 923.6,1256.9 924.8,1256.9 924.8,1257.4 926,1257.4 926,1257.2 927.2,1257.2 927.2,1254.3 928.4,1254.3 928.4,1256.9 929.6,1256.9 929.6,1256.4 930.8,1256.4 930.8,1256.5 932,1256.5 932,1253.2 933.2,1253.2 933.2,1256.2 934.4,1256.2 934.4,1256.1 935.6,1256.1 935.6,1254.7 936.8,1254.7 936.8,1255.5 938,1255.5 938,1255.5 939.2,1255.5 939.2,1255.4 940.4,1255.4 940.4,1255.1 941.6,1255.1 941.6,1254.1 942.8,1254.1 942.8,1251.8 944,1251.8 944,1256 945.2,1256 945.2,1253.9 946.4,1253.9 946.4,1255.1 947.6,1255.1 947.6,1255.4 948.8,1255.4 948.8,1254 950,1254 950,1254 951.2,1254 951.2,1253.7 952.4,1253.7 952.4,1254.2 953.6,1254.2 953.6,1252.6 954.8,1252.6 954.8,1253.5 956,1253.5 956,1252.2 957.2,1252.2 957.2,1250.9 958.4,1250.9 958.4,1253.6 959.6,1253.6 959.6,1251.3 960.8,1251.3 960.8,1252.5 962,1252.5 962,1251.5 963.2,1251.5 963.2,1252.7 964.4,1252.7 964.4,1253.4 965.6,1253.4 965.6,1251.3 966.8,1251.3 966.8,1253.1 968,1253.1 968,1253.5 969.2,1253.5 969.2,1255.5 970.4,1255.5 970.4,1254.2 971.6,1254.2 971.6,1252.5 972.8,1252.5 972.8,1254.1 974,1254.1 974,1254.2 975.2,1254.2 975.2,1251.7 976.4,1251.7 976.4,1256 977.6,1256 977.6,1255.4 978.8,1255.4 978.8,1255.8 980,1255.8 980,1255.7 981.2,1255.7 981.2,1254.6 982.4,1254.6 982.4,1255.4 983.6,1255.4 983.6,1255.8 984.8,1255.8 984.8,1256.5 986,1256.5 986,1256.9 987.2,1256.9 987.2,1256.3 988.4,1256.3 988.4,1256.5 989.6,1256.5 989.6,1256.4 990.8,1256.4 990.8,1256.8 992,1256.8 992,1256.6 993.2,1256.6 993.2,1253.6 994.4,1253.6 994.4,1256.8 995.6,1256.8 995.6,1256.5 996.8,1256.5 996.8,1256.9 998,1256.9 998,1254.3 999.2,1254.3 999.2,1255 1000.4,1255 1000.4,1256.7 1001.6,1256.7 1001.6,1257.3 1002.8,1257.3 1002.8,1256.8 1004,1256.8 1004,1254.4 1005.2,1254.4 1005.2,1255.3 1006.4,1255.3 1006.4,1255.8 1007.6,1255.8 1007.6,1256.2 1008.8,1256.2 1008.8,1255 1010,1255 1010,1255.6 1011.2,1255.6 1011.2,1256.3 1012.4,1256.3 1012.4,1254 1013.6,1254 1013.6,1251.3 1014.8,1251.3 1014.8,1255 1016,1255 1016,1253.9 1017.2,1253.9 1017.2,1253.9 1018.4,1253.9 1018.4,1253.5 1019.6,1253.5 1019.6,1253.3 1020.8,1253.3 1020.8,1253.8 1022,1253.8 1022,1252.5 1023.2,1252.5 1023.2,1255.8 1024.4,1255.8 1024.4,1255.9 1025.6,1255.9 1025.6,1256 1026.8,1256 1026.8,1254.9 1028,1254.9 1028,1254.6 1029.2,1254.6 1029.2,1255.2 1030.4,1255.2 1030.4,1256.5 1031.6,1256.5 1031.6,1255.8 1032.8,1255.8 1032.8,1254.9 1034,1254.9 1034,1255.8 1035.2,1255.8 1035.2,1255.2 1036.4,1255.2 1036.4,1255.7 1037.6,1255.7 1037.6,1255.4 1038.8,1255.4 1038.8,1255.6 1040,1255.6 1040,1253 1041.2,1253 1041.2,1254 1042.4,1254 1042.4,1253.6 1043.6,1253.6 1043.6,1251.8 1044.8,1251.8 1044.8,1250.9 1046,1250.9 1046,1251.7 1047.2,1251.7 1047.2,1253.5 1048.4,1253.5 1048.4,1254.4 1049.6,1254.4 1049.6,1254.1 1050.8,1254.1 1050.8,1254.9 1052,1254.9 1052,1254.3 1053.2,1254.3 1053.2,1254.5 1054.4,1254.5 1054.4,1256 1055.6,1256 1055.6,1255.5 1056.8,1255.5 1056.8,1255.6 1058,1255.6 1058,1255.8 1059.2,1255.8 1059.2,1251.4 1060.4,1251.4 1060.4,1253.7 1061.6,1253.7 1061.6,1254.5 1062.8,1254.5 1062.8,1252.7 1064,1252.7 1064,1253 1065.2,1253 1065.2,1252.3 1066.4,1252.3 1066.4,1252.3 1067.6,1252.3 1067.6,1252.5 1068.8,1252.5 1068.8,1253.3 1070,1253.3 1070,1254.2 1071.2,1254.2 1071.2,1255.2 1072.4,1255.2 1072.4,1256.3 1073.6,1256.3 1073.6,1256.7 1074.8,1256.7 1074.8,1257.2 1076,1257.2 1076,1257.7 1077.2,1257.7 1077.2,1257 1078.4,1257 1078,1258.2" fill="#e5467b"/>
<polygon points="1072,1258.2 1072,1253.5 1073.2,1253.5 1073.2,1248 1074.4,1248 1074.4,1240.4 1075.6,1240.4 1075.6,1231.8 1076.8,1231.8 1076.8,1228.8 1078,1228.8 1078,1229.9 1079.2,1229.9 1079.2,1235.7 1080.4,1235.7 1080.4,1244.7 1081.6,1244.7 1081.6,1228 1082.8,1228 1082.8,1209.2 1084,1209.2 1084,1206 1085.2,1206 1085.2,1206 1086.4,1206 1086.4,1206 1087.6,1206 1087.6,1206 1088.8,1206 1088.8,1206 1090,1206 1090,1206 1091.2,1206 1091.2,1206 1092.4,1206 1092.4,1206 1093.6,1206 1093.6,1206 1094.8,1206 1094.8,1206 1096,1206 1096,1206 1097.2,1206 1097.2,1206 1098.4,1206 1098.4,1206 1099.6,1206 1099.6,1206 1100.8,1206 1100.8,1206 1102,1206 1102,1220.9 1103.2,1220.9 1103.2,1239.2 1104.4,1239.2 1104.4,1252.5 1105.6,1252.5 1105.6,1255.7 1106.8,1255.7 1106.8,1237.1 1108,1237.1 1108,1220.3 1109.2,1220.3 1109.2,1218.1 1110.4,1218.1 1110.4,1218 1111.6,1218 1111.6,1226.1 1112.8,1226.1 1112.8,1233.3 1114,1233.3 1113.5,1258.2" fill="#e5467b"/>
<rect x="1084" y="1206" width="18" height="3.5" fill="#e5467b"/>
<rect x="304" y="1311.6" width="819" height="2.4" fill="#a644b8"/>
<rect x="304" y="1311.6" width="15.9" height="3.6" fill="#c24bae"/>
<rect x="329.8" y="1311.6" width="9.8" height="3.6" fill="#c24bae"/>
<rect x="340" y="1311.6" width="20.8" height="3.6" fill="#c24bae"/>
<rect x="369.8" y="1311.6" width="17.9" height="3.6" fill="#c24bae"/>
<rect x="390.5" y="1311.6" width="20.3" height="3.6" fill="#c24bae"/>
<rect x="411.8" y="1311.6" width="6.1" height="3.6" fill="#c24bae"/>
<rect x="418.2" y="1311.6" width="15.5" height="3.6" fill="#c24bae"/>
<rect x="436.5" y="1311.6" width="18.9" height="3.6" fill="#c24bae"/>
<rect x="455.6" y="1311.6" width="12" height="3.6" fill="#c24bae"/>
<rect x="482.6" y="1311.6" width="12.8" height="3.6" fill="#c24bae"/>
<rect x="517.1" y="1311.6" width="6" height="3.6" fill="#c24bae"/>
<rect x="525.4" y="1311.6" width="17.1" height="3.6" fill="#c24bae"/>
<rect x="544.9" y="1311.6" width="7.7" height="3.6" fill="#c24bae"/>
<rect x="556.6" y="1311.6" width="19.7" height="3.6" fill="#c24bae"/>
<rect x="576.6" y="1311.6" width="8.4" height="3.6" fill="#c24bae"/>
<rect x="586.3" y="1311.6" width="12" height="3.6" fill="#c24bae"/>
<rect x="602" y="1311.6" width="10.4" height="3.6" fill="#c24bae"/>
<rect x="613.7" y="1311.6" width="14" height="3.6" fill="#c24bae"/>
<rect x="629.7" y="1311.6" width="13.3" height="3.6" fill="#c24bae"/>
<rect x="645.2" y="1311.6" width="20.6" height="3.6" fill="#c24bae"/>
<rect x="667.7" y="1311.6" width="10.3" height="3.6" fill="#c24bae"/>
<rect x="697.7" y="1311.6" width="19.5" height="3.6" fill="#c24bae"/>
<rect x="720.7" y="1311.6" width="6.6" height="3.6" fill="#c24bae"/>
<rect x="730.3" y="1311.6" width="16.2" height="3.6" fill="#c24bae"/>
<rect x="746.6" y="1311.6" width="21.4" height="3.6" fill="#c24bae"/>
<rect x="769.5" y="1311.6" width="12.5" height="3.6" fill="#c24bae"/>
<rect x="783.1" y="1311.6" width="21.3" height="3.6" fill="#c24bae"/>
<rect x="808.1" y="1311.6" width="18" height="3.6" fill="#c24bae"/>
<rect x="829.1" y="1311.6" width="13.8" height="3.6" fill="#c24bae"/>
<rect x="859.9" y="1311.6" width="11.3" height="3.6" fill="#c24bae"/>
<rect x="872.3" y="1311.6" width="6.3" height="3.6" fill="#c24bae"/>
<rect x="882" y="1311.6" width="8.1" height="3.6" fill="#c24bae"/>
<rect x="890.3" y="1311.6" width="21.6" height="3.6" fill="#c24bae"/>
<rect x="912.7" y="1311.6" width="16.8" height="3.6" fill="#c24bae"/>
<rect x="932.7" y="1311.6" width="16.9" height="3.6" fill="#c24bae"/>
<rect x="952.8" y="1311.6" width="7.9" height="3.6" fill="#c24bae"/>
<rect x="963.7" y="1311.6" width="20.8" height="3.6" fill="#c24bae"/>
<rect x="985.6" y="1311.6" width="13" height="3.6" fill="#c24bae"/>
<rect x="1002.6" y="1311.6" width="16.2" height="3.6" fill="#c24bae"/>
<rect x="1020.7" y="1311.6" width="19.6" height="3.6" fill="#c24bae"/>
<rect x="1052.3" y="1311.6" width="7.7" height="3.6" fill="#c24bae"/>
<polygon points="350,1312.8 350,1312.5 351.2,1312.5 351.2,1311.2 352.4,1311.2 352.4,1311.6 353.6,1311.6 353.6,1309.1 354.8,1309.1 354.8,1309.5 356,1309.5 356,1308.5 357.2,1308.5 357.2,1306 358.4,1306 358.4,1306.4 359.6,1306.4 359.6,1309.7 360.8,1309.7 360.8,1310.5 362,1310.5 362,1311.2 363.2,1311.2 363.2,1310.3 364.4,1310.3 364.4,1308.4 365.6,1308.4 365.6,1307.8 366.8,1307.8 366.8,1305.5 368,1305.5 368,1308.2 369.2,1308.2 369.2,1307.5 370.4,1307.5 370.4,1308.5 371.6,1308.5 371.6,1310.3 372.8,1310.3 372.8,1310.5 374,1310.5 374,1311 375.2,1311 375,1312.8" fill="#a644b8"/>
<polygon points="505,1312.8 505,1312.8 506.2,1312.8 506.2,1312 507.4,1312 507.4,1311.6 508.6,1311.6 508.6,1311.2 509.8,1311.2 509.8,1312.8 511,1312.8 511,1312.4 512.2,1312.4 512.2,1312.4 513.4,1312.4 513.4,1309.8 514.6,1309.8 514.6,1307.1 515.8,1307.1 515.8,1300 517,1300 517,1293.7 518.2,1293.7 518.2,1289 519.4,1289 519.4,1292.2 520.6,1292.2 520.6,1298.9 521.8,1298.9 521.8,1302.2 523,1302.2 523,1287.8 524.2,1287.8 524.2,1274.3 525.4,1274.3 525.4,1289.7 526.6,1289.7 526.6,1288.2 527.8,1288.2 527.8,1301.2 529,1301.2 529,1301.1 530.2,1301.1 530.2,1300.2 531.4,1300.2 531.4,1298.9 532.6,1298.9 532.6,1295.8 533.8,1295.8 533.8,1292.9 535,1292.9 535,1302 536.2,1302 536.2,1298.9 537.4,1298.9 537.4,1306.6 538.6,1306.6 538.6,1309.2 539.8,1309.2 539.8,1308.3 541,1308.3 541,1306.3 542.2,1306.3 542.2,1306.6 543.4,1306.6 543.4,1303.7 544.6,1303.7 544.6,1306.2 545.8,1306.2 545.8,1309.7 547,1309.7 547,1310.4 548.2,1310.4 548.2,1311.7 549.4,1311.7 549.4,1312.2 550.6,1312.2 550,1312.8" fill="#a644b8"/>
<polygon points="680,1312.8 680,1310.9 681.2,1310.9 681.2,1310.5 682.4,1310.5 682.4,1311.2 683.6,1311.2 683.6,1310.4 684.8,1310.4 684.8,1310.4 686,1310.4 686,1308.6 687.2,1308.6 687.2,1309.5 688.4,1309.5 688.4,1307.3 689.6,1307.3 689.6,1309.4 690.8,1309.4 690.8,1305.6 692,1305.6 692,1308 693.2,1308 693.2,1308.3 694.4,1308.3 694.4,1309.7 695.6,1309.7 695.6,1309 696.8,1309 696.8,1310.5 698,1310.5 698,1309.8 699.2,1309.8 699.2,1310.2 700.4,1310.2 700.4,1308.6 701.6,1308.6 701.6,1308.2 702.8,1308.2 702.8,1306 704,1306 704,1304.9 705.2,1304.9 705.2,1305.6 706.4,1305.6 706.4,1305.3 707.6,1305.3 707.6,1309.2 708.8,1309.2 708.8,1306.7 710,1306.7 710,1309.5 711.2,1309.5 711.2,1311.1 712.4,1311.1 712.4,1310.9 713.6,1310.9 713.6,1312 714.8,1312 714.8,1312.3 716,1312.3 716,1312.2 717.2,1312.2 717.2,1312.7 718.4,1312.7 718.4,1312.8 719.6,1312.8 719.6,1312.8 720.8,1312.8 720,1312.8" fill="#a644b8"/>
<polygon points="775,1312.8 775,1311.9 776.2,1311.9 776.2,1312.8 777.4,1312.8 777.4,1312.6 778.6,1312.6 778.6,1311.4 779.8,1311.4 779.8,1309.8 781,1309.8 781,1308.4 782.2,1308.4 782.2,1302.3 783.4,1302.3 783.4,1304 784.6,1304 784.6,1307.8 785.8,1307.8 785.8,1307.6 787,1307.6 787,1311.3 788.2,1311.3 788.2,1310.4 789.4,1310.4 789.4,1310.4 790.6,1310.4 790.6,1310.6 791.8,1310.6 791.8,1308.7 793,1308.7 793,1309.8 794.2,1309.8 794.2,1306.1 795.4,1306.1 795.4,1309.7 796.6,1309.7 796.6,1307.1 797.8,1307.1 797.8,1308.2 799,1308.2 799,1309 800.2,1309 800.2,1309.7 801.4,1309.7 801.4,1310.7 802.6,1310.7 802.6,1310.6 803.8,1310.6 803.8,1310.3 805,1310.3 805,1312.2 806.2,1312.2 806.2,1311.3 807.4,1311.3 807.4,1311.3 808.6,1311.3 808,1312.8" fill="#a644b8"/>
<polygon points="880,1312.8 880,1312.5 881.2,1312.5 881.2,1310.7 882.4,1310.7 882.4,1308.8 883.6,1308.8 883.6,1311.7 884.8,1311.7 884.8,1312.3 886,1312.3 886,1311.5 887.2,1311.5 887.2,1312 888.4,1312 888.4,1312.4 889.6,1312.4 889.6,1312 890.8,1312 890.8,1312.2 892,1312.2 892,1312 893.2,1312 893.2,1308.4 894.4,1308.4 894.4,1309.9 895.6,1309.9 895.6,1310.7 896.8,1310.7 896.8,1308.7 898,1308.7 898,1309.2 899.2,1309.2 899.2,1307.1 900.4,1307.1 900.4,1308.7 901.6,1308.7 901.6,1307.5 902.8,1307.5 902.8,1307.5 904,1307.5 904,1306.5 905.2,1306.5 905.2,1305.7 906.4,1305.7 906.4,1308.2 907.6,1308.2 907.6,1309.4 908.8,1309.4 908.8,1308.1 910,1308.1 910,1310.1 911.2,1310.1 911.2,1309.6 912.4,1309.6 912.4,1309.9 913.6,1309.9 913.6,1307.3 914.8,1307.3 914.8,1310.7 916,1310.7 916,1311.8 917.2,1311.8 917.2,1311.8 918.4,1311.8 918.4,1312.2 919.6,1312.2 919.6,1311.9 920.8,1311.9 920.8,1310.2 922,1310.2 922,1310.2 923.2,1310.2 923.2,1309.9 924.4,1309.9 924.4,1309.3 925.6,1309.3 925.6,1309.4 926.8,1309.4 926.8,1305.9 928,1305.9 928,1305.3 929.2,1305.3 929.2,1305 930.4,1305 930.4,1303.7 931.6,1303.7 931.6,1307.6 932.8,1307.6 932.8,1306 934,1306 934,1307.3 935.2,1307.3 935.2,1308.9 936.4,1308.9 936.4,1308.1 937.6,1308.1 937.6,1311.1 938.8,1311.1 938.8,1311.7 940,1311.7 940,1308.8 941.2,1308.8 941.2,1309.9 942.4,1309.9 942.4,1310.4 943.6,1310.4 943.6,1312.6 944.8,1312.6 944.8,1309.9 946,1309.9 946,1309 947.2,1309 947.2,1310.7 948.4,1310.7 948.4,1309.5 949.6,1309.5 949.6,1312.4 950.8,1312.4 950.8,1311.9 952,1311.9 952,1311.8 953.2,1311.8 953.2,1309.1 954.4,1309.1 954.4,1306.3 955.6,1306.3 955.6,1306.7 956.8,1306.7 956.8,1304.6 958,1304.6 958,1303.8 959.2,1303.8 959.2,1300 960.4,1300 960.4,1300.5 961.6,1300.5 961.6,1303 962.8,1303 962.8,1302.9 964,1302.9 964,1306.1 965.2,1306.1 965.2,1309.2 966.4,1309.2 966.4,1310.5 967.6,1310.5 967.6,1308.7 968.8,1308.7 968.8,1309.4 970,1309.4 970,1309 971.2,1309 971.2,1305.5 972.4,1305.5 972.4,1306.6 973.6,1306.6 973.6,1308 974.8,1308 974.8,1305.6 976,1305.6 976,1305.2 977.2,1305.2 977.2,1305.6 978.4,1305.6 978.4,1306.9 979.6,1306.9 979.6,1307.4 980.8,1307.4 980.8,1308.2 982,1308.2 982,1309.6 983.2,1309.6 983.2,1311.3 984.4,1311.3 984.4,1312 985.6,1312 985.6,1311.2 986.8,1311.2 986.8,1311.5 988,1311.5 988,1310.4 989.2,1310.4 989.2,1309 990.4,1309 990.4,1308.2 991.6,1308.2 991.6,1309.1 992.8,1309.1 992.8,1309.2 994,1309.2 994,1305.3 995.2,1305.3 995.2,1308.6 996.4,1308.6 996.4,1306.1 997.6,1306.1 997.6,1304.7 998.8,1304.7 998.8,1304.6 1000,1304.6 1000,1305.4 1001.2,1305.4 1001.2,1302.5 1002.4,1302.5 1002.4,1304.8 1003.6,1304.8 1003.6,1304.8 1004.8,1304.8 1004.8,1308.1 1006,1308.1 1006,1304.4 1007.2,1304.4 1007.2,1305.9 1008.4,1305.9 1008.4,1309.6 1009.6,1309.6 1009.6,1309.1 1010.8,1309.1 1010.8,1310 1012,1310 1012,1310.9 1013.2,1310.9 1013.2,1311.6 1014.4,1311.6 1014.4,1312.1 1015.6,1312.1 1015.6,1312.1 1016.8,1312.1 1016.8,1309.3 1018,1309.3 1018,1311.1 1019.2,1311.1 1019.2,1307.9 1020.4,1307.9 1020.4,1310.6 1021.6,1310.6 1021.6,1308.9 1022.8,1308.9 1022.8,1306.7 1024,1306.7 1024,1306.5 1025.2,1306.5 1025.2,1306.9 1026.4,1306.9 1026.4,1308.3 1027.6,1308.3 1027.6,1305.8 1028.8,1305.8 1028.8,1302.8 1030,1302.8 1030,1303.1 1031.2,1303.1 1031.2,1303.5 1032.4,1303.5 1032.4,1303.9 1033.6,1303.9 1033.6,1305.8 1034.8,1305.8 1034.8,1305.1 1036,1305.1 1036,1305.3 1037.2,1305.3 1037.2,1308.9 1038.4,1308.9 1038.4,1308.8 1039.6,1308.8 1039.6,1308.5 1040.8,1308.5 1040.8,1311.5 1042,1311.5 1042,1307.9 1043.2,1307.9 1043.2,1308.2 1044.4,1308.2 1044.4,1307.9 1045.6,1307.9 1045.6,1309.3 1046.8,1309.3 1046.8,1308.9 1048,1308.9 1048,1305.8 1049.2,1305.8 1049.2,1306.4 1050.4,1306.4 1050.4,1304.7 1051.6,1304.7 1051.6,1303.8 1052.8,1303.8 1052.8,1307.5 1054,1307.5 1054,1304 1055.2,1304 1055.2,1302.8 1056.4,1302.8 1056.4,1302.9 1057.6,1302.9 1057.6,1306.1 1058.8,1306.1 1058.8,1304 1060,1304 1060,1305.9 1061.2,1305.9 1061.2,1306.1 1062.4,1306.1 1062.4,1304.3 1063.6,1304.3 1063.6,1306 1064.8,1306 1064.8,1310.1 1066,1310.1 1066,1309.3 1067.2,1309.3 1067.2,1309.2 1068.4,1309.2 1068.4,1311.8 1069.6,1311.8 1069.6,1311.4 1070.8,1311.4 1070.8,1312.3 1072,1312.3 1072,1311.7 1073.2,1311.7 1073.2,1309.5 1074.4,1309.5 1074.4,1312.6 1075.6,1312.6 1075,1312.8" fill="#a644b8"/>
<polygon points="1068,1312.8 1068,1309.6 1069.2,1309.6 1069.2,1307.7 1070.4,1307.7 1070.4,1303 1071.6,1303 1071.6,1295.7 1072.8,1295.7 1072.8,1290.1 1074,1290.1 1074,1286.7 1075.2,1286.7 1075.2,1289.1 1076.4,1289.1 1076.4,1292.5 1077.6,1292.5 1077.6,1269.9 1078.8,1269.9 1078.8,1276.7 1080,1276.7 1080,1284.6 1081.2,1284.6 1081.2,1268.5 1082.4,1268.5 1082.4,1260.8 1083.6,1260.8 1083.6,1260.8 1084.8,1260.8 1084.8,1260.8 1086,1260.8 1086,1260.8 1087.2,1260.8 1087.2,1260.8 1088.4,1260.8 1088.4,1260.8 1089.6,1260.8 1089.6,1260.8 1090.8,1260.8 1090.8,1260.8 1092,1260.8 1092,1260.8 1093.2,1260.8 1093.2,1260.8 1094.4,1260.8 1094.4,1260.8 1095.6,1260.8 1095.6,1260.8 1096.8,1260.8 1096.8,1260.8 1098,1260.8 1098,1260.8 1099.2,1260.8 1099.2,1260.8 1100.4,1260.8 1100.4,1260.8 1101.6,1260.8 1101.6,1260.8 1102.8,1260.8 1102.8,1260.8 1104,1260.8 1104,1263 1105.2,1263 1105.2,1275 1106.4,1275 1106.4,1286.3 1107.6,1286.3 1107.6,1271.1 1108.8,1271.1 1108.8,1268.3 1110,1268.3 1110,1273.1 1111.2,1273.1 1111.2,1297.4 1112.4,1297.4 1112.4,1293.5 1113.6,1293.5 1113.6,1295.8 1114.8,1295.8 1114.8,1296.5 1116,1296.5 1116,1301.1 1117.2,1301.1 1117.2,1305.2 1118.4,1305.2 1118.4,1308.4 1119.6,1308.4 1119.6,1305.6 1120.8,1305.6 1120.8,1306.3 1122,1306.3 1122,1309.4 1123.2,1309.4 1123,1312.8" fill="#a644b8"/>
<rect x="1082.4" y="1260.8" width="21.6" height="3.5" fill="#a644b8"/>
<rect x="304" y="1365.9" width="819" height="2.4" fill="#c0b8e8"/>
<rect x="304" y="1365.9" width="8.7" height="3.6" fill="#c24bae"/>
<rect x="313.2" y="1365.9" width="15.4" height="3.6" fill="#c24bae"/>
<rect x="341.8" y="1365.9" width="17.1" height="3.6" fill="#c24bae"/>
<rect x="359" y="1365.9" width="17.9" height="3.6" fill="#c24bae"/>
<rect x="379" y="1365.9" width="20.7" height="3.6" fill="#c24bae"/>
<rect x="401.9" y="1365.9" width="18.2" height="3.6" fill="#c24bae"/>
<rect x="423.3" y="1365.9" width="10.2" height="3.6" fill="#c24bae"/>
<rect x="435.4" y="1365.9" width="18.9" height="3.6" fill="#c24bae"/>
<rect x="477.4" y="1365.9" width="8.6" height="3.6" fill="#c24bae"/>
<rect x="486.4" y="1365.9" width="13.9" height="3.6" fill="#c24bae"/>
<rect x="500.5" y="1365.9" width="13.6" height="3.6" fill="#c24bae"/>
<rect x="516.6" y="1365.9" width="15" height="3.6" fill="#c24bae"/>
<rect x="559.3" y="1365.9" width="8.6" height="3.6" fill="#c24bae"/>
<rect x="568.7" y="1365.9" width="20.9" height="3.6" fill="#c24bae"/>
<rect x="592.3" y="1365.9" width="16.9" height="3.6" fill="#c24bae"/>
<rect x="609.6" y="1365.9" width="15.9" height="3.6" fill="#c24bae"/>
<rect x="626.5" y="1365.9" width="7.5" height="3.6" fill="#c24bae"/>
<rect x="637.2" y="1365.9" width="4.3" height="3.6" fill="#c24bae"/>
<rect x="642.7" y="1365.9" width="11.9" height="3.6" fill="#c24bae"/>
<rect x="658.4" y="1365.9" width="13.2" height="3.6" fill="#c24bae"/>
<rect x="672.8" y="1365.9" width="19.9" height="3.6" fill="#c24bae"/>
<rect x="695.1" y="1365.9" width="5.8" height="3.6" fill="#c24bae"/>
<rect x="702.9" y="1365.9" width="9.8" height="3.6" fill="#c24bae"/>
<rect x="715.9" y="1365.9" width="16.2" height="3.6" fill="#c24bae"/>
<rect x="733.7" y="1365.9" width="18.9" height="3.6" fill="#c24bae"/>
<rect x="782.7" y="1365.9" width="15.7" height="3.6" fill="#c24bae"/>
<rect x="799.7" y="1365.9" width="17.7" height="3.6" fill="#c24bae"/>
<rect x="821.1" y="1365.9" width="16.9" height="3.6" fill="#c24bae"/>
<rect x="840.4" y="1365.9" width="15.3" height="3.6" fill="#c24bae"/>
<rect x="858.7" y="1365.9" width="1.3" height="3.6" fill="#c24bae"/>
<rect x="920.4" y="1365.9" width="16.4" height="3.6" fill="#c24bae"/>
<rect x="994.5" y="1365.9" width="17" height="3.6" fill="#c24bae"/>
<polygon points="348,1367.1 348,1366.9 349.2,1366.9 349.2,1365.2 350.4,1365.2 350.4,1364 351.6,1364 351.6,1364.7 352.8,1364.7 352.8,1362.8 354,1362.8 354,1359.7 355.2,1359.7 355.2,1358.5 356.4,1358.5 356.4,1360.5 357.6,1360.5 357.6,1361.8 358.8,1361.8 358.8,1360.4 360,1360.4 360,1360.5 361.2,1360.5 361.2,1356.6 362.4,1356.6 362.4,1360.1 363.6,1360.1 363.6,1360.1 364.8,1360.1 364.8,1361.1 366,1361.1 366,1360.8 367.2,1360.8 367.2,1362.1 368.4,1362.1 368.4,1363.2 369.6,1363.2 369.6,1365.6 370.8,1365.6 370.8,1363.8 372,1363.8 372,1360.6 373.2,1360.6 373.2,1354.3 374.4,1354.3 374.4,1351.1 375.6,1351.1 375.6,1355.4 376.8,1355.4 376.8,1361.7 378,1361.7 378,1365.4 379.2,1365.4 379.2,1366.6 380.4,1366.6 380.4,1367 381.6,1367 381.6,1367 382.8,1367 382,1367.1" fill="#c0b8e8"/>
<polygon points="505,1367.1 505,1365.2 506.2,1365.2 506.2,1367.1 507.4,1367.1 507.4,1366.5 508.6,1366.5 508.6,1366.4 509.8,1366.4 509.8,1366.3 511,1366.3 511,1366.6 512.2,1366.6 512.2,1365.4 513.4,1365.4 513.4,1365.1 514.6,1365.1 514.6,1361.2 515.8,1361.2 515.8,1346.1 517,1346.1 517,1342.2 518.2,1342.2 518.2,1340.6 519.4,1340.6 519.4,1342.8 520.6,1342.8 520.6,1355.8 521.8,1355.8 521.8,1360.4 523,1360.4 523,1343 524.2,1343 524.2,1330.2 525.4,1330.2 525.4,1328 526.6,1328 526.6,1348.1 527.8,1348.1 527.8,1355.5 529,1355.5 529,1353.8 530.2,1353.8 530.2,1346.1 531.4,1346.1 531.4,1349.9 532.6,1349.9 532.6,1347 533.8,1347 533.8,1348.9 535,1348.9 535,1355.2 536.2,1355.2 536.2,1356 537.4,1356 537.4,1361.8 538.6,1361.8 538.6,1363 539.8,1363 539.8,1360.8 541,1360.8 541,1359 542.2,1359 542.2,1359.1 543.4,1359.1 543.4,1361.2 544.6,1361.2 544.6,1360.6 545.8,1360.6 545.8,1361.8 547,1361.8 547,1364.8 548.2,1364.8 548.2,1366 549.4,1366 549.4,1366.5 550.6,1366.5 550,1367.1" fill="#c0b8e8"/>
<polygon points="680,1367.1 680,1366.3 681.2,1366.3 681.2,1365.6 682.4,1365.6 682.4,1364 683.6,1364 683.6,1364.4 684.8,1364.4 684.8,1363.1 686,1363.1 686,1363.3 687.2,1363.3 687.2,1365 688.4,1365 688.4,1364.3 689.6,1364.3 689.6,1366.4 690.8,1366.4 690.8,1366.4 692,1366.4 692,1367 693.2,1367 693.2,1367.1 694.4,1367.1 694.4,1366.5 695.6,1366.5 695.6,1366.8 696.8,1366.8 696.8,1365.2 698,1365.2 698,1366 699.2,1366 699.2,1364.1 700.4,1364.1 700.4,1364.9 701.6,1364.9 701.6,1363.7 702.8,1363.7 702.8,1363.8 704,1363.8 704,1362.2 705.2,1362.2 705.2,1361 706.4,1361 706.4,1363 707.6,1363 707.6,1362.2 708.8,1362.2 708.8,1364.6 710,1364.6 710,1365.3 711.2,1365.3 711.2,1364.8 712.4,1364.8 712.4,1365.3 713.6,1365.3 713.6,1366.6 714.8,1366.6 714.8,1365.5 716,1365.5 716,1366.7 717.2,1366.7 717.2,1366.2 718.4,1366.2 718.4,1367.1 719.6,1367.1 719.6,1367.1 720.8,1367.1 720.8,1367.1 722,1367.1 722,1367.1 723.2,1367.1 723.2,1366.8 724.4,1366.8 724.4,1366.2 725.6,1366.2 725,1367.1" fill="#c0b8e8"/>
<polygon points="768,1367.1 768,1366.9 769.2,1366.9 769.2,1365 770.4,1365 770.4,1367.1 771.6,1367.1 771.6,1366.9 772.8,1366.9 772.8,1366.9 774,1366.9 774,1366.1 775.2,1366.1 775.2,1366.4 776.4,1366.4 776.4,1365.7 777.6,1365.7 777.6,1364 778.8,1364 778.8,1362 780,1362 780,1357.9 781.2,1357.9 781.2,1358.3 782.4,1358.3 782.4,1353.9 783.6,1353.9 783.6,1355.9 784.8,1355.9 784.8,1358.6 786,1358.6 786,1360.4 787.2,1360.4 787.2,1360.3 788.4,1360.3 788.4,1357.9 789.6,1357.9 789.6,1358.9 790.8,1358.9 790.8,1357 792,1357 792,1358.4 793.2,1358.4 793.2,1360 794.4,1360 794.4,1361.3 795.6,1361.3 795.6,1360.7 796.8,1360.7 796.8,1363.9 798,1363.9 798,1361.1 799.2,1361.1 799.2,1359.5 800.4,1359.5 800.4,1359.4 801.6,1359.4 801.6,1361.3 802.8,1361.3 802.8,1360.8 804,1360.8 804,1365.2 805.2,1365.2 805.2,1364.8 806.4,1364.8 806.4,1366.5 807.6,1366.5 807.6,1365.3 808.8,1365.3 808.8,1366.9 810,1366.9 810,1367.1" fill="#c0b8e8"/>
<polygon points="850,1367.1 850,1362.3 851.2,1362.3 851.2,1364.1 852.4,1364.1 852.4,1366.8 853.6,1366.8 853.6,1366.4 854.8,1366.4 854.8,1366 856,1366 856,1366.2 857.2,1366.2 857.2,1366.1 858.4,1366.1 858.4,1362 859.6,1362 859.6,1365.5 860.8,1365.5 860.8,1364.7 862,1364.7 862,1363.6 863.2,1363.6 863.2,1363.8 864.4,1363.8 864.4,1363.8 865.6,1363.8 865.6,1365.1 866.8,1365.1 866.8,1364.7 868,1364.7 868,1360.8 869.2,1360.8 869.2,1364.9 870.4,1364.9 870.4,1361.4 871.6,1361.4 871.6,1363 872.8,1363 872.8,1360.7 874,1360.7 874,1362.8 875.2,1362.8 875.2,1361.4 876.4,1361.4 876.4,1361.9 877.6,1361.9 877.6,1361 878.8,1361 878.8,1362.1 880,1362.1 880,1360.6 881.2,1360.6 881.2,1359.2 882.4,1359.2 882.4,1359 883.6,1359 883.6,1361.8 884.8,1361.8 884.8,1361.6 886,1361.6 886,1363.3 887.2,1363.3 887.2,1362.6 888.4,1362.6 888.4,1363.6 889.6,1363.6 889.6,1364 890.8,1364 890.8,1364 892,1364 892,1365.5 893.2,1365.5 893.2,1364.2 894.4,1364.2 894.4,1365.3 895.6,1365.3 895.6,1366.1 896.8,1366.1 896.8,1365.3 898,1365.3 898,1365.6 899.2,1365.6 899.2,1365.7 900.4,1365.7 900.4,1361.2 901.6,1361.2 901.6,1365.5 902.8,1365.5 902.8,1364.7 904,1364.7 904,1364.5 905.2,1364.5 905.2,1363.6 906.4,1363.6 906.4,1361.7 907.6,1361.7 907.6,1364.4 908.8,1364.4 908.8,1362.8 910,1362.8 910,1361.7 911.2,1361.7 911.2,1358 912.4,1358 912.4,1362.2 913.6,1362.2 913.6,1356.8 914.8,1356.8 914.8,1358.4 916,1358.4 916,1358.2 917.2,1358.2 917.2,1357 918.4,1357 918.4,1352.3 919.6,1352.3 919.6,1356.7 920.8,1356.7 920.8,1357.7 922,1357.7 922,1357.3 923.2,1357.3 923.2,1357.3 924.4,1357.3 924.4,1359.1 925.6,1359.1 925.6,1358.6 926.8,1358.6 926.8,1360.6 928,1360.6 928,1361.2 929.2,1361.2 929.2,1362.3 930.4,1362.3 930.4,1363.7 931.6,1363.7 931.6,1358.9 932.8,1358.9 932.8,1362.7 934,1362.7 934,1363.2 935.2,1363.2 935.2,1364 936.4,1364 936.4,1359.9 937.6,1359.9 937.6,1365 938.8,1365 938.8,1366 940,1366 940,1364.2 941.2,1364.2 941.2,1365.7 942.4,1365.7 942.4,1365.3 943.6,1365.3 943.6,1364.7 944.8,1364.7 944.8,1360.9 946,1360.9 946,1364 947.2,1364 947.2,1361.3 948.4,1361.3 948.4,1363.1 949.6,1363.1 949.6,1363.8 950.8,1363.8 950.8,1360.2 952,1360.2 952,1360 953.2,1360 953.2,1360.1 954.4,1360.1 954.4,1359.5 955.6,1359.5 955.6,1359 956.8,1359 956.8,1359.4 958,1359.4 958,1358.3 959.2,1358.3 959.2,1361 960.4,1361 960.4,1362 961.6,1362 961.6,1357.5 962.8,1357.5 962.8,1358.2 964,1358.2 964,1355.2 965.2,1355.2 965.2,1358.7 966.4,1358.7 966.4,1361 967.6,1361 967.6,1357.7 968.8,1357.7 968.8,1360.8 970,1360.8 970,1361.3 971.2,1361.3 971.2,1362.5 972.4,1362.5 972.4,1359.3 973.6,1359.3 973.6,1362.5 974.8,1362.5 974.8,1364.3 976,1364.3 976,1360.7 977.2,1360.7 977.2,1365.5 978.4,1365.5 978.4,1365.8 979.6,1365.8 979.6,1366.3 980.8,1366.3 980.8,1365.9 982,1365.9 982,1365.3 983.2,1365.3 983.2,1365.5 984.4,1365.5 984.4,1362.2 985.6,1362.2 985.6,1359.9 986.8,1359.9 986.8,1363.4 988,1363.4 988,1363.7 989.2,1363.7 989.2,1360.8 990.4,1360.8 990.4,1362.4 991.6,1362.4 991.6,1359.3 992.8,1359.3 992.8,1359.5 994,1359.5 994,1359 995.2,1359 995.2,1357.9 996.4,1357.9 996.4,1352.9 997.6,1352.9 997.6,1355.9 998.8,1355.9 998.8,1360.5 1000,1360.5 1000,1356.9 1001.2,1356.9 1001.2,1359.3 1002.4,1359.3 1002.4,1357.2 1003.6,1357.2 1003.6,1360.3 1004.8,1360.3 1004.8,1358.6 1006,1358.6 1006,1359.2 1007.2,1359.2 1007.2,1358.3 1008.4,1358.3 1008.4,1359.8 1009.6,1359.8 1009.6,1361 1010.8,1361 1010.8,1359.8 1012,1359.8 1012,1363.5 1013.2,1363.5 1013.2,1363.4 1014.4,1363.4 1014.4,1360.7 1015.6,1360.7 1015.6,1363.7 1016.8,1363.7 1016.8,1365 1018,1365 1018,1366 1019.2,1366 1019.2,1365.1 1020.4,1365.1 1020.4,1363 1021.6,1363 1021.6,1360.5 1022.8,1360.5 1022.8,1365.6 1024,1365.6 1024,1361.5 1025.2,1361.5 1025.2,1360.4 1026.4,1360.4 1026.4,1361.6 1027.6,1361.6 1027.6,1361.7 1028.8,1361.7 1028.8,1357.7 1030,1357.7 1030,1362.6 1031.2,1362.6 1031.2,1362.5 1032.4,1362.5 1032.4,1357 1033.6,1357 1033.6,1358 1034.8,1358 1034.8,1356.7 1036,1356.7 1036,1357.6 1037.2,1357.6 1037.2,1351.5 1038.4,1351.5 1038.4,1355.3 1039.6,1355.3 1039.6,1358 1040.8,1358 1040.8,1356.6 1042,1356.6 1042,1358.2 1043.2,1358.2 1043.2,1352.7 1044.4,1352.7 1044.4,1360.1 1045.6,1360.1 1045.6,1356.8 1046.8,1356.8 1046.8,1359.5 1048,1359.5 1048,1359.2 1049.2,1359.2 1049.2,1361.7 1050.4,1361.7 1050.4,1361.2 1051.6,1361.2 1051.6,1363.4 1052.8,1363.4 1052.8,1361.9 1054,1361.9 1054,1360.1 1055.2,1360.1 1055.2,1359.7 1056.4,1359.7 1056.4,1359.1 1057.6,1359.1 1057.6,1356.7 1058.8,1356.7 1058.8,1353.5 1060,1353.5 1060,1357.7 1061.2,1357.7 1061.2,1357.9 1062.4,1357.9 1062.4,1350.8 1063.6,1350.8 1063.6,1357.6 1064.8,1357.6 1064.8,1355.7 1066,1355.7 1066,1356.1 1067.2,1356.1 1067.2,1354.3 1068.4,1354.3 1068.4,1359.5 1069.6,1359.5 1069.6,1362.4 1070.8,1362.4 1070.8,1364.9 1072,1364.9 1072,1364.9 1073.2,1364.9 1073.2,1366.3 1074.4,1366.3 1074.4,1365.9 1075.6,1365.9 1075,1367.1" fill="#c0b8e8"/>
<polygon points="1064,1367.1 1064,1364.8 1065.2,1364.8 1065.2,1365.9 1066.4,1365.9 1066.4,1364.1 1067.6,1364.1 1067.6,1359.3 1068.8,1359.3 1068.8,1356.6 1070,1356.6 1070,1353.1 1071.2,1353.1 1071.2,1352.7 1072.4,1352.7 1072.4,1353.1 1073.6,1353.1 1073.6,1358.1 1074.8,1358.1 1074.8,1358.4 1076,1358.4 1076,1347.2 1077.2,1347.2 1077.2,1335.6 1078.4,1335.6 1078.4,1332.8 1079.6,1332.8 1079.6,1340.5 1080.8,1340.5 1080.8,1317.6 1082,1317.6 1082,1317 1083.2,1317 1083.2,1315.5 1084.4,1315.5 1084.4,1315.5 1085.6,1315.5 1085.6,1315.5 1086.8,1315.5 1086.8,1315.5 1088,1315.5 1088,1315.5 1089.2,1315.5 1089.2,1315.5 1090.4,1315.5 1090.4,1315.5 1091.6,1315.5 1091.6,1315.5 1092.8,1315.5 1092.8,1315.5 1094,1315.5 1094,1315.5 1095.2,1315.5 1095.2,1315.5 1096.4,1315.5 1096.4,1315.5 1097.6,1315.5 1097.6,1315.5 1098.8,1315.5 1098.8,1315.5 1100,1315.5 1100,1315.5 1101.2,1315.5 1101.2,1315.5 1102.4,1315.5 1102.4,1315.5 1103.6,1315.5 1103.6,1324.1 1104.8,1324.1 1104.8,1338.2 1106,1338.2 1106,1338.9 1107.2,1338.9 1107.2,1315.5 1108.4,1315.5 1108.4,1315.5 1109.6,1315.5 1109.6,1315.5 1110.8,1315.5 1110.8,1344.9 1112,1344.9 1112,1359.2 1113.2,1359.2 1113.2,1354.7 1114.4,1354.7 1114.4,1352.3 1115.6,1352.3 1115.6,1349.8 1116.8,1349.8 1116.8,1350.6 1118,1350.6 1118,1353.4 1119.2,1353.4 1119.2,1355.4 1120.4,1355.4 1120.4,1359.1 1121.6,1359.1 1121.6,1358.3 1122.8,1358.3 1122.8,1360.7 1124,1360.7 1123,1367.1" fill="#c0b8e8"/>
<rect x="1083.2" y="1315.5" width="20.4" height="3.5" fill="#c24bae"/>
<rect x="1107.2" y="1315.5" width="3.6" height="3.5" fill="#c24bae"/>
<rect x="304" y="1419.6" width="7.7" height="2.4" fill="#e5467b"/>
<rect x="325.5" y="1419.6" width="7.5" height="2.4" fill="#e5467b"/>
<rect x="338" y="1419.6" width="6" height="2.4" fill="#e5467b"/>
<rect x="352" y="1419.6" width="8" height="2.4" fill="#e5467b"/>
<rect x="372" y="1419.6" width="148" height="2.4" fill="#e5467b"/>
<rect x="534" y="1419.6" width="4" height="2.4" fill="#e5467b"/>
<rect x="545" y="1419.6" width="3" height="2.4" fill="#e5467b"/>
<rect x="687.4" y="1419.6" width="2.6" height="2.4" fill="#e5467b"/>
<rect x="693" y="1419.6" width="8" height="2.4" fill="#e5467b"/>
<rect x="725" y="1419.6" width="5" height="2.4" fill="#e5467b"/>
<rect x="735" y="1419.6" width="14.4" height="2.4" fill="#e5467b"/>
<rect x="765" y="1419.6" width="13" height="2.4" fill="#e5467b"/>
<rect x="781" y="1419.6" width="5" height="2.4" fill="#e5467b"/>
<rect x="789" y="1419.6" width="48" height="2.4" fill="#e5467b"/>
<rect x="842.4" y="1419.6" width="265.2" height="2.4" fill="#e5467b"/>
<polygon points="810,1420.8 810,1420.3 811.2,1420.3 811.2,1419.9 812.4,1419.9 812.4,1416.6 813.6,1416.6 813.6,1415.6 814.8,1415.6 814.8,1415.3 816,1415.3 816,1411.9 817.2,1411.9 817.2,1414.8 818.4,1414.8 818.4,1407.2 819.6,1407.2 819.6,1413.9 820.8,1413.9 820.8,1405.5 822,1405.5 822,1413 823.2,1413 823.2,1414.3 824.4,1414.3 824.4,1412.9 825.6,1412.9 825.6,1411.4 826.8,1411.4 826.8,1411.2 828,1411.2 828,1416 829.2,1416 829.2,1406 830.4,1406 830.4,1405.2 831.6,1405.2 831.6,1412.3 832.8,1412.3 832.8,1418.6 834,1418.6 834,1420.6 835.2,1420.6 835.2,1420.5 836.4,1420.5 836,1420.8" fill="#e5467b"/>
<rect x="304" y="1473.8" width="3" height="2.4" fill="#a644b8"/>
<rect x="316" y="1473.8" width="6" height="2.4" fill="#a644b8"/>
<rect x="330" y="1473.8" width="3" height="2.4" fill="#a644b8"/>
<rect x="345" y="1473.8" width="7" height="2.4" fill="#a644b8"/>
<rect x="358" y="1473.8" width="4" height="2.4" fill="#a644b8"/>
<rect x="370" y="1473.8" width="152" height="2.4" fill="#a644b8"/>
<rect x="534" y="1473.8" width="6" height="2.4" fill="#a644b8"/>
<rect x="575.5" y="1473.8" width="3.5" height="2.4" fill="#a644b8"/>
<rect x="629" y="1473.8" width="3" height="2.4" fill="#a644b8"/>
<rect x="643" y="1473.8" width="3" height="2.4" fill="#a644b8"/>
<rect x="679" y="1473.8" width="2" height="2.4" fill="#a644b8"/>
<rect x="699.5" y="1473.8" width="5.1" height="2.4" fill="#a644b8"/>
<rect x="713" y="1473.8" width="4" height="2.4" fill="#a644b8"/>
<rect x="735.6" y="1473.8" width="6.4" height="2.4" fill="#a644b8"/>
<rect x="746" y="1473.8" width="6" height="2.4" fill="#a644b8"/>
<rect x="756" y="1473.8" width="7" height="2.4" fill="#a644b8"/>
<rect x="770" y="1473.8" width="344.5" height="2.4" fill="#a644b8"/>
<polygon points="810,1475 810,1474.5 811.2,1474.5 811.2,1473.4 812.4,1473.4 812.4,1470.9 813.6,1470.9 813.6,1470 814.8,1470 814.8,1465.9 816,1465.9 816,1469.5 817.2,1469.5 817.2,1465 818.4,1465 818.4,1466 819.6,1466 819.6,1466.7 820.8,1466.7 820.8,1461 822,1461 822,1464.9 823.2,1464.9 823.2,1466.5 824.4,1466.5 824.4,1469 825.6,1469 825.6,1465.3 826.8,1465.3 826.8,1464 828,1464 828,1471.5 829.2,1471.5 829.2,1451.4 830.4,1451.4 830.4,1450.8 831.6,1450.8 831.6,1461.8 832.8,1461.8 832.8,1472.5 834,1472.5 834,1474.7 835.2,1474.7 835.2,1474.9 836.4,1474.9 836,1475" fill="#a644b8"/>
<rect x="304" y="1528.4" width="9" height="2.4" fill="#c0b8e8"/>
<rect x="318" y="1528.4" width="3" height="2.4" fill="#c0b8e8"/>
<rect x="327" y="1528.4" width="3" height="2.4" fill="#c0b8e8"/>
<rect x="346" y="1528.4" width="176" height="2.4" fill="#c0b8e8"/>
<rect x="540" y="1528.4" width="5" height="2.4" fill="#c0b8e8"/>
<rect x="552" y="1528.4" width="3" height="2.4" fill="#c0b8e8"/>
<rect x="629" y="1528.4" width="5" height="2.4" fill="#c0b8e8"/>
<rect x="681" y="1528.4" width="12" height="2.4" fill="#c0b8e8"/>
<rect x="714" y="1528.4" width="5" height="2.4" fill="#c0b8e8"/>
<rect x="729" y="1528.4" width="19" height="2.4" fill="#c0b8e8"/>
<rect x="752" y="1528.4" width="14.6" height="2.4" fill="#c0b8e8"/>
<rect x="768" y="1528.4" width="344.8" height="2.4" fill="#c0b8e8"/>
<polygon points="810,1529.6 810,1528.8 811.2,1528.8 811.2,1527.7 812.4,1527.7 812.4,1526.1 813.6,1526.1 813.6,1521 814.8,1521 814.8,1513.4 816,1513.4 816,1519.5 817.2,1519.5 817.2,1516 818.4,1516 818.4,1513.2 819.6,1513.2 819.6,1503.9 820.8,1503.9 820.8,1504.8 822,1504.8 822,1513.6 823.2,1513.6 823.2,1517.5 824.4,1517.5 824.4,1519.6 825.6,1519.6 825.6,1511.7 826.8,1511.7 826.8,1513.1 828,1513.1 828,1523.3 829.2,1523.3 829.2,1495.3 830.4,1495.3 830.4,1503.1 831.6,1503.1 831.6,1510.1 832.8,1510.1 832.8,1527.2 834,1527.2 834,1529 835.2,1529 835.2,1529.2 836.4,1529.2 836,1529.6" fill="#c0b8e8"/>
<line x1="303.1" y1="1557.6" x2="529.4" y2="1557.6" stroke="#2c2878" stroke-width="2"/>
<path d="M309.6,1553.4L306.7,1557.6L309.6,1561.8M315,1553.4L312.1,1557.6L315,1561.8M320.4,1553.4L317.5,1557.6L320.4,1561.8M325.8,1553.4L322.9,1557.6L325.8,1561.8M331.2,1553.4L328.3,1557.6L331.2,1561.8M336.6,1553.4L333.7,1557.6L336.6,1561.8M342,1553.4L339.1,1557.6L342,1561.8M347.4,1553.4L344.5,1557.6L347.4,1561.8M352.8,1553.4L349.9,1557.6L352.8,1561.8M358.2,1553.4L355.3,1557.6L358.2,1561.8M363.6,1553.4L360.7,1557.6L363.6,1561.8M369,1553.4L366.1,1557.6L369,1561.8M374.4,1553.4L371.5,1557.6L374.4,1561.8M379.8,1553.4L376.9,1557.6L379.8,1561.8M385.2,1553.4L382.3,1557.6L385.2,1561.8M390.6,1553.4L387.7,1557.6L390.6,1561.8M396,1553.4L393.1,1557.6L396,1561.8M401.4,1553.4L398.5,1557.6L401.4,1561.8M406.8,1553.4L403.9,1557.6L406.8,1561.8M412.2,1553.4L409.3,1557.6L412.2,1561.8M417.6,1553.4L414.7,1557.6L417.6,1561.8M423,1553.4L420.1,1557.6L423,1561.8M428.4,1553.4L425.5,1557.6L428.4,1561.8M433.8,1553.4L430.9,1557.6L433.8,1561.8M439.2,1553.4L436.3,1557.6L439.2,1561.8M444.6,1553.4L441.7,1557.6L444.6,1561.8M450,1553.4L447.1,1557.6L450,1561.8M455.4,1553.4L452.5,1557.6L455.4,1561.8M460.8,1553.4L457.9,1557.6L460.8,1561.8M466.2,1553.4L463.3,1557.6L466.2,1561.8M471.6,1553.4L468.7,1557.6L471.6,1561.8M477,1553.4L474.1,1557.6L477,1561.8M482.4,1553.4L479.5,1557.6L482.4,1561.8M487.8,1553.4L484.9,1557.6L487.8,1561.8M493.2,1553.4L490.3,1557.6L493.2,1561.8M498.6,1553.4L495.7,1557.6L498.6,1561.8M504,1553.4L501.1,1557.6L504,1561.8M509.4,1553.4L506.5,1557.6L509.4,1561.8M514.8,1553.4L511.9,1557.6L514.8,1561.8M520.2,1553.4L517.3,1557.6L520.2,1561.8M525.6,1553.4L522.7,1557.6L525.6,1561.8" fill="none" stroke="#8f87d4" stroke-width="1.8"/>
<line x1="303.4" y1="1547.8" x2="303.4" y2="1567.9" stroke="#2c2878" stroke-width="3"/>
<line x1="373.7" y1="1547.8" x2="373.7" y2="1567.9" stroke="#2c2878" stroke-width="1.4"/>
<line x1="461.3" y1="1547.8" x2="461.3" y2="1567.9" stroke="#2c2878" stroke-width="1.4"/>
<line x1="516" y1="1547.8" x2="516" y2="1567.9" stroke="#2c2878" stroke-width="2.6"/>
<rect x="528" y="1552.6" width="2.6" height="10.4" fill="#2c2878"/>
<rect x="805.2" y="1552.2" width="23.5" height="11.4" fill="#2c2878"/>
<line x1="828.7" y1="1558" x2="1118" y2="1558" stroke="#2c2878" stroke-width="2"/>
<path d="M835.6,1553.8L832.7,1558L835.6,1562.2M841,1553.8L838.1,1558L841,1562.2M846.4,1553.8L843.5,1558L846.4,1562.2M851.8,1553.8L848.9,1558L851.8,1562.2M857.2,1553.8L854.3,1558L857.2,1562.2M862.6,1553.8L859.7,1558L862.6,1562.2M868,1553.8L865.1,1558L868,1562.2M873.4,1553.8L870.5,1558L873.4,1562.2M878.8,1553.8L875.9,1558L878.8,1562.2M884.2,1553.8L881.3,1558L884.2,1562.2M889.6,1553.8L886.7,1558L889.6,1562.2M895,1553.8L892.1,1558L895,1562.2M900.4,1553.8L897.5,1558L900.4,1562.2M905.8,1553.8L902.9,1558L905.8,1562.2M911.2,1553.8L908.3,1558L911.2,1562.2M916.6,1553.8L913.7,1558L916.6,1562.2M922,1553.8L919.1,1558L922,1562.2M927.4,1553.8L924.5,1558L927.4,1562.2M932.8,1553.8L929.9,1558L932.8,1562.2M938.2,1553.8L935.3,1558L938.2,1562.2M943.6,1553.8L940.7,1558L943.6,1562.2M949,1553.8L946.1,1558L949,1562.2M954.4,1553.8L951.5,1558L954.4,1562.2M959.8,1553.8L956.9,1558L959.8,1562.2M965.2,1553.8L962.3,1558L965.2,1562.2M970.6,1553.8L967.7,1558L970.6,1562.2M976,1553.8L973.1,1558L976,1562.2M981.4,1553.8L978.5,1558L981.4,1562.2M986.8,1553.8L983.9,1558L986.8,1562.2M992.2,1553.8L989.3,1558L992.2,1562.2M997.6,1553.8L994.7,1558L997.6,1562.2M1003,1553.8L1000.1,1558L1003,1562.2M1008.4,1553.8L1005.5,1558L1008.4,1562.2M1013.8,1553.8L1010.9,1558L1013.8,1562.2M1019.2,1553.8L1016.3,1558L1019.2,1562.2M1024.6,1553.8L1021.7,1558L1024.6,1562.2M1030,1553.8L1027.1,1558L1030,1562.2M1035.4,1553.8L1032.5,1558L1035.4,1562.2M1040.8,1553.8L1037.9,1558L1040.8,1562.2M1046.2,1553.8L1043.3,1558L1046.2,1562.2M1051.6,1553.8L1048.7,1558L1051.6,1562.2M1057,1553.8L1054.1,1558L1057,1562.2M1062.4,1553.8L1059.5,1558L1062.4,1562.2M1067.8,1553.8L1064.9,1558L1067.8,1562.2M1073.2,1553.8L1070.3,1558L1073.2,1562.2M1078.6,1553.8L1075.7,1558L1078.6,1562.2M1084,1553.8L1081.1,1558L1084,1562.2M1089.4,1553.8L1086.5,1558L1089.4,1562.2M1094.8,1553.8L1091.9,1558L1094.8,1562.2M1100.2,1553.8L1097.3,1558L1100.2,1562.2M1105.6,1553.8L1102.7,1558L1105.6,1562.2M1111,1553.8L1108.1,1558L1111,1562.2M1116.4,1553.8L1113.5,1558L1116.4,1562.2" fill="none" stroke="#8f87d4" stroke-width="1.8"/>
<line x1="828.7" y1="1547.5" x2="828.7" y2="1568" stroke="#2c2878" stroke-width="2.2"/>
<line x1="867.2" y1="1547.5" x2="867.2" y2="1568" stroke="#2c2878" stroke-width="2.2"/>
<line x1="898.2" y1="1547.5" x2="898.2" y2="1568" stroke="#2c2878" stroke-width="1.5"/>
<line x1="923.4" y1="1547.5" x2="923.4" y2="1568" stroke="#2c2878" stroke-width="1.5"/>
<line x1="954.4" y1="1547.5" x2="954.4" y2="1568" stroke="#2c2878" stroke-width="2.2"/>
<line x1="1118" y1="1547.5" x2="1118" y2="1568" stroke="#2c2878" stroke-width="1.5"/>
<text x="709" y="1562.5" font-size="24" fill="#2e1f6b" font-style="italic">Sinhcaf</text>
<rect x="566.2" y="1576.3" width="18.6" height="11.4" fill="#978dd6"/>
<line x1="734" y1="1582" x2="765" y2="1582" stroke="#978dd6" stroke-width="1.5"/>
<path d="M741.6,1577.8L738.7,1582L741.6,1586.2M747,1577.8L744.1,1582L747,1586.2M752.4,1577.8L749.5,1582L752.4,1586.2M757.8,1577.8L754.9,1582L757.8,1586.2M763.2,1577.8L760.3,1582L763.2,1586.2" fill="none" stroke="#978dd6" stroke-width="1.8"/>
<line x1="734" y1="1576.5" x2="734" y2="1587.5" stroke="#978dd6" stroke-width="1.6"/>
<rect x="765" y="1576.3" width="34.4" height="11.4" fill="#978dd6"/>
<rect x="1099" y="1576.3" width="19" height="11.4" fill="#978dd6"/>
<line x1="1118" y1="1582" x2="1125" y2="1582" stroke="#978dd6" stroke-width="1.5"/>
<line x1="1125" y1="1576.5" x2="1125" y2="1587.5" stroke="#978dd6" stroke-width="1.6"/>
<text x="-0.5" y="1633" font-size="48" fill="#111">f</text>
<text x="476" y="1633.6" font-size="24" fill="#111">10kb</text>
<line x1="542.5" y1="1627.2" x2="781" y2="1627.2" stroke="#111" stroke-width="3"/>
<rect x="541" y="1621.5" width="3.2" height="11.5" fill="#111"/>
<rect x="779.5" y="1621.5" width="3.2" height="11.5" fill="#111"/>
<text x="806" y="1635.3" font-size="24" fill="#111">chr6:119,456,133-119,493,923</text>
<text x="241" y="1655" font-size="24" fill="#111">GLN insertion in PB14</text>
<rect x="785" y="1691.4" width="57" height="376" fill="#fdeed9"/>
<rect x="301.4" y="1664.6" width="116" height="13.8" fill="#0a0a0a"/>
<polyline points="301.4,1678.4 359.2,1705 417.4,1678.4" fill="none" stroke="#111" stroke-width="2"/>
<line x1="359.1" y1="1704.8" x2="359.1" y2="2062.5" stroke="#111" stroke-width="2.3" stroke-dasharray="16.5 16.1" stroke-dashoffset="9.6"/>
<rect x="62" y="1701.6" width="196.3" height="153.3" fill="#ececec"/>
<rect x="62" y="1860" width="196.3" height="148.8" fill="#ececec"/>
<rect x="53.4" y="1701.6" width="4.5" height="153.3" fill="#111"/>
<rect x="53.4" y="1860" width="4.5" height="148.8" fill="#111"/>
<text x="40.5" y="1774.5" font-size="31.5" fill="#111" text-anchor="middle" transform="rotate(-90 40.5 1774.5)">H3K27ac</text>
<text x="39" y="1928.8" font-size="31.5" fill="#111" text-anchor="middle" transform="rotate(-90 39 1928.8)">RNA-seq</text>
<text x="152.8" y="1735" font-size="24" fill="#d8291f" text-anchor="middle">J1</text>
<text x="152.9" y="1787.7" font-size="24" fill="#6c18a4" text-anchor="middle">J1 - PB1</text>
<text x="152" y="1839.4" font-size="24" fill="#d08cda" text-anchor="middle">J1 - PB14</text>
<text x="160.5" y="1889.3" font-size="24" fill="#d8291f" text-anchor="middle">J1 + strand</text>
<text x="160.2" y="1939.3" font-size="24" fill="#6c18a4" text-anchor="middle">J1-PB1 + strand</text>
<text x="160.6" y="1989.9" font-size="24" fill="#d08cda" text-anchor="middle">J1-PB14 + strand</text>
<text x="159.5" y="2047.7" font-size="24" fill="#3c2586" text-anchor="middle">GENCODE VM20</text>
<text x="259.3" y="1717.6" font-size="20.5" fill="#e5467b">70</text>
<text x="287" y="1717.6" font-size="20.5" fill="#e5467b">-</text>
<text x="264.8" y="1751.6" font-size="20.5" fill="#e5467b">0</text>
<line x1="281.9" y1="1755" x2="293.2" y2="1755" stroke="#e5467b" stroke-width="1.6"/>
<text x="259.3" y="1768.1" font-size="20.5" fill="#a644b8">70</text>
<text x="287" y="1768.1" font-size="20.5" fill="#a644b8">-</text>
<text x="264.8" y="1802.2" font-size="20.5" fill="#a644b8">0</text>
<line x1="281.9" y1="1805.5" x2="293.2" y2="1805.5" stroke="#a644b8" stroke-width="1.6"/>
<text x="259.3" y="1818.7" font-size="20.5" fill="#c0b8e8">70</text>
<text x="287" y="1818.7" font-size="20.5" fill="#c0b8e8">-</text>
<text x="264.8" y="1852.7" font-size="20.5" fill="#c0b8e8">0</text>
<line x1="281.9" y1="1856.4" x2="293.2" y2="1856.4" stroke="#c0b8e8" stroke-width="1.6"/>
<text x="268.8" y="1869.2" font-size="20.5" fill="#e5467b">5</text>
<text x="285.6" y="1869.2" font-size="20.5" fill="#e5467b">-</text>
<text x="264.8" y="1903.6" font-size="20.5" fill="#e5467b">0</text>
<line x1="281.9" y1="1906.9" x2="293.2" y2="1906.9" stroke="#e5467b" stroke-width="1.6"/>
<text x="268.8" y="1919.7" font-size="20.5" fill="#a644b8">5</text>
<text x="285.6" y="1919.7" font-size="20.5" fill="#a644b8">-</text>
<text x="264.3" y="1954" font-size="24.5" fill="#a644b8">0</text>
<line x1="285.2" y1="1957.8" x2="298.7" y2="1957.8" stroke="#a644b8" stroke-width="2.2"/>
<text x="268.8" y="1970.3" font-size="20.5" fill="#c0b8e8">5</text>
<text x="285.6" y="1970.3" font-size="20.5" fill="#c0b8e8">-</text>
<text x="264.8" y="2004" font-size="20.5" fill="#c0b8e8">0</text>
<line x1="281.9" y1="2007.6" x2="293.2" y2="2007.6" stroke="#c0b8e8" stroke-width="1.6"/>
<rect x="294.5" y="1750.3" width="819.1" height="2.4" fill="#e5467b"/>
<rect x="294.5" y="1750.3" width="12.9" height="3.4" fill="#c24bae"/>
<rect x="308.1" y="1750.3" width="5.6" height="3.4" fill="#c24bae"/>
<rect x="315.2" y="1750.3" width="8.6" height="3.4" fill="#c24bae"/>
<rect x="323.8" y="1750.3" width="9.9" height="3.4" fill="#c24bae"/>
<rect x="334.5" y="1750.3" width="10.9" height="3.4" fill="#c24bae"/>
<rect x="346.3" y="1750.3" width="14.3" height="3.4" fill="#c24bae"/>
<rect x="360.8" y="1750.3" width="9" height="3.4" fill="#c24bae"/>
<rect x="370.9" y="1750.3" width="3.5" height="3.4" fill="#c24bae"/>
<rect x="374.8" y="1750.3" width="9.1" height="3.4" fill="#c24bae"/>
<rect x="389.4" y="1750.3" width="13" height="3.4" fill="#c24bae"/>
<rect x="408.3" y="1750.3" width="4.7" height="3.4" fill="#c24bae"/>
<rect x="420.3" y="1750.3" width="11.5" height="3.4" fill="#c24bae"/>
<rect x="446.9" y="1750.3" width="7.5" height="3.4" fill="#c24bae"/>
<rect x="454.7" y="1750.3" width="8" height="3.4" fill="#c24bae"/>
<rect x="463.6" y="1750.3" width="7.5" height="3.4" fill="#c24bae"/>
<rect x="472.1" y="1750.3" width="7.5" height="3.4" fill="#c24bae"/>
<rect x="481.1" y="1750.3" width="10.6" height="3.4" fill="#c24bae"/>
<rect x="493.3" y="1750.3" width="15.6" height="3.4" fill="#c24bae"/>
<rect x="515.1" y="1750.3" width="14.2" height="3.4" fill="#c24bae"/>
<rect x="530.9" y="1750.3" width="6.9" height="3.4" fill="#c24bae"/>
<rect x="539.3" y="1750.3" width="4.7" height="3.4" fill="#c24bae"/>
<rect x="544.9" y="1750.3" width="4.7" height="3.4" fill="#c24bae"/>
<rect x="549.7" y="1750.3" width="7.5" height="3.4" fill="#c24bae"/>
<rect x="557.9" y="1750.3" width="10.9" height="3.4" fill="#c24bae"/>
<rect x="568.9" y="1750.3" width="10.4" height="3.4" fill="#c24bae"/>
<rect x="579.3" y="1750.3" width="3.8" height="3.4" fill="#c24bae"/>
<rect x="584.6" y="1750.3" width="9.5" height="3.4" fill="#c24bae"/>
<rect x="594.4" y="1750.3" width="11.9" height="3.4" fill="#c24bae"/>
<rect x="606.6" y="1750.3" width="9.1" height="3.4" fill="#c24bae"/>
<rect x="616.5" y="1750.3" width="12.8" height="3.4" fill="#c24bae"/>
<rect x="630.6" y="1750.3" width="6" height="3.4" fill="#c24bae"/>
<rect x="637.4" y="1750.3" width="10.8" height="3.4" fill="#c24bae"/>
<rect x="649" y="1750.3" width="11.1" height="3.4" fill="#c24bae"/>
<rect x="660.9" y="1750.3" width="3.3" height="3.4" fill="#c24bae"/>
<rect x="665.7" y="1750.3" width="11.4" height="3.4" fill="#c24bae"/>
<rect x="678.5" y="1750.3" width="12" height="3.4" fill="#c24bae"/>
<rect x="691.1" y="1750.3" width="14.4" height="3.4" fill="#c24bae"/>
<rect x="706.2" y="1750.3" width="7.8" height="3.4" fill="#c24bae"/>
<rect x="714.4" y="1750.3" width="10.8" height="3.4" fill="#c24bae"/>
<rect x="726.5" y="1750.3" width="8.8" height="3.4" fill="#c24bae"/>
<rect x="743.5" y="1750.3" width="6.9" height="3.4" fill="#c24bae"/>
<rect x="751.7" y="1750.3" width="8.3" height="3.4" fill="#c24bae"/>
<rect x="765.1" y="1750.3" width="3.4" height="3.4" fill="#c24bae"/>
<rect x="783.3" y="1750.3" width="3.9" height="3.4" fill="#c24bae"/>
<rect x="852.5" y="1750.3" width="3.7" height="3.4" fill="#c24bae"/>
<rect x="864.6" y="1750.3" width="4.4" height="3.4" fill="#c24bae"/>
<rect x="872.1" y="1750.3" width="6.1" height="3.4" fill="#c24bae"/>
<rect x="929.9" y="1750.3" width="4" height="3.4" fill="#c24bae"/>
<rect x="974.4" y="1750.3" width="2.3" height="3.4" fill="#c24bae"/>
<rect x="977.6" y="1750.3" width="4.9" height="3.4" fill="#c24bae"/>
<rect x="990" y="1750.3" width="7.9" height="3.4" fill="#c24bae"/>
<rect x="998.2" y="1750.3" width="6.4" height="3.4" fill="#c24bae"/>
<rect x="1005.2" y="1750.3" width="14.7" height="3.4" fill="#c24bae"/>
<rect x="1020.1" y="1750.3" width="7.5" height="3.4" fill="#c24bae"/>
<rect x="1028.3" y="1750.3" width="9.6" height="3.4" fill="#c24bae"/>
<rect x="1038.3" y="1750.3" width="11.3" height="3.4" fill="#c24bae"/>
<rect x="1049.6" y="1750.3" width="5" height="3.4" fill="#c24bae"/>
<rect x="1071.1" y="1750.3" width="10.1" height="3.4" fill="#c24bae"/>
<rect x="1082.3" y="1750.3" width="6.9" height="3.4" fill="#c24bae"/>
<rect x="1089.4" y="1750.3" width="7.3" height="3.4" fill="#c24bae"/>
<rect x="1098.2" y="1750.3" width="5.7" height="3.4" fill="#c24bae"/>
<rect x="1104" y="1750.3" width="3.8" height="3.4" fill="#c24bae"/>
<polygon points="785,1751.5 785,1751.1 786,1751.1 786,1750.4 787,1750.4 787,1751.5 788,1751.5 788,1750.8 789,1750.8 789,1751.5 790,1751.5 790,1750.4 791,1750.4 791,1750.8 792,1750.8 792,1750.7 793,1750.7 793,1750.5 794,1750.5 794,1751.5 795,1751.5 795,1751.5 796,1751.5 796,1751.4 797,1751.4 797,1751.5 798,1751.5 798,1750.3 799,1750.3 799,1751.5 800,1751.5 800,1751.5 801,1751.5 801,1750.9 802,1750.9 802,1746 803,1746 803,1736.4 804,1736.4 804,1728.2 805,1728.2 805,1709.7 806,1709.7 806,1708.3 807,1708.3 807,1705.7 808,1705.7 808,1712.4 809,1712.4 809,1735.2 810,1735.2 810,1745.7 811,1745.7 811,1741.6 812,1741.6 812,1734 813,1734 813,1731.5 814,1731.5 814,1737.5 815,1737.5 815,1740.3 816,1740.3 816,1744.9 817,1744.9 817,1741.2 818,1741.2 818,1739.2 819,1739.2 819,1737.8 820,1737.8 820,1736.9 821,1736.9 821,1738 822,1738 822,1741.9 823,1741.9 823,1743.2 824,1743.2 824,1744 825,1744 825,1746.1 826,1746.1 826,1745.5 827,1745.5 827,1746.4 828,1746.4 828,1743.6 829,1743.6 829,1743.1 830,1743.1 830,1743.4 831,1743.4 831,1744.3 832,1744.3 832,1744.5 833,1744.5 833,1746.6 834,1746.6 834,1746.9 835,1746.9 835,1747.6 836,1747.6 836,1748.7 837,1748.7 837,1748.1 838,1748.1 838,1748 839,1748 839,1747.8 840,1747.8 840,1748.4 841,1748.4 841,1749.2 842,1749.2 842,1749.9 843,1749.9 843,1749.9 844,1749.9 844,1751 845,1751 845,1750.9 846,1750.9 846,1751.4 847,1751.4 847,1751.4 848,1751.4 848,1750.2 849,1750.2 849,1751.4 850,1751.4 850,1750.9 851,1750.9 850,1751.5" fill="#e5467b"/>
<rect x="294.5" y="1801.1" width="835.5" height="2.4" fill="#a644b8"/>
<rect x="294.5" y="1801.1" width="3.1" height="3.4" fill="#c24bae"/>
<rect x="298.9" y="1801.1" width="11.3" height="3.4" fill="#c24bae"/>
<rect x="311.2" y="1801.1" width="5" height="3.4" fill="#c24bae"/>
<rect x="328.2" y="1801.1" width="12.1" height="3.4" fill="#c24bae"/>
<rect x="340.5" y="1801.1" width="15.6" height="3.4" fill="#c24bae"/>
<rect x="357.7" y="1801.1" width="14.3" height="3.4" fill="#c24bae"/>
<rect x="373" y="1801.1" width="11.5" height="3.4" fill="#c24bae"/>
<rect x="384.9" y="1801.1" width="5.5" height="3.4" fill="#c24bae"/>
<rect x="390.9" y="1801.1" width="15.5" height="3.4" fill="#c24bae"/>
<rect x="407.5" y="1801.1" width="15.9" height="3.4" fill="#c24bae"/>
<rect x="424" y="1801.1" width="15.3" height="3.4" fill="#c24bae"/>
<rect x="453.8" y="1801.1" width="7.7" height="3.4" fill="#c24bae"/>
<rect x="462" y="1801.1" width="5.4" height="3.4" fill="#c24bae"/>
<rect x="467.8" y="1801.1" width="11.6" height="3.4" fill="#c24bae"/>
<rect x="480.7" y="1801.1" width="12.3" height="3.4" fill="#c24bae"/>
<rect x="493.9" y="1801.1" width="10.8" height="3.4" fill="#c24bae"/>
<rect x="534.4" y="1801.1" width="8.5" height="3.4" fill="#c24bae"/>
<rect x="571.5" y="1801.1" width="7.9" height="3.4" fill="#c24bae"/>
<rect x="580.3" y="1801.1" width="5" height="3.4" fill="#c24bae"/>
<rect x="585.9" y="1801.1" width="3.7" height="3.4" fill="#c24bae"/>
<rect x="590.9" y="1801.1" width="15.4" height="3.4" fill="#c24bae"/>
<rect x="607.6" y="1801.1" width="11.6" height="3.4" fill="#c24bae"/>
<rect x="619.7" y="1801.1" width="5.5" height="3.4" fill="#c24bae"/>
<rect x="626.5" y="1801.1" width="10.2" height="3.4" fill="#c24bae"/>
<rect x="636.8" y="1801.1" width="11.7" height="3.4" fill="#c24bae"/>
<rect x="649.5" y="1801.1" width="6.5" height="3.4" fill="#c24bae"/>
<rect x="657.1" y="1801.1" width="6.2" height="3.4" fill="#c24bae"/>
<rect x="664.5" y="1801.1" width="4.3" height="3.4" fill="#c24bae"/>
<rect x="669.2" y="1801.1" width="14.1" height="3.4" fill="#c24bae"/>
<rect x="700.7" y="1801.1" width="5.4" height="3.4" fill="#c24bae"/>
<rect x="706.3" y="1801.1" width="5.5" height="3.4" fill="#c24bae"/>
<rect x="712.4" y="1801.1" width="13.1" height="3.4" fill="#c24bae"/>
<rect x="730.7" y="1801.1" width="15.4" height="3.4" fill="#c24bae"/>
<rect x="747.3" y="1801.1" width="8" height="3.4" fill="#c24bae"/>
<rect x="755.7" y="1801.1" width="4.3" height="3.4" fill="#c24bae"/>
<rect x="788.9" y="1801.1" width="1.1" height="3.4" fill="#c24bae"/>
<rect x="845" y="1801.1" width="4.6" height="3.4" fill="#c24bae"/>
<rect x="854.4" y="1801.1" width="4.8" height="3.4" fill="#c24bae"/>
<rect x="876.2" y="1801.1" width="7.3" height="3.4" fill="#c24bae"/>
<rect x="920.6" y="1801.1" width="5.3" height="3.4" fill="#c24bae"/>
<rect x="927" y="1801.1" width="2.7" height="3.4" fill="#c24bae"/>
<rect x="930.7" y="1801.1" width="5.3" height="3.4" fill="#c24bae"/>
<rect x="946.6" y="1801.1" width="7.6" height="3.4" fill="#c24bae"/>
<rect x="964.8" y="1801.1" width="7.5" height="3.4" fill="#c24bae"/>
<rect x="972.8" y="1801.1" width="3.1" height="3.4" fill="#c24bae"/>
<rect x="983.3" y="1801.1" width="6.7" height="3.4" fill="#c24bae"/>
<rect x="990" y="1801.1" width="15.5" height="3.4" fill="#c24bae"/>
<rect x="1005.9" y="1801.1" width="11.9" height="3.4" fill="#c24bae"/>
<rect x="1018.8" y="1801.1" width="6.7" height="3.4" fill="#c24bae"/>
<rect x="1026.7" y="1801.1" width="12.4" height="3.4" fill="#c24bae"/>
<rect x="1040.3" y="1801.1" width="7" height="3.4" fill="#c24bae"/>
<rect x="1047.4" y="1801.1" width="6.9" height="3.4" fill="#c24bae"/>
<rect x="1054.5" y="1801.1" width="3.6" height="3.4" fill="#c24bae"/>
<rect x="1058.7" y="1801.1" width="8.3" height="3.4" fill="#c24bae"/>
<rect x="1067.4" y="1801.1" width="12.2" height="3.4" fill="#c24bae"/>
<rect x="1080.1" y="1801.1" width="15.6" height="3.4" fill="#c24bae"/>
<rect x="1096.5" y="1801.1" width="12.2" height="3.4" fill="#c24bae"/>
<rect x="1109.7" y="1801.1" width="3.3" height="3.4" fill="#c24bae"/>
<rect x="1113.7" y="1801.1" width="8.3" height="3.4" fill="#c24bae"/>
<rect x="1123.4" y="1801.1" width="5.2" height="3.4" fill="#c24bae"/>
<rect x="1128.8" y="1801.1" width="1.2" height="3.4" fill="#c24bae"/>
<polygon points="785,1802.3 785,1802.2 786,1802.2 786,1802 787,1802 787,1802.3 788,1802.3 788,1802.1 789,1802.1 789,1802.3 790,1802.3 790,1802.2 791,1802.2 791,1801 792,1801 792,1802.3 793,1802.3 793,1802.2 794,1802.2 794,1802.3 795,1802.3 795,1801.4 796,1801.4 796,1802.1 797,1802.1 797,1802.2 798,1802.2 798,1801.6 799,1801.6 799,1801.4 800,1801.4 800,1801 801,1801 801,1801.8 802,1801.8 802,1797.7 803,1797.7 803,1791.8 804,1791.8 804,1774.4 805,1774.4 805,1765.7 806,1765.7 806,1754.4 807,1754.4 807,1754.7 808,1754.7 808,1754.5 809,1754.5 809,1786 810,1786 810,1798.3 811,1798.3 811,1794.2 812,1794.2 812,1788.9 813,1788.9 813,1782.8 814,1782.8 814,1783.1 815,1783.1 815,1780.3 816,1780.3 816,1777.2 817,1777.2 817,1785.5 818,1785.5 818,1790.8 819,1790.8 819,1791.1 820,1791.1 820,1787.5 821,1787.5 821,1785.6 822,1785.6 822,1785.2 823,1785.2 823,1786.3 824,1786.3 824,1789.2 825,1789.2 825,1791.1 826,1791.1 826,1795.2 827,1795.2 827,1797.5 828,1797.5 828,1793.6 829,1793.6 829,1793.1 830,1793.1 830,1792.6 831,1792.6 831,1794.1 832,1794.1 832,1792.6 833,1792.6 833,1795 834,1795 834,1795.5 835,1795.5 835,1797.2 836,1797.2 836,1797.8 837,1797.8 837,1798.6 838,1798.6 838,1797.3 839,1797.3 839,1798.5 840,1798.5 840,1799.1 841,1799.1 841,1800.2 842,1800.2 842,1800.8 843,1800.8 843,1801.4 844,1801.4 844,1801.1 845,1801.1 845,1802 846,1802 846,1802.2 847,1802.2 847,1801.3 848,1801.3 848,1802.3 849,1802.3 849,1802.3 850,1802.3 850,1802.3 851,1802.3 850,1802.3" fill="#a644b8"/>
<rect x="294.5" y="1851.3" width="835.5" height="2.4" fill="#c0b8e8"/>
<rect x="294.5" y="1851.3" width="8.9" height="3.4" fill="#c24bae"/>
<rect x="305" y="1851.3" width="11.5" height="3.4" fill="#c24bae"/>
<rect x="316.7" y="1851.3" width="3.2" height="3.4" fill="#c24bae"/>
<rect x="320.6" y="1851.3" width="6.5" height="3.4" fill="#c24bae"/>
<rect x="328.4" y="1851.3" width="8.1" height="3.4" fill="#c24bae"/>
<rect x="337.7" y="1851.3" width="5.3" height="3.4" fill="#c24bae"/>
<rect x="343.9" y="1851.3" width="3.7" height="3.4" fill="#c24bae"/>
<rect x="348.4" y="1851.3" width="11.2" height="3.4" fill="#c24bae"/>
<rect x="359.6" y="1851.3" width="9.8" height="3.4" fill="#c24bae"/>
<rect x="369.7" y="1851.3" width="7.1" height="3.4" fill="#c24bae"/>
<rect x="377.9" y="1851.3" width="8.2" height="3.4" fill="#c24bae"/>
<rect x="386.4" y="1851.3" width="7.6" height="3.4" fill="#c24bae"/>
<rect x="394.9" y="1851.3" width="6.4" height="3.4" fill="#c24bae"/>
<rect x="401.9" y="1851.3" width="12" height="3.4" fill="#c24bae"/>
<rect x="423" y="1851.3" width="11.3" height="3.4" fill="#c24bae"/>
<rect x="450.4" y="1851.3" width="3.7" height="3.4" fill="#c24bae"/>
<rect x="455.2" y="1851.3" width="4.4" height="3.4" fill="#c24bae"/>
<rect x="460.9" y="1851.3" width="3.1" height="3.4" fill="#c24bae"/>
<rect x="464.4" y="1851.3" width="4.9" height="3.4" fill="#c24bae"/>
<rect x="496.7" y="1851.3" width="6.5" height="3.4" fill="#c24bae"/>
<rect x="504.4" y="1851.3" width="10" height="3.4" fill="#c24bae"/>
<rect x="514.5" y="1851.3" width="5.7" height="3.4" fill="#c24bae"/>
<rect x="521.7" y="1851.3" width="14.6" height="3.4" fill="#c24bae"/>
<rect x="537.1" y="1851.3" width="11.3" height="3.4" fill="#c24bae"/>
<rect x="549.2" y="1851.3" width="6.4" height="3.4" fill="#c24bae"/>
<rect x="556.8" y="1851.3" width="15.3" height="3.4" fill="#c24bae"/>
<rect x="572.7" y="1851.3" width="14.8" height="3.4" fill="#c24bae"/>
<rect x="588.5" y="1851.3" width="14.9" height="3.4" fill="#c24bae"/>
<rect x="603.9" y="1851.3" width="9.8" height="3.4" fill="#c24bae"/>
<rect x="614.2" y="1851.3" width="10.3" height="3.4" fill="#c24bae"/>
<rect x="624.8" y="1851.3" width="15.1" height="3.4" fill="#c24bae"/>
<rect x="639.9" y="1851.3" width="14.3" height="3.4" fill="#c24bae"/>
<rect x="654.5" y="1851.3" width="8.1" height="3.4" fill="#c24bae"/>
<rect x="664" y="1851.3" width="10" height="3.4" fill="#c24bae"/>
<rect x="675" y="1851.3" width="14.8" height="3.4" fill="#c24bae"/>
<rect x="690.3" y="1851.3" width="3.9" height="3.4" fill="#c24bae"/>
<rect x="694.3" y="1851.3" width="7.9" height="3.4" fill="#c24bae"/>
<rect x="703.1" y="1851.3" width="10.9" height="3.4" fill="#c24bae"/>
<rect x="715" y="1851.3" width="4.4" height="3.4" fill="#c24bae"/>
<rect x="720.9" y="1851.3" width="8.6" height="3.4" fill="#c24bae"/>
<rect x="730.8" y="1851.3" width="15.4" height="3.4" fill="#c24bae"/>
<rect x="747.5" y="1851.3" width="10.6" height="3.4" fill="#c24bae"/>
<rect x="758.7" y="1851.3" width="1.3" height="3.4" fill="#c24bae"/>
<rect x="764.1" y="1851.3" width="3.8" height="3.4" fill="#c24bae"/>
<rect x="869.1" y="1851.3" width="6.3" height="3.4" fill="#c24bae"/>
<rect x="925.3" y="1851.3" width="3.3" height="3.4" fill="#c24bae"/>
<rect x="935.7" y="1851.3" width="4.6" height="3.4" fill="#c24bae"/>
<rect x="940.7" y="1851.3" width="6.5" height="3.4" fill="#c24bae"/>
<rect x="950.2" y="1851.3" width="4.2" height="3.4" fill="#c24bae"/>
<rect x="961.8" y="1851.3" width="7" height="3.4" fill="#c24bae"/>
<rect x="969" y="1851.3" width="6" height="3.4" fill="#c24bae"/>
<rect x="990" y="1851.3" width="10.2" height="3.4" fill="#c24bae"/>
<rect x="1000.3" y="1851.3" width="9.8" height="3.4" fill="#c24bae"/>
<rect x="1011.4" y="1851.3" width="10.1" height="3.4" fill="#c24bae"/>
<rect x="1022.9" y="1851.3" width="6.4" height="3.4" fill="#c24bae"/>
<rect x="1029.9" y="1851.3" width="15.6" height="3.4" fill="#c24bae"/>
<rect x="1046.4" y="1851.3" width="13.3" height="3.4" fill="#c24bae"/>
<rect x="1073.7" y="1851.3" width="5.1" height="3.4" fill="#c24bae"/>
<rect x="1089.2" y="1851.3" width="8.8" height="3.4" fill="#c24bae"/>
<rect x="1098.4" y="1851.3" width="15.8" height="3.4" fill="#c24bae"/>
<rect x="1114.6" y="1851.3" width="14.9" height="3.4" fill="#c24bae"/>
<polygon points="785,1852.5 785,1852.5 786,1852.5 786,1852.5 787,1852.5 787,1851.7 788,1851.7 788,1852 789,1852 789,1852.5 790,1852.5 790,1851.2 791,1851.2 791,1851.1 792,1851.1 792,1852.2 793,1852.2 793,1852.5 794,1852.5 794,1852.5 795,1852.5 795,1851.8 796,1851.8 796,1851.1 797,1851.1 797,1851.4 798,1851.4 798,1852.5 799,1852.5 799,1851.5 800,1851.5 800,1851.3 801,1851.3 801,1850.7 802,1850.7 802,1844.8 803,1844.8 803,1837.8 804,1837.8 804,1815 805,1815 805,1804 806,1804 806,1804.2 807,1804.2 807,1804 808,1804 808,1804 809,1804 809,1828.1 810,1828.1 810,1851.4 811,1851.4 811,1847.7 812,1847.7 812,1842.8 813,1842.8 813,1835.3 814,1835.3 814,1821 815,1821 815,1819.4 816,1819.4 816,1821 817,1821 817,1832.2 818,1832.2 818,1842.1 819,1842.1 819,1841.2 820,1841.2 820,1837.8 821,1837.8 821,1832.6 822,1832.6 822,1833 823,1833 823,1835.6 824,1835.6 824,1836.5 825,1836.5 825,1840.7 826,1840.7 826,1843.3 827,1843.3 827,1846.7 828,1846.7 828,1845.1 829,1845.1 829,1842.9 830,1842.9 830,1844.7 831,1844.7 831,1843.3 832,1843.3 832,1843.4 833,1843.4 833,1843.2 834,1843.2 834,1845.1 835,1845.1 835,1846.6 836,1846.6 836,1848.6 837,1848.6 837,1849.5 838,1849.5 838,1847.3 839,1847.3 839,1847.7 840,1847.7 840,1846.8 841,1846.8 841,1847.9 842,1847.9 842,1849 843,1849 843,1849.4 844,1849.4 844,1850.2 845,1850.2 845,1849.9 846,1849.9 846,1851.8 847,1851.8 847,1851.4 848,1851.4 848,1852.3 849,1852.3 849,1852.4 850,1852.4 850,1852.4 851,1852.4 850,1852.5" fill="#c0b8e8"/>
<rect x="805" y="1804" width="1" height="3.5" fill="#c24bae"/>
<rect x="807" y="1804" width="2" height="3.5" fill="#c24bae"/>
<rect x="807" y="1901.1" width="81" height="2.4" fill="#e5467b"/>
<rect x="895" y="1901.1" width="8" height="2.4" fill="#e5467b"/>
<rect x="922" y="1901.1" width="6" height="2.4" fill="#e5467b"/>
<rect x="952" y="1901.1" width="6" height="2.4" fill="#e5467b"/>
<polygon points="810,1902.3 810,1901.3 811.2,1901.3 811.2,1901 812.4,1901 812.4,1900.1 813.6,1900.1 813.6,1898.8 814.8,1898.8 814.8,1899.7 816,1899.7 816,1897.9 817.2,1897.9 817.2,1896.8 818.4,1896.8 818.4,1896 819.6,1896 819.6,1895.9 820.8,1895.9 820.8,1896.2 822,1896.2 822,1899.1 823.2,1899.1 823.2,1897.3 824.4,1897.3 824.4,1897 825.6,1897 825.6,1900 826.8,1900 826.8,1900.1 828,1900.1 828,1900 829.2,1900 829.2,1897.7 830.4,1897.7 830.4,1897.4 831.6,1897.4 831.6,1894.6 832.8,1894.6 832.8,1891.3 834,1891.3 834,1888.5 835.2,1888.5 835.2,1889.9 836.4,1889.9 836.4,1893.1 837.6,1893.1 837.6,1890.2 838.8,1890.2 838.8,1896.9 840,1896.9 840,1896.5 841.2,1896.5 841.2,1895.5 842.4,1895.5 842.4,1887.9 843.6,1887.9 843.6,1885.4 844.8,1885.4 844.8,1890.9 846,1890.9 846,1888.2 847.2,1888.2 847.2,1891.2 848.4,1891.2 848.4,1894.7 849.6,1894.7 849.6,1893.3 850.8,1893.3 850.8,1897.5 852,1897.5 852,1897 853.2,1897 853.2,1886.9 854.4,1886.9 854.4,1881.3 855.6,1881.3 855.6,1888 856.8,1888 856.8,1888 858,1888 858,1896.5 859.2,1896.5 859.2,1898 860.4,1898 860.4,1897 861.6,1897 861.6,1894.4 862.8,1894.4 862.8,1892.6 864,1892.6 864,1894.4 865.2,1894.4 865.2,1890.3 866.4,1890.3 866.4,1891.6 867.6,1891.6 867.6,1892.9 868.8,1892.9 868.8,1894.9 870,1894.9 870,1896.3 871.2,1896.3 871.2,1893.8 872.4,1893.8 872.4,1895.2 873.6,1895.2 873.6,1886.1 874.8,1886.1 874.8,1884.7 876,1884.7 876,1887.1 877.2,1887.1 877.2,1892.7 878.4,1892.7 878.4,1891.5 879.6,1891.5 879.6,1895.7 880.8,1895.7 880.8,1897 882,1897 882,1891.8 883.2,1891.8 883.2,1893.6 884.4,1893.6 884.4,1895 885.6,1895 885.6,1898.3 886.8,1898.3 886.8,1900.2 888,1900.2 888,1902.3" fill="#e5467b"/>
<rect x="806" y="1951.8" width="83" height="2.4" fill="#a644b8"/>
<rect x="893" y="1951.8" width="5" height="2.4" fill="#a644b8"/>
<rect x="903" y="1951.8" width="4" height="2.4" fill="#a644b8"/>
<rect x="922" y="1951.8" width="4" height="2.4" fill="#a644b8"/>
<rect x="948" y="1951.8" width="5" height="2.4" fill="#a644b8"/>
<polygon points="810,1953 810,1952.4 811.2,1952.4 811.2,1951.6 812.4,1951.6 812.4,1950.8 813.6,1950.8 813.6,1951.1 814.8,1951.1 814.8,1950.7 816,1950.7 816,1947.9 817.2,1947.9 817.2,1947.7 818.4,1947.7 818.4,1946.9 819.6,1946.9 819.6,1949.6 820.8,1949.6 820.8,1946.6 822,1946.6 822,1946.7 823.2,1946.7 823.2,1947.6 824.4,1947.6 824.4,1947.8 825.6,1947.8 825.6,1949.7 826.8,1949.7 826.8,1950.2 828,1950.2 828,1950.7 829.2,1950.7 829.2,1949 830.4,1949 830.4,1946.9 831.6,1946.9 831.6,1944.8 832.8,1944.8 832.8,1946.6 834,1946.6 834,1940.8 835.2,1940.8 835.2,1946.3 836.4,1946.3 836.4,1941.6 837.6,1941.6 837.6,1943.4 838.8,1943.4 838.8,1945.3 840,1945.3 840,1949.9 841.2,1949.9 841.2,1950.3 842.4,1950.3 842.4,1948.6 843.6,1948.6 843.6,1948.5 844.8,1948.5 844.8,1943.6 846,1943.6 846,1944.5 847.2,1944.5 847.2,1938.4 848.4,1938.4 848.4,1942.9 849.6,1942.9 849.6,1939.7 850.8,1939.7 850.8,1947.3 852,1947.3 852,1946.4 853.2,1946.4 853.2,1950.9 854.4,1950.9 854.4,1951.5 855.6,1951.5 855.6,1952 856.8,1952 856.8,1952.1 858,1952.1 858,1950 859.2,1950 859.2,1946.3 860.4,1946.3 860.4,1941 861.6,1941 861.6,1922.5 862.8,1922.5 862.8,1935.2 864,1935.2 864,1939.9 865.2,1939.9 865.2,1945.3 866.4,1945.3 866.4,1943 867.6,1943 867.6,1937.7 868.8,1937.7 868.8,1933.5 870,1933.5 870,1933 871.2,1933 871.2,1933.7 872.4,1933.7 872.4,1943.3 873.6,1943.3 873.6,1946.1 874.8,1946.1 874.8,1943 876,1943 876,1940.6 877.2,1940.6 877.2,1931.3 878.4,1931.3 878.4,1938.3 879.6,1938.3 879.6,1940.8 880.8,1940.8 880.8,1941.4 882,1941.4 882,1946.5 883.2,1946.5 883.2,1946.2 884.4,1946.2 884.4,1943.4 885.6,1943.4 885.6,1943.4 886.8,1943.4 886.8,1945.9 888,1945.9 888,1950 889.2,1950 889,1953" fill="#a644b8"/>
<rect x="796" y="2002.4" width="4" height="2.4" fill="#c0b8e8"/>
<rect x="806" y="2002.4" width="84" height="2.4" fill="#c0b8e8"/>
<rect x="893" y="2002.4" width="20" height="2.4" fill="#c0b8e8"/>
<rect x="918" y="2002.4" width="21" height="2.4" fill="#c0b8e8"/>
<rect x="962" y="2002.4" width="4" height="2.4" fill="#c0b8e8"/>
<rect x="1000" y="2002.4" width="7" height="2.4" fill="#c0b8e8"/>
<rect x="1042" y="2002.4" width="8" height="2.4" fill="#c0b8e8"/>
<rect x="1060" y="2002.4" width="2" height="2.4" fill="#c0b8e8"/>
<rect x="1105" y="2002.4" width="5" height="2.4" fill="#c0b8e8"/>
<polygon points="808,2003.6 808,2001.2 809.2,2001.2 809.2,2000.3 810.4,2000.3 810.4,2000.3 811.6,2000.3 811.6,1996.8 812.8,1996.8 812.8,1995.5 814,1995.5 814,1993.2 815.2,1993.2 815.2,1993.4 816.4,1993.4 816.4,1990.3 817.6,1990.3 817.6,1993 818.8,1993 818.8,1989.6 820,1989.6 820,1990.6 821.2,1990.6 821.2,1995.2 822.4,1995.2 822.4,1994.7 823.6,1994.7 823.6,1999 824.8,1999 824.8,1995.4 826,1995.4 826,1989.7 827.2,1989.7 827.2,1992.3 828.4,1992.3 828.4,1993.3 829.6,1993.3 829.6,1984.9 830.8,1984.9 830.8,1994.1 832,1994.1 832,1996.8 833.2,1996.8 833.2,1997.5 834.4,1997.5 834.4,1997.2 835.6,1997.2 835.6,1990.7 836.8,1990.7 836.8,1983.8 838,1983.8 838,1974.3 839.2,1974.3 839.2,1977.2 840.4,1977.2 840.4,1972.6 841.6,1972.6 841.6,1972.6 842.8,1972.6 842.8,1988.9 844,1988.9 844,1987.1 845.2,1987.1 845.2,1995.4 846.4,1995.4 846.4,1994.5 847.6,1994.5 847.6,1986.2 848.8,1986.2 848.8,1981.3 850,1981.3 850,1972.8 851.2,1972.8 851.2,1987.4 852.4,1987.4 852.4,1980.9 853.6,1980.9 853.6,1990.7 854.8,1990.7 854.8,1997.9 856,1997.9 856,1993.6 857.2,1993.6 857.2,1980.2 858.4,1980.2 858.4,1967.9 859.6,1967.9 859.6,1974.6 860.8,1974.6 860.8,1966.9 862,1966.9 862,1972.5 863.2,1972.5 863.2,1990.2 864.4,1990.2 864.4,1985.7 865.6,1985.7 865.6,1985.2 866.8,1985.2 866.8,1963.8 868,1963.8 868,1962.3 869.2,1962.3 869.2,1971 870.4,1971 870.4,1980.5 871.6,1980.5 871.6,1988.6 872.8,1988.6 872.8,1985.5 874,1985.5 874,1973.8 875.2,1973.8 875.2,1979.3 876.4,1979.3 876.4,1963.3 877.6,1963.3 877.6,1969.8 878.8,1969.8 878.8,1986.5 880,1986.5 880,1995.6 881.2,1995.6 881.2,1996.5 882.4,1996.5 882.4,1988.9 883.6,1988.9 883.6,1988 884.8,1988 884.8,1992.5 886,1992.5 886,1991.8 887.2,1991.8 887.2,1998.5 888.4,1998.5 888.4,2001.7 889.6,2001.7 889.6,2002.9 890.8,2002.9 890,2003.6" fill="#c0b8e8"/>
<line x1="264.8" y1="2027.9" x2="1141.6" y2="2027.9" stroke="#221c6e" stroke-width="2"/>
<path d="M271.1,2023.1L267.7,2027.9L271.1,2032.7M276.5,2023.1L273.1,2027.9L276.5,2032.7M281.9,2023.1L278.6,2027.9L281.9,2032.7M287.4,2023.1L284,2027.9L287.4,2032.7M292.8,2023.1L289.4,2027.9L292.8,2032.7M298.2,2023.1L294.9,2027.9L298.2,2032.7M303.7,2023.1L300.3,2027.9L303.7,2032.7M309.1,2023.1L305.7,2027.9L309.1,2032.7M314.5,2023.1L311.2,2027.9L314.5,2032.7M319.9,2023.1L316.6,2027.9L319.9,2032.7M325.4,2023.1L322,2027.9L325.4,2032.7M330.8,2023.1L327.4,2027.9L330.8,2032.7M336.2,2023.1L332.9,2027.9L336.2,2032.7M341.7,2023.1L338.3,2027.9L341.7,2032.7M347.1,2023.1L343.7,2027.9L347.1,2032.7M352.5,2023.1L349.2,2027.9L352.5,2032.7M358,2023.1L354.6,2027.9L358,2032.7M363.4,2023.1L360,2027.9L363.4,2032.7M368.8,2023.1L365.5,2027.9L368.8,2032.7M374.2,2023.1L370.9,2027.9L374.2,2032.7M379.7,2023.1L376.3,2027.9L379.7,2032.7M385.1,2023.1L381.7,2027.9L385.1,2032.7M390.5,2023.1L387.2,2027.9L390.5,2032.7M396,2023.1L392.6,2027.9L396,2032.7M401.4,2023.1L398,2027.9L401.4,2032.7M406.8,2023.1L403.5,2027.9L406.8,2032.7M412.3,2023.1L408.9,2027.9L412.3,2032.7M417.7,2023.1L414.3,2027.9L417.7,2032.7M423.1,2023.1L419.8,2027.9L423.1,2032.7M428.5,2023.1L425.2,2027.9L428.5,2032.7M434,2023.1L430.6,2027.9L434,2032.7M439.4,2023.1L436,2027.9L439.4,2032.7M444.8,2023.1L441.5,2027.9L444.8,2032.7M450.3,2023.1L446.9,2027.9L450.3,2032.7M455.7,2023.1L452.3,2027.9L455.7,2032.7M461.1,2023.1L457.8,2027.9L461.1,2032.7M466.6,2023.1L463.2,2027.9L466.6,2032.7M472,2023.1L468.6,2027.9L472,2032.7M477.4,2023.1L474.1,2027.9L477.4,2032.7M482.8,2023.1L479.5,2027.9L482.8,2032.7M488.3,2023.1L484.9,2027.9L488.3,2032.7M493.7,2023.1L490.3,2027.9L493.7,2032.7M499.1,2023.1L495.8,2027.9L499.1,2032.7M504.6,2023.1L501.2,2027.9L504.6,2032.7M510,2023.1L506.6,2027.9L510,2032.7M515.4,2023.1L512.1,2027.9L515.4,2032.7M520.9,2023.1L517.5,2027.9L520.9,2032.7M526.3,2023.1L522.9,2027.9L526.3,2032.7M531.7,2023.1L528.4,2027.9L531.7,2032.7M537.1,2023.1L533.8,2027.9L537.1,2032.7M542.6,2023.1L539.2,2027.9L542.6,2032.7M548,2023.1L544.6,2027.9L548,2032.7M553.4,2023.1L550.1,2027.9L553.4,2032.7M558.9,2023.1L555.5,2027.9L558.9,2032.7M564.3,2023.1L560.9,2027.9L564.3,2032.7M569.7,2023.1L566.4,2027.9L569.7,2032.7M575.2,2023.1L571.8,2027.9L575.2,2032.7M580.6,2023.1L577.2,2027.9L580.6,2032.7M586,2023.1L582.7,2027.9L586,2032.7M591.4,2023.1L588.1,2027.9L591.4,2032.7M596.9,2023.1L593.5,2027.9L596.9,2032.7M602.3,2023.1L598.9,2027.9L602.3,2032.7M607.7,2023.1L604.4,2027.9L607.7,2032.7M613.2,2023.1L609.8,2027.9L613.2,2032.7M618.6,2023.1L615.2,2027.9L618.6,2032.7M624,2023.1L620.7,2027.9L624,2032.7M629.5,2023.1L626.1,2027.9L629.5,2032.7M634.9,2023.1L631.5,2027.9L634.9,2032.7M640.3,2023.1L637,2027.9L640.3,2032.7M645.7,2023.1L642.4,2027.9L645.7,2032.7M651.2,2023.1L647.8,2027.9L651.2,2032.7M656.6,2023.1L653.2,2027.9L656.6,2032.7M662,2023.1L658.7,2027.9L662,2032.7M667.5,2023.1L664.1,2027.9L667.5,2032.7M672.9,2023.1L669.5,2027.9L672.9,2032.7M678.3,2023.1L675,2027.9L678.3,2032.7M683.8,2023.1L680.4,2027.9L683.8,2032.7M689.2,2023.1L685.8,2027.9L689.2,2032.7M694.6,2023.1L691.3,2027.9L694.6,2032.7M700,2023.1L696.7,2027.9L700,2032.7M705.5,2023.1L702.1,2027.9L705.5,2032.7M710.9,2023.1L707.5,2027.9L710.9,2032.7M716.3,2023.1L713,2027.9L716.3,2032.7M721.8,2023.1L718.4,2027.9L721.8,2032.7M727.2,2023.1L723.8,2027.9L727.2,2032.7M732.6,2023.1L729.3,2027.9L732.6,2032.7M738.1,2023.1L734.7,2027.9L738.1,2032.7M743.5,2023.1L740.1,2027.9L743.5,2032.7M748.9,2023.1L745.6,2027.9L748.9,2032.7M754.3,2023.1L751,2027.9L754.3,2032.7M759.8,2023.1L756.4,2027.9L759.8,2032.7M765.2,2023.1L761.8,2027.9L765.2,2032.7M770.6,2023.1L767.3,2027.9L770.6,2032.7M776.1,2023.1L772.7,2027.9L776.1,2032.7M781.5,2023.1L778.1,2027.9L781.5,2032.7M786.9,2023.1L783.6,2027.9L786.9,2032.7M792.4,2023.1L789,2027.9L792.4,2032.7M797.8,2023.1L794.4,2027.9L797.8,2032.7M803.2,2023.1L799.9,2027.9L803.2,2032.7M808.6,2023.1L805.3,2027.9L808.6,2032.7M814.1,2023.1L810.7,2027.9L814.1,2032.7M819.5,2023.1L816.1,2027.9L819.5,2032.7M824.9,2023.1L821.6,2027.9L824.9,2032.7M830.4,2023.1L827,2027.9L830.4,2032.7M835.8,2023.1L832.4,2027.9L835.8,2032.7M841.2,2023.1L837.9,2027.9L841.2,2032.7M846.7,2023.1L843.3,2027.9L846.7,2032.7M852.1,2023.1L848.7,2027.9L852.1,2032.7M857.5,2023.1L854.2,2027.9L857.5,2032.7M862.9,2023.1L859.6,2027.9L862.9,2032.7M868.4,2023.1L865,2027.9L868.4,2032.7M873.8,2023.1L870.4,2027.9L873.8,2032.7M879.2,2023.1L875.9,2027.9L879.2,2032.7M884.7,2023.1L881.3,2027.9L884.7,2032.7M890.1,2023.1L886.7,2027.9L890.1,2032.7M895.5,2023.1L892.2,2027.9L895.5,2032.7M901,2023.1L897.6,2027.9L901,2032.7M906.4,2023.1L903,2027.9L906.4,2032.7M911.8,2023.1L908.5,2027.9L911.8,2032.7M917.2,2023.1L913.9,2027.9L917.2,2032.7M922.7,2023.1L919.3,2027.9L922.7,2032.7M928.1,2023.1L924.7,2027.9L928.1,2032.7M933.5,2023.1L930.2,2027.9L933.5,2032.7M939,2023.1L935.6,2027.9L939,2032.7M944.4,2023.1L941,2027.9L944.4,2032.7M949.8,2023.1L946.5,2027.9L949.8,2032.7M955.3,2023.1L951.9,2027.9L955.3,2032.7M960.7,2023.1L957.3,2027.9L960.7,2032.7M966.1,2023.1L962.8,2027.9L966.1,2032.7M971.5,2023.1L968.2,2027.9L971.5,2032.7M977,2023.1L973.6,2027.9L977,2032.7M982.4,2023.1L979,2027.9L982.4,2032.7M987.8,2023.1L984.5,2027.9L987.8,2032.7M993.3,2023.1L989.9,2027.9L993.3,2032.7M998.7,2023.1L995.3,2027.9L998.7,2032.7M1004.1,2023.1L1000.8,2027.9L1004.1,2032.7M1009.6,2023.1L1006.2,2027.9L1009.6,2032.7M1015,2023.1L1011.6,2027.9L1015,2032.7M1020.4,2023.1L1017.1,2027.9L1020.4,2032.7M1025.8,2023.1L1022.5,2027.9L1025.8,2032.7M1031.3,2023.1L1027.9,2027.9L1031.3,2032.7M1036.7,2023.1L1033.3,2027.9L1036.7,2032.7M1042.1,2023.1L1038.8,2027.9L1042.1,2032.7M1047.6,2023.1L1044.2,2027.9L1047.6,2032.7M1053,2023.1L1049.6,2027.9L1053,2032.7M1058.4,2023.1L1055.1,2027.9L1058.4,2032.7M1063.9,2023.1L1060.5,2027.9L1063.9,2032.7M1069.3,2023.1L1065.9,2027.9L1069.3,2032.7M1074.7,2023.1L1071.4,2027.9L1074.7,2032.7M1080.1,2023.1L1076.8,2027.9L1080.1,2032.7M1085.6,2023.1L1082.2,2027.9L1085.6,2032.7M1091,2023.1L1087.6,2027.9L1091,2032.7M1096.4,2023.1L1093.1,2027.9L1096.4,2032.7M1101.9,2023.1L1098.5,2027.9L1101.9,2032.7M1107.3,2023.1L1103.9,2027.9L1107.3,2032.7M1112.7,2023.1L1109.4,2027.9L1112.7,2032.7M1118.2,2023.1L1114.8,2027.9L1118.2,2032.7M1123.6,2023.1L1120.2,2027.9L1123.6,2032.7M1129,2023.1L1125.7,2027.9L1129,2032.7M1134.4,2023.1L1131.1,2027.9L1134.4,2032.7M1139.9,2023.1L1136.5,2027.9L1139.9,2032.7" fill="none" stroke="#8f87d4" stroke-width="1.9"/>
<text x="704.5" y="2061" font-size="24" fill="#2e1f6b" font-style="italic">Fbxl14</text>
<rect x="845.6" y="2047" width="37.4" height="10.6" fill="#2c2878"/>
<rect x="813" y="2046.5" width="6" height="12" fill="#2c2878"/>
<rect x="817.5" y="2042.8" width="28.1" height="19.2" fill="#2c2878"/>
<path d="M817.3,2048.2L820.2,2052.4L817.3,2056.6M821.7,2048.2L824.6,2052.4L821.7,2056.6M826.1,2048.2L829,2052.4L826.1,2056.6M830.5,2048.2L833.4,2052.4L830.5,2056.6M834.9,2048.2L837.8,2052.4L834.9,2056.6" fill="none" stroke="#ffffff" stroke-width="1.5"/>
<text x="-0.4" y="2119.7" font-size="48" fill="#111">g</text>
<text x="150" y="2131" font-size="32" fill="#111">Expression of <tspan font-style="italic">Sinhcaf</tspan></text>
<text x="592.5" y="2131" font-size="32" fill="#111">Expression of <tspan font-style="italic">Fbxl14</tspan></text>
<text x="992" y="2127.6" font-size="48" fill="#111">h</text>
<text x="1072" y="2128.8" font-size="32" fill="#111">H3K27ac at <tspan font-style="italic">Sinhcaf</tspan> promoter</text>
<text x="1562" y="2131" font-size="32" fill="#111">H3K27ac at <tspan font-style="italic">Fbxl14</tspan> promoter</text>
<rect x="173.7" y="2362.7" width="85.5" height="193.3" fill="#d94b75" stroke="#1a1a1a" stroke-width="2"/>
<rect x="269.3" y="2316.6" width="86.1" height="239.4" fill="#9b46ad" stroke="#1a1a1a" stroke-width="2"/>
<rect x="365.2" y="2200.8" width="86.1" height="355.2" fill="#bab4e4" stroke="#1a1a1a" stroke-width="2"/>
<line x1="132.7" y1="2172.9" x2="132.7" y2="2557.5" stroke="#111" stroke-width="3.2"/>
<line x1="131.2" y1="2556" x2="492.9" y2="2556" stroke="#111" stroke-width="3.2"/>
<line x1="492.9" y1="2557.5" x2="492.9" y2="2546" stroke="#111" stroke-width="3.2"/>
<line x1="121.7" y1="2174.4" x2="132.7" y2="2174.4" stroke="#111" stroke-width="3"/>
<text x="110.7" y="2182.4" font-size="23" fill="#111" text-anchor="end">100</text>
<line x1="121.7" y1="2250.7" x2="132.7" y2="2250.7" stroke="#111" stroke-width="3"/>
<text x="110.7" y="2258.7" font-size="23" fill="#111" text-anchor="end">80</text>
<line x1="121.7" y1="2327" x2="132.7" y2="2327" stroke="#111" stroke-width="3"/>
<text x="110.7" y="2335" font-size="23" fill="#111" text-anchor="end">60</text>
<line x1="121.7" y1="2403.3" x2="132.7" y2="2403.3" stroke="#111" stroke-width="3"/>
<text x="110.7" y="2411.3" font-size="23" fill="#111" text-anchor="end">40</text>
<line x1="121.7" y1="2479.6" x2="132.7" y2="2479.6" stroke="#111" stroke-width="3"/>
<text x="110.7" y="2487.6" font-size="23" fill="#111" text-anchor="end">20</text>
<text x="213" y="2353.7" font-size="23" fill="#111" text-anchor="middle">50.7</text>
<text x="309" y="2302.7" font-size="23" fill="#111" text-anchor="middle">62.71</text>
<text x="405" y="2190.5" font-size="23" fill="#111" text-anchor="middle">92.97</text>
<text x="212.3" y="2587" font-size="31.5" fill="#111" text-anchor="middle">J1</text>
<text x="308.8" y="2587" font-size="31.5" fill="#111" text-anchor="middle">PB1</text>
<text x="406" y="2587" font-size="31.5" fill="#111" text-anchor="middle">PB14</text>
<text x="110.5" y="2563" font-size="23" fill="#111" text-anchor="end">0</text>
<text x="59.5" y="2363.5" font-size="32" fill="#111" text-anchor="middle" transform="rotate(-90 59.5 2363.5)">RNA-seq (FPKM)</text>
<rect x="612.7" y="2271" width="86.1" height="285" fill="#d94b75" stroke="#1a1a1a" stroke-width="2"/>
<rect x="708" y="2320.5" width="86" height="235.5" fill="#9b46ad" stroke="#1a1a1a" stroke-width="2"/>
<rect x="803.6" y="2191.3" width="86.7" height="364.7" fill="#bab4e4" stroke="#1a1a1a" stroke-width="2"/>
<line x1="572" y1="2172.9" x2="572" y2="2557.5" stroke="#111" stroke-width="3.2"/>
<line x1="570.5" y1="2556" x2="931.3" y2="2556" stroke="#111" stroke-width="3.2"/>
<line x1="931.3" y1="2557.5" x2="931.3" y2="2546" stroke="#111" stroke-width="3.2"/>
<line x1="561" y1="2174.4" x2="572" y2="2174.4" stroke="#111" stroke-width="3"/>
<text x="545.7" y="2182.4" font-size="23" fill="#111" text-anchor="end">4.0</text>
<line x1="561" y1="2222.1" x2="572" y2="2222.1" stroke="#111" stroke-width="3"/>
<line x1="561" y1="2269.8" x2="572" y2="2269.8" stroke="#111" stroke-width="3"/>
<text x="545.7" y="2277.8" font-size="23" fill="#111" text-anchor="end">3.0</text>
<line x1="561" y1="2317.5" x2="572" y2="2317.5" stroke="#111" stroke-width="3"/>
<line x1="561" y1="2365.2" x2="572" y2="2365.2" stroke="#111" stroke-width="3"/>
<text x="545.7" y="2373.2" font-size="23" fill="#111" text-anchor="end">2.0</text>
<line x1="561" y1="2412.9" x2="572" y2="2412.9" stroke="#111" stroke-width="3"/>
<line x1="561" y1="2460.6" x2="572" y2="2460.6" stroke="#111" stroke-width="3"/>
<text x="545.7" y="2468.6" font-size="23" fill="#111" text-anchor="end">1.0</text>
<line x1="561" y1="2508.3" x2="572" y2="2508.3" stroke="#111" stroke-width="3"/>
<text x="545.7" y="2564" font-size="23" fill="#111" text-anchor="end">0.0</text>
<text x="654" y="2261.7" font-size="23" fill="#111" text-anchor="middle">2.99</text>
<text x="750.5" y="2308.6" font-size="23" fill="#111" text-anchor="middle">2.47</text>
<text x="845.5" y="2181" font-size="23" fill="#111" text-anchor="middle">3.82</text>
<text x="649.2" y="2587" font-size="31.5" fill="#111" text-anchor="middle">J1</text>
<text x="747.2" y="2587" font-size="31.5" fill="#111" text-anchor="middle">PB1</text>
<text x="845.5" y="2587" font-size="31.5" fill="#111" text-anchor="middle">PB14</text>
<rect x="1159" y="2416.6" width="87.2" height="139.4" fill="#d94b75" stroke="#1a1a1a" stroke-width="2"/>
<rect x="1254.9" y="2419.7" width="86.4" height="136.3" fill="#9b46ad" stroke="#1a1a1a" stroke-width="2"/>
<rect x="1350.6" y="2213.4" width="86.4" height="342.6" fill="#bab4e4" stroke="#1a1a1a" stroke-width="2"/>
<line x1="1118" y1="2172.1" x2="1118" y2="2557.5" stroke="#111" stroke-width="3.2"/>
<line x1="1116.5" y1="2556" x2="1477.8" y2="2556" stroke="#111" stroke-width="3.2"/>
<line x1="1477.8" y1="2557.5" x2="1477.8" y2="2546" stroke="#111" stroke-width="3.2"/>
<line x1="1107" y1="2173.6" x2="1118" y2="2173.6" stroke="#111" stroke-width="3"/>
<text x="1093.2" y="2181.6" font-size="23" fill="#111" text-anchor="end">3.5</text>
<line x1="1107" y1="2228.2" x2="1118" y2="2228.2" stroke="#111" stroke-width="3"/>
<text x="1093.2" y="2236.2" font-size="23" fill="#111" text-anchor="end">3.0</text>
<line x1="1107" y1="2282.7" x2="1118" y2="2282.7" stroke="#111" stroke-width="3"/>
<text x="1093.2" y="2290.7" font-size="23" fill="#111" text-anchor="end">2.5</text>
<line x1="1107" y1="2337.3" x2="1118" y2="2337.3" stroke="#111" stroke-width="3"/>
<text x="1093.2" y="2345.3" font-size="23" fill="#111" text-anchor="end">2.0</text>
<line x1="1107" y1="2391.9" x2="1118" y2="2391.9" stroke="#111" stroke-width="3"/>
<text x="1093.2" y="2399.9" font-size="23" fill="#111" text-anchor="end">1.5</text>
<line x1="1107" y1="2446.5" x2="1118" y2="2446.5" stroke="#111" stroke-width="3"/>
<text x="1093.2" y="2454.5" font-size="23" fill="#111" text-anchor="end">1.0</text>
<line x1="1107" y1="2501" x2="1118" y2="2501" stroke="#111" stroke-width="3"/>
<text x="1093.2" y="2509" font-size="23" fill="#111" text-anchor="end">0.5</text>
<text x="1093.2" y="2563.6" font-size="23" fill="#111" text-anchor="end">0.0</text>
<text x="1201.5" y="2404.3" font-size="23" fill="#111" text-anchor="middle">1.28</text>
<text x="1297.3" y="2408" font-size="23" fill="#111" text-anchor="middle">1.25</text>
<text x="1392.2" y="2203.5" font-size="23" fill="#111" text-anchor="middle">3.14</text>
<text x="1200" y="2587" font-size="31.5" fill="#111" text-anchor="middle">J1</text>
<text x="1295.8" y="2587" font-size="31.5" fill="#111" text-anchor="middle">PB1</text>
<text x="1392.2" y="2587" font-size="31.5" fill="#111" text-anchor="middle">PB14</text>
<text x="1026.8" y="2364" font-size="32" fill="#111" text-anchor="middle" transform="rotate(-90 1026.8 2364)">ChIP-seq (Input-RPKM)</text>
<rect x="1637.8" y="2346.7" width="85.9" height="209.8" fill="#d94b75" stroke="#1a1a1a" stroke-width="2"/>
<rect x="1733.5" y="2294.8" width="86.5" height="261.7" fill="#9b46ad" stroke="#1a1a1a" stroke-width="2"/>
<rect x="1828.9" y="2192.6" width="86.5" height="363.9" fill="#bab4e4" stroke="#1a1a1a" stroke-width="2"/>
<line x1="1597.2" y1="2173.9" x2="1597.2" y2="2558" stroke="#111" stroke-width="3.2"/>
<line x1="1595.7" y1="2556.5" x2="1956.3" y2="2556.5" stroke="#111" stroke-width="3.2"/>
<line x1="1956.3" y1="2558" x2="1956.3" y2="2546.5" stroke="#111" stroke-width="3.2"/>
<line x1="1586.2" y1="2175.4" x2="1597.2" y2="2175.4" stroke="#111" stroke-width="3"/>
<text x="1575" y="2183.4" font-size="23" fill="#111" text-anchor="end">20</text>
<line x1="1586.2" y1="2270.6" x2="1597.2" y2="2270.6" stroke="#111" stroke-width="3"/>
<text x="1575" y="2278.6" font-size="23" fill="#111" text-anchor="end">15</text>
<line x1="1586.2" y1="2365.8" x2="1597.2" y2="2365.8" stroke="#111" stroke-width="3"/>
<text x="1575" y="2373.8" font-size="23" fill="#111" text-anchor="end">10</text>
<line x1="1586.2" y1="2460.9" x2="1597.2" y2="2460.9" stroke="#111" stroke-width="3"/>
<text x="1575" y="2468.9" font-size="23" fill="#111" text-anchor="end">5</text>
<text x="1575" y="2564.1" font-size="23" fill="#111" text-anchor="end">0</text>
<text x="1680.5" y="2337.8" font-size="23" fill="#111" text-anchor="middle">11.03</text>
<text x="1775.3" y="2285" font-size="23" fill="#111" text-anchor="middle">13.74</text>
<text x="1871.1" y="2183.7" font-size="23" fill="#111" text-anchor="middle">19.09</text>
<text x="1678.5" y="2587" font-size="31.5" fill="#111" text-anchor="middle">J1</text>
<text x="1775" y="2587" font-size="31.5" fill="#111" text-anchor="middle">PB1</text>
<text x="1871" y="2587" font-size="31.5" fill="#111" text-anchor="middle">PB14</text>
</svg>
</body></html>
